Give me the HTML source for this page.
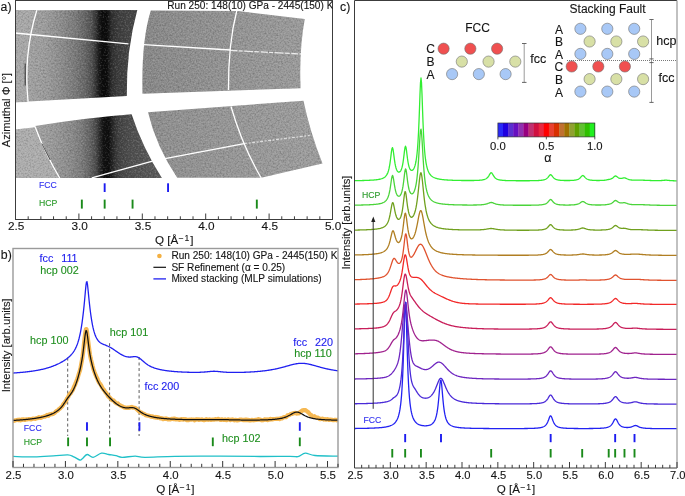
<!DOCTYPE html>
<html><head><meta charset="utf-8"><style>
html,body{margin:0;padding:0;background:#fff;width:685px;height:496px;overflow:hidden;}
svg{display:block;font-family:"Liberation Sans",sans-serif;will-change:transform;}
</style></head><body>
<svg width="685" height="496" viewBox="0 0 685 496">
<rect width="685" height="496" fill="#fff"/>
<defs>
<linearGradient id="gUL" gradientUnits="userSpaceOnUse" x1="15" y1="0" x2="140" y2="0"><stop offset="0.0000" stop-color="#a4a4a4"/><stop offset="0.1040" stop-color="#a2a2a2"/><stop offset="0.2400" stop-color="#9c9c9c"/><stop offset="0.3600" stop-color="#8e8e8e"/><stop offset="0.4800" stop-color="#7a7a7a"/><stop offset="0.5600" stop-color="#666666"/><stop offset="0.6160" stop-color="#505050"/><stop offset="0.6480" stop-color="#343434"/><stop offset="0.6720" stop-color="#1a1a1a"/><stop offset="0.6960" stop-color="#0c0c0c"/><stop offset="0.7360" stop-color="#0c0c0c"/><stop offset="0.7520" stop-color="#1c1c1c"/><stop offset="0.7760" stop-color="#303030"/><stop offset="0.8240" stop-color="#3c3c3c"/><stop offset="0.8960" stop-color="#444444"/><stop offset="1.0000" stop-color="#484848"/></linearGradient>
<linearGradient id="gLL" gradientUnits="userSpaceOnUse" x1="15" y1="0" x2="165" y2="0"><stop offset="0.0000" stop-color="#a4a4a4"/><stop offset="0.1400" stop-color="#a2a2a2"/><stop offset="0.2667" stop-color="#989898"/><stop offset="0.3800" stop-color="#8a8a8a"/><stop offset="0.4467" stop-color="#7a7a7a"/><stop offset="0.5000" stop-color="#646464"/><stop offset="0.5400" stop-color="#4a4a4a"/><stop offset="0.5667" stop-color="#2a2a2a"/><stop offset="0.5900" stop-color="#121212"/><stop offset="0.6233" stop-color="#0e0e0e"/><stop offset="0.6433" stop-color="#202020"/><stop offset="0.6700" stop-color="#363636"/><stop offset="0.7000" stop-color="#444444"/><stop offset="0.7667" stop-color="#4e4e4e"/><stop offset="0.9000" stop-color="#585858"/><stop offset="1.0000" stop-color="#5e5e5e"/></linearGradient>
<linearGradient id="gUR" gradientUnits="userSpaceOnUse" x1="140" y1="0" x2="310" y2="0"><stop offset="0" stop-color="#888888"/><stop offset="0.5" stop-color="#939393"/><stop offset="1" stop-color="#9b9b9b"/></linearGradient>
<linearGradient id="gLR" gradientUnits="userSpaceOnUse" x1="145" y1="0" x2="325" y2="0"><stop offset="0" stop-color="#8e8e8e"/><stop offset="0.5" stop-color="#979797"/><stop offset="1" stop-color="#9d9d9d"/></linearGradient>
<clipPath id="clipA"><rect x="15.5" y="0.5" width="317.0" height="219.0"/></clipPath>
<clipPath id="clipB"><rect x="13" y="248.5" width="325" height="219"/></clipPath>
<clipPath id="clipC"><rect x="354.5" y="0.5" width="322.5" height="467.5"/></clipPath>
<filter id="noise" x="0" y="0" width="100%" height="100%" color-interpolation-filters="sRGB"><feTurbulence type="fractalNoise" baseFrequency="0.6" numOctaves="2" seed="7" result="t"/><feColorMatrix in="t" type="matrix" values="0 0 0 0 0  0 0 0 0 0  0 0 0 0 0  1.2 0 0 0 -0.6" result="dk"/><feColorMatrix in="t" type="matrix" values="0 0 0 0 1  0 0 0 0 1  0 0 0 0 1  -1.2 0 0 0 0.6" result="lt"/><feMerge result="m"><feMergeNode in="dk"/><feMergeNode in="lt"/></feMerge><feComposite in="m" in2="SourceGraphic" operator="in"/></filter>
</defs>
<g clip-path="url(#clipA)">
<path d="M15,10.3 L137.3,10.1 Q126.2,50.4 126.8,96 L15,102.2 Z" fill="url(#gUL)"/>
<path d="M150.8,10.5 L238.2,11.1 L304.8,18.9 Q299,50 300.6,88.2 L142.5,93.8 Q141.2,41 150.8,10.5 Z" fill="url(#gUR)"/>
<path d="M35,126 Q84,117.9 131.6,114.2 Q142.5,147.5 161.9,178 L59.7,178 Q44.3,152 35,126 Z" fill="url(#gLL)"/>
<path d="M15,129.6 L35,127.2 Q44.3,152 59.7,178 L15,178 Z" fill="#adadad"/>
<path d="M15,10.3 L37.2,10.3 Q23.6,54.8 28.5,102 L15,102.2 Z" fill="#a8a8a8"/>
<path d="M148,112.2 L303.5,100.7 Q310,132 322.5,163.6 L261.2,177.8 L177.2,177.8 Q156,146 148,112.2 Z" fill="url(#gLR)"/>
<path d="M15,10.3 L137.3,10.1 Q126.2,50.4 126.8,96 L15,102.2 Z M150.8,10.5 L238.2,11.1 L304.8,18.9 Q299,50 300.6,88.2 L142.5,93.8 Q141.2,41 150.8,10.5 Z M35,126 Q84,117.9 131.6,114.2 Q142.5,147.5 161.9,178 L59.7,178 Q44.3,152 35,126 Z M148,112.2 L303.5,100.7 Q310,132 322.5,163.6 L261.2,177.8 L177.2,177.8 Q156,146 148,112.2 Z M15,129.6 L35,127.2 Q44.3,152 59.7,178 L15,178 Z" fill="#000" filter="url(#noise)" opacity="0.42"/>
<path d="M15,33 L128.5,43.8" stroke="#fff" fill="none" stroke-width="1.3"/>
<path d="M143.5,44.6 L230.5,50" stroke="#fff" fill="none" stroke-width="1.3"/>
<path d="M230.5,50.4 L301.5,54" stroke="#fff" fill="none" stroke-width="1.3" stroke-width="0.8" stroke-opacity="0.8" stroke-dasharray="7 1.2 4 1.5 9 1.2 5 1.5"/>
<path d="M36.8,10.3 Q23.2,54.8 28.1,102" stroke="#fff" fill="none" stroke-width="1.3" stroke-width="1.5"/>
<path d="M236.8,10.5 Q228,45 228.5,90" stroke="#fff" fill="none" stroke-width="1.3" stroke-width="1.5"/>
<path d="M35,126.4 Q44.3,152 59.7,178" stroke="#fff" fill="none" stroke-width="1.3" stroke-width="1.4"/>
<path d="M41.8,143.5 L50.2,160" stroke="#3a3a3a" stroke-width="0.9"/>
<path d="M91.8,177.8 L152.5,161.2" stroke="#fff" fill="none" stroke-width="1.3"/>
<path d="M165,158.6 L244.2,143.6" stroke="#fff" fill="none" stroke-width="1.3"/>
<path d="M244.2,143.6 L309.8,135.4" stroke="#fff" fill="none" stroke-width="1.3" stroke-dasharray="3 1.5 2 1.5" stroke-width="0.7" stroke-opacity="0.65"/>
<path d="M231,106.5 Q242,145 261.2,178" stroke="#fff" fill="none" stroke-width="1.3" stroke-width="1.5"/>
<path d="M25.2,63.5 L25.2,85.6" stroke="#333" stroke-width="1"/>
</g>
<line x1="104.66" y1="183.3" x2="104.66" y2="192" stroke="#1c1cf0" stroke-width="1.9"/>
<line x1="168.06" y1="183.3" x2="168.06" y2="192" stroke="#1c1cf0" stroke-width="1.9"/>
<line x1="81.84" y1="199.6" x2="81.84" y2="208.6" stroke="#1a8a1a" stroke-width="1.9"/>
<line x1="104.66" y1="199.6" x2="104.66" y2="208.6" stroke="#1a8a1a" stroke-width="1.9"/>
<line x1="132.56" y1="199.6" x2="132.56" y2="208.6" stroke="#1a8a1a" stroke-width="1.9"/>
<line x1="256.82" y1="199.6" x2="256.82" y2="208.6" stroke="#1a8a1a" stroke-width="1.9"/>
<text x="39" y="187.8" font-size="8.7" fill="#3030f0" stroke="#3030f0" stroke-width="0.12" text-anchor="start" >FCC</text>
<text x="39" y="206.2" font-size="8.7" fill="#2a9a2a" stroke="#2a9a2a" stroke-width="0.12" text-anchor="start" >HCP</text>
<rect x="15.5" y="0.5" width="317.0" height="219.0" fill="none" stroke="#3c3c3c" stroke-width="1"/>
<line x1="15.5" y1="219.5" x2="15.5" y2="213.5" stroke="#3c3c3c" stroke-width="1"/>
<line x1="28.18" y1="219.5" x2="28.18" y2="216.3" stroke="#3c3c3c" stroke-width="1"/>
<line x1="40.86" y1="219.5" x2="40.86" y2="216.3" stroke="#3c3c3c" stroke-width="1"/>
<line x1="53.54" y1="219.5" x2="53.54" y2="216.3" stroke="#3c3c3c" stroke-width="1"/>
<line x1="66.22" y1="219.5" x2="66.22" y2="216.3" stroke="#3c3c3c" stroke-width="1"/>
<line x1="78.9" y1="219.5" x2="78.9" y2="213.5" stroke="#3c3c3c" stroke-width="1"/>
<line x1="91.58" y1="219.5" x2="91.58" y2="216.3" stroke="#3c3c3c" stroke-width="1"/>
<line x1="104.26" y1="219.5" x2="104.26" y2="216.3" stroke="#3c3c3c" stroke-width="1"/>
<line x1="116.94" y1="219.5" x2="116.94" y2="216.3" stroke="#3c3c3c" stroke-width="1"/>
<line x1="129.62" y1="219.5" x2="129.62" y2="216.3" stroke="#3c3c3c" stroke-width="1"/>
<line x1="142.3" y1="219.5" x2="142.3" y2="213.5" stroke="#3c3c3c" stroke-width="1"/>
<line x1="154.98" y1="219.5" x2="154.98" y2="216.3" stroke="#3c3c3c" stroke-width="1"/>
<line x1="167.66" y1="219.5" x2="167.66" y2="216.3" stroke="#3c3c3c" stroke-width="1"/>
<line x1="180.34" y1="219.5" x2="180.34" y2="216.3" stroke="#3c3c3c" stroke-width="1"/>
<line x1="193.02" y1="219.5" x2="193.02" y2="216.3" stroke="#3c3c3c" stroke-width="1"/>
<line x1="205.7" y1="219.5" x2="205.7" y2="213.5" stroke="#3c3c3c" stroke-width="1"/>
<line x1="218.38" y1="219.5" x2="218.38" y2="216.3" stroke="#3c3c3c" stroke-width="1"/>
<line x1="231.06" y1="219.5" x2="231.06" y2="216.3" stroke="#3c3c3c" stroke-width="1"/>
<line x1="243.74" y1="219.5" x2="243.74" y2="216.3" stroke="#3c3c3c" stroke-width="1"/>
<line x1="256.42" y1="219.5" x2="256.42" y2="216.3" stroke="#3c3c3c" stroke-width="1"/>
<line x1="269.1" y1="219.5" x2="269.1" y2="213.5" stroke="#3c3c3c" stroke-width="1"/>
<line x1="281.78" y1="219.5" x2="281.78" y2="216.3" stroke="#3c3c3c" stroke-width="1"/>
<line x1="294.46" y1="219.5" x2="294.46" y2="216.3" stroke="#3c3c3c" stroke-width="1"/>
<line x1="307.14" y1="219.5" x2="307.14" y2="216.3" stroke="#3c3c3c" stroke-width="1"/>
<line x1="319.82" y1="219.5" x2="319.82" y2="216.3" stroke="#3c3c3c" stroke-width="1"/>
<line x1="332.5" y1="219.5" x2="332.5" y2="213.5" stroke="#3c3c3c" stroke-width="1"/>
<text x="16.2" y="230.2" font-size="11.8" fill="#151515" stroke="#151515" stroke-width="0.12" text-anchor="middle" >2.5</text>
<text x="79.6" y="230.2" font-size="11.8" fill="#151515" stroke="#151515" stroke-width="0.12" text-anchor="middle" >3.0</text>
<text x="143" y="230.2" font-size="11.8" fill="#151515" stroke="#151515" stroke-width="0.12" text-anchor="middle" >3.5</text>
<text x="206.4" y="230.2" font-size="11.8" fill="#151515" stroke="#151515" stroke-width="0.12" text-anchor="middle" >4.0</text>
<text x="269.8" y="230.2" font-size="11.8" fill="#151515" stroke="#151515" stroke-width="0.12" text-anchor="middle" >4.5</text>
<text x="333.2" y="230.2" font-size="11.8" fill="#151515" stroke="#151515" stroke-width="0.12" text-anchor="middle" >5.0</text>
<text x="174.2" y="244.3" font-size="11.6" fill="#151515" stroke="#151515" stroke-width="0.12" text-anchor="middle" >Q [Å<tspan dy="-3.3" font-size="8.6">−<tspan dx="1.3">1</tspan></tspan><tspan dy="3.3" dx="0.8">]</tspan></text>
<text x="0.6" y="10.6" font-size="12.3" fill="#151515" stroke="#151515" stroke-width="0.12" text-anchor="start" >a)</text>
<text x="167.3" y="9.4" font-size="10.1" fill="#151515" stroke="#151515" stroke-width="0.12" text-anchor="start" clip-path="url(#clipA)">Run 250: 148(10) GPa - 2445(150) K</text>
<text transform="translate(9.7,110) rotate(-90)" font-size="11.1" fill="#151515" stroke="#151515" stroke-width="0.12" text-anchor="middle">Azimuthal Φ [°]</text>
<g clip-path="url(#clipB)">
<line x1="67.7" y1="357.6" x2="67.7" y2="436" stroke="#333" stroke-width="0.8" stroke-dasharray="3 2.5"/>
<line x1="109.6" y1="343.2" x2="109.6" y2="436" stroke="#333" stroke-width="0.8" stroke-dasharray="3 2.5"/>
<line x1="139.1" y1="357" x2="139.1" y2="436" stroke="#333" stroke-width="0.8" stroke-dasharray="3 2.5"/>
<path d="M12.5,420.5 L13,420.92 L13.5,420.76 L14,420.81 L14.5,420.62 L15,420.47 L15.5,420.31 L16,420.02 L16.5,420.09 L17,419.95 L17.5,419.84 L18,419.8 L18.5,420.1 L19,419.79 L19.5,419.69 L20,419.76 L20.5,420.36 L21,420.17 L21.5,420.04 L22,419.48 L22.5,419.56 L23,419.24 L23.5,419.3 L24,419.59 L24.5,419.84 L25,419.88 L25.5,419.58 L26,419.4 L26.5,419.32 L27,419.48 L27.5,419.32 L28,419.28 L28.5,419.06 L29,419.11 L29.5,419.1 L30,419.1 L30.5,419.3 L31,419.17 L31.5,419.36 L32,419 L32.5,418.86 L33,418.52 L33.5,418.58 L34,418.64 L34.5,418.79 L35,418.86 L35.5,418.82 L36,418.45 L36.5,418.14 L37,418.22 L37.5,418.24 L38,417.93 L38.5,417.46 L39,417.22 L39.5,417.57 L40,417.58 L40.5,418 L41,417.81 L41.5,417.74 L42,417.14 L42.5,417.08 L43,416.9 L43.5,416.71 L44,416.51 L44.5,416.42 L45,416.66 L45.5,416.41 L46,415.74 L46.5,415.52 L47,415.03 L47.5,415.68 L48,415.71 L48.5,415.8 L49,415.13 L49.5,414.36 L50,414.41 L50.5,414.38 L51,414.32 L51.5,413.91 L52,414.1 L52.5,414.04 L53,413.98 L53.5,413.49 L54,413.35 L54.5,413.13 L55,412.57 L55.5,412.04 L56,411.38 L56.5,411.05 L57,410.95 L57.5,410.62 L58,410.35 L58.5,409.6 L59,409.15 L59.5,408.85 L60,408.41 L60.5,407.92 L61,407.32 L61.5,406.92 L62,406.55 L62.5,405.85 L63,404.76 L63.5,404.03 L64,403.35 L64.5,403.1 L65,402.04 L65.5,401.61 L66,400.39 L66.5,399.86 L67,398.6 L67.5,397.94 L68,397.17 L68.5,396.34 L69,395.24 L69.5,394.12 L70,393.5 L70.5,393.57 L71,392.74 L71.5,391.86 L72,390.92 L72.5,390.49 L73,389.59 L73.5,388.18 L74,386.81 L74.5,385.74 L75,384.86 L75.5,383.61 L76,382.19 L76.5,380.97 L77,379.87 L77.5,378.51 L78,376.76 L78.5,374.95 L79,373.42 L79.5,371.83 L80,370.26 L80.5,367.97 L81,365.38 L81.5,362.62 L82,359.9 L82.5,356.8 L83,353.16 L83.5,348.73 L84,343.79 L84.5,339.11 L85,334.73 L85.5,331.34 L86,329.01 L86.5,329.03 L87,331.59 L87.5,335.43 L88,339.63 L88.5,343.62 L89,347.49 L89.5,351.31 L90,354.79 L90.5,357.52 L91,359.7 L91.5,361.56 L92,363.52 L92.5,365.76 L93,367.55 L93.5,369.38 L94,370.71 L94.5,372.19 L95,373.39 L95.5,374.86 L96,375.94 L96.5,376.97 L97,378.06 L97.5,379.02 L98,380.48 L98.5,381.43 L99,382.56 L99.5,383.21 L100,383.99 L100.5,384.32 L101,385.36 L101.5,386.04 L102,387.46 L102.5,387.92 L103,388.82 L103.5,389.37 L104,390.04 L104.5,390.77 L105,391.61 L105.5,392.43 L106,392.9 L106.5,393.37 L107,394.13 L107.5,395.2 L108,396.06 L108.5,396.65 L109,396.82 L109.5,397.38 L110,397.85 L110.5,398.5 L111,398.99 L111.5,399.56 L112,400.15 L112.5,400.2 L113,400.38 L113.5,400.37 L114,400.99 L114.5,401.47 L115,402.3 L115.5,402.64 L116,402.9 L116.5,403.44 L117,403.53 L117.5,403.68 L118,403.5 L118.5,404.11 L119,404.61 L119.5,404.96 L120,404.98 L120.5,405.62 L121,405.88 L121.5,406.17 L122,406.15 L122.5,406.36 L123,406.73 L123.5,407.2 L124,407.44 L124.5,407.61 L125,407.42 L125.5,407.56 L126,407.79 L126.5,408 L127,407.99 L127.5,407.68 L128,407.54 L128.5,407.73 L129,407.86 L129.5,407.82 L130,407.29 L130.5,407.44 L131,407.15 L131.5,407.23 L132,406.98 L132.5,407.29 L133,407.6 L133.5,407.62 L134,407.69 L134.5,407.74 L135,407.75 L135.5,408.01 L136,408.26 L136.5,408.97 L137,409.32 L137.5,409.96 L138,410.37 L138.5,410.92 L139,411.32 L139.5,411.68 L140,411.84 L140.5,412.21 L141,412.25 L141.5,412.6 L142,412.82 L142.5,413.24 L143,413.67 L143.5,413.63 L144,413.85 L144.5,414.07 L145,414.58 L145.5,415.12 L146,415.22 L146.5,415.35 L147,415.43 L147.5,415.71 L148,415.59 L148.5,415.54 L149,415.87 L149.5,416.03 L150,416.4 L150.5,416.19 L151,416.73 L151.5,416.59 L152,416.8 L152.5,416.36 L153,416.6 L153.5,416.89 L154,417.08 L154.5,417.4 L155,417.17 L155.5,417.52 L156,416.88 L156.5,417.29 L157,417.21 L157.5,417.7 L158,417.33 L158.5,417.38 L159,417.76 L159.5,417.96 L160,418.37 L160.5,418.19 L161,418.4 L161.5,418.2 L162,418.36 L162.5,418.83 L163,419.09 L163.5,419.15 L164,418.64 L164.5,418.75 L165,418.95 L165.5,418.76 L166,418.37 L166.5,418.54 L167,418.97 L167.5,419.28 L168,419.04 L168.5,419.19 L169,419.35 L169.5,419.24 L170,419.45 L170.5,419.33 L171,419.24 L171.5,418.79 L172,418.79 L172.5,418.91 L173,419 L173.5,419.11 L174,418.6 L174.5,418.52 L175,418.66 L175.5,419.38 L176,419.42 L176.5,419.16 L177,419.28 L177.5,419.38 L178,419.41 L178.5,419.56 L179,419.56 L179.5,419.8 L180,419.46 L180.5,419.56 L181,419.27 L181.5,419.14 L182,419.38 L182.5,419.35 L183,419.57 L183.5,419.13 L184,419.31 L184.5,419.26 L185,419.19 L185.5,419.45 L186,419.43 L186.5,419.96 L187,419.59 L187.5,419.8 L188,420.01 L188.5,420.23 L189,419.95 L189.5,419.61 L190,419.6 L190.5,419.69 L191,419.58 L191.5,419.45 L192,419.57 L192.5,419.53 L193,419.48 L193.5,419.55 L194,419.59 L194.5,420.24 L195,420.04 L195.5,419.94 L196,419.35 L196.5,419.47 L197,419.47 L197.5,419.34 L198,419.57 L198.5,419.46 L199,419.97 L199.5,419.69 L200,419.72 L200.5,419.75 L201,419.68 L201.5,419.68 L202,419.39 L202.5,419.65 L203,419.96 L203.5,420.09 L204,420.18 L204.5,420.08 L205,420 L205.5,419.63 L206,419.32 L206.5,419.22 L207,419.55 L207.5,419.49 L208,419.76 L208.5,419.51 L209,419.65 L209.5,419.41 L210,419.69 L210.5,419.75 L211,419.88 L211.5,419.75 L212,419.69 L212.5,419.66 L213,419.55 L213.5,419.63 L214,419.63 L214.5,419.47 L215,419.45 L215.5,419.1 L216,419.24 L216.5,419.27 L217,419.4 L217.5,419.12 L218,418.95 L218.5,418.91 L219,419.26 L219.5,419.37 L220,419.78 L220.5,419.73 L221,419.92 L221.5,419.44 L222,419.73 L222.5,419.45 L223,419.78 L223.5,419.74 L224,419.98 L224.5,419.76 L225,419.46 L225.5,419.68 L226,420.06 L226.5,420.19 L227,419.84 L227.5,419.47 L228,419.41 L228.5,419.39 L229,419.48 L229.5,419.86 L230,419.92 L230.5,420.18 L231,419.61 L231.5,419.76 L232,419.54 L232.5,419.45 L233,419.5 L233.5,419.77 L234,420.18 L234.5,420.34 L235,419.97 L235.5,419.82 L236,419.74 L236.5,420.02 L237,420.3 L237.5,420.09 L238,420.29 L238.5,420 L239,420.14 L239.5,419.62 L240,419.66 L240.5,419.68 L241,419.68 L241.5,419.64 L242,419.71 L242.5,419.87 L243,420.07 L243.5,419.87 L244,420.11 L244.5,419.94 L245,420.2 L245.5,419.7 L246,419.76 L246.5,419.68 L247,420.19 L247.5,419.96 L248,420.22 L248.5,419.85 L249,420.31 L249.5,420.16 L250,420.22 L250.5,420.38 L251,420.05 L251.5,420.16 L252,419.8 L252.5,420.11 L253,420.18 L253.5,420.28 L254,420.27 L254.5,420.23 L255,419.91 L255.5,419.75 L256,419.91 L256.5,419.86 L257,419.93 L257.5,419.39 L258,419.46 L258.5,419.14 L259,419.73 L259.5,419.52 L260,419.76 L260.5,419.65 L261,420.09 L261.5,420.26 L262,420.31 L262.5,420.27 L263,420.26 L263.5,420.04 L264,419.93 L264.5,419.44 L265,419.46 L265.5,419.68 L266,419.84 L266.5,419.58 L267,419.34 L267.5,419.66 L268,420.07 L268.5,419.75 L269,419.59 L269.5,419.22 L270,419.52 L270.5,418.99 L271,419.24 L271.5,419.08 L272,419.49 L272.5,419.25 L273,419.09 L273.5,419.1 L274,419 L274.5,419.01 L275,418.98 L275.5,419 L276,418.93 L276.5,418.92 L277,418.76 L277.5,418.81 L278,418.7 L278.5,418.9 L279,419.04 L279.5,419.12 L280,418.86 L280.5,418.39 L281,418.28 L281.5,418.42 L282,418.39 L282.5,418.08 L283,417.62 L283.5,417.25 L284,417.16 L284.5,417.13 L285,417.27 L285.5,417.2 L286,417.21 L286.5,416.87 L287,416.14 L287.5,415.31 L288,415.2 L288.5,415.09 L289,415.26 L289.5,415 L290,414.69 L290.5,414.29 L291,413.75 L291.5,413.84 L292,413.58 L292.5,413.76 L293,413.22 L293.5,413.16 L294,413.05 L294.5,413.04 L295,412.86 L295.5,413.19 L296,413.28 L296.5,413.64 L297,413.31 L297.5,413.29 L298,413.44 L298.5,413.45 L299,413.45 L299.5,412.47 L300,412.03 L300.5,411.63 L301,411.59 L301.5,411.02 L302,410.66 L302.5,410.32 L303,410.24 L303.5,410.11 L304,410.28 L304.5,410.07 L305,410.19 L305.5,410.2 L306,410.48 L306.5,410.91 L307,411.2 L307.5,411.96 L308,411.93 L308.5,412.53 L309,412.98 L309.5,413.86 L310,414.36 L310.5,414.65 L311,414.84 L311.5,415.54 L312,415.93 L312.5,416.36 L313,416.68 L313.5,416.68 L314,416.54 L314.5,416.22 L315,416.65 L315.5,417 L316,417.34 L316.5,417.54 L317,417.61 L317.5,417.78 L318,417.65 L318.5,418.18 L319,418.29 L319.5,419.06 L320,419.17 L320.5,419.18 L321,418.92 L321.5,418.87 L322,418.85 L322.5,418.58 L323,418.82 L323.5,419.3 L324,419.53 L324.5,419.34 L325,419.02 L325.5,419.34 L326,419.65 L326.5,419.63 L327,419.42 L327.5,419.14 L328,419.37 L328.5,419.61 L329,419.94 L329.5,419.88 L330,419.59 L330.5,419.52 L331,419.71 L331.5,419.85 L332,419.81 L332.5,419.79 L333,420.04 L333.5,420.04 L334,420.08 L334.5,419.98 L335,419.8 L335.5,419.86 L336,419.87 L336.5,420.25 L337,419.92 L337.5,419.79 L338,419.67 L338.5,419.9" fill="none" stroke="#f4b040" stroke-opacity="0.9" stroke-width="4.2" stroke-linejoin="round"/>
<path d="M12.5,420.49 L13,420.46 L13.5,420.43 L14,420.4 L14.5,420.37 L15,420.34 L15.5,420.3 L16,420.27 L16.5,420.24 L17,420.2 L17.5,420.17 L18,420.14 L18.5,420.1 L19,420.06 L19.5,420.03 L20,419.99 L20.5,419.95 L21,419.91 L21.5,419.87 L22,419.83 L22.5,419.79 L23,419.75 L23.5,419.7 L24,419.66 L24.5,419.61 L25,419.57 L25.5,419.52 L26,419.47 L26.5,419.42 L27,419.37 L27.5,419.32 L28,419.27 L28.5,419.21 L29,419.16 L29.5,419.1 L30,419.04 L30.5,418.98 L31,418.92 L31.5,418.86 L32,418.8 L32.5,418.73 L33,418.67 L33.5,418.6 L34,418.53 L34.5,418.45 L35,418.38 L35.5,418.3 L36,418.23 L36.5,418.15 L37,418.06 L37.5,417.98 L38,417.89 L38.5,417.8 L39,417.71 L39.5,417.62 L40,417.52 L40.5,417.42 L41,417.32 L41.5,417.21 L42,417.1 L42.5,416.99 L43,416.87 L43.5,416.75 L44,416.63 L44.5,416.5 L45,416.37 L45.5,416.23 L46,416.09 L46.5,415.94 L47,415.79 L47.5,415.63 L48,415.47 L48.5,415.3 L49,415.13 L49.5,414.95 L50,414.76 L50.5,414.56 L51,414.36 L51.5,414.15 L52,413.93 L52.5,413.7 L53,413.46 L53.5,413.21 L54,412.95 L54.5,412.67 L55,412.39 L55.5,412.08 L56,411.77 L56.5,411.44 L57,411.09 L57.5,410.73 L58,410.34 L58.5,409.94 L59,409.51 L59.5,409.06 L60,408.58 L60.5,408.08 L61,407.55 L61.5,406.99 L62,406.4 L62.5,405.77 L63,405.12 L63.5,404.43 L64,403.72 L64.5,402.98 L65,402.23 L65.5,401.46 L66,400.69 L66.5,399.92 L67,399.17 L67.5,398.43 L68,397.72 L68.5,397.03 L69,396.36 L69.5,395.7 L70,395.03 L70.5,394.36 L71,393.66 L71.5,392.93 L72,392.15 L72.5,391.32 L73,390.43 L73.5,389.48 L74,388.45 L74.5,387.36 L75,386.19 L75.5,384.94 L76,383.61 L76.5,382.21 L77,380.72 L77.5,379.14 L78,377.47 L78.5,375.7 L79,373.84 L79.5,371.85 L80,369.75 L80.5,367.49 L81,365.06 L81.5,362.42 L82,359.53 L82.5,356.34 L83,352.8 L83.5,348.89 L84,344.64 L84.5,340.23 L85,336.03 L85.5,332.66 L86,330.8 L86.5,330.89 L87,332.87 L87.5,336.17 L88,340.12 L88.5,344.16 L89,347.98 L89.5,351.45 L90,354.56 L90.5,357.35 L91,359.86 L91.5,362.14 L92,364.24 L92.5,366.19 L93,368 L93.5,369.71 L94,371.32 L94.5,372.84 L95,374.29 L95.5,375.66 L96,376.96 L96.5,378.2 L97,379.38 L97.5,380.5 L98,381.56 L98.5,382.58 L99,383.54 L99.5,384.47 L100,385.34 L100.5,386.19 L101,386.99 L101.5,387.76 L102,388.51 L102.5,389.22 L103,389.91 L103.5,390.58 L104,391.23 L104.5,391.86 L105,392.48 L105.5,393.08 L106,393.67 L106.5,394.25 L107,394.82 L107.5,395.38 L108,395.93 L108.5,396.47 L109,397 L109.5,397.52 L110,398.04 L110.5,398.55 L111,399.05 L111.5,399.53 L112,400.01 L112.5,400.48 L113,400.94 L113.5,401.39 L114,401.83 L114.5,402.26 L115,402.67 L115.5,403.07 L116,403.46 L116.5,403.83 L117,404.19 L117.5,404.53 L118,404.86 L118.5,405.18 L119,405.48 L119.5,405.76 L120,406.03 L120.5,406.28 L121,406.51 L121.5,406.72 L122,406.92 L122.5,407.1 L123,407.26 L123.5,407.4 L124,407.52 L124.5,407.62 L125,407.71 L125.5,407.77 L126,407.82 L126.5,407.84 L127,407.85 L127.5,407.85 L128,407.83 L128.5,407.8 L129,407.76 L129.5,407.71 L130,407.67 L130.5,407.62 L131,407.59 L131.5,407.57 L132,407.58 L132.5,407.6 L133,407.66 L133.5,407.76 L134,407.89 L134.5,408.06 L135,408.27 L135.5,408.51 L136,408.78 L136.5,409.08 L137,409.41 L137.5,409.75 L138,410.1 L138.5,410.46 L139,410.82 L139.5,411.18 L140,411.53 L140.5,411.88 L141,412.22 L141.5,412.54 L142,412.86 L142.5,413.16 L143,413.44 L143.5,413.72 L144,413.98 L144.5,414.22 L145,414.46 L145.5,414.68 L146,414.9 L146.5,415.1 L147,415.29 L147.5,415.47 L148,415.64 L148.5,415.81 L149,415.97 L149.5,416.11 L150,416.26 L150.5,416.39 L151,416.52 L151.5,416.64 L152,416.76 L152.5,416.87 L153,416.98 L153.5,417.08 L154,417.18 L154.5,417.28 L155,417.37 L155.5,417.45 L156,417.54 L156.5,417.62 L157,417.7 L157.5,417.77 L158,417.84 L158.5,417.91 L159,417.98 L159.5,418.04 L160,418.1 L160.5,418.16 L161,418.22 L161.5,418.27 L162,418.33 L162.5,418.38 L163,418.43 L163.5,418.48 L164,418.52 L164.5,418.57 L165,418.61 L165.5,418.65 L166,418.7 L166.5,418.73 L167,418.77 L167.5,418.81 L168,418.85 L168.5,418.88 L169,418.91 L169.5,418.95 L170,418.98 L170.5,419.01 L171,419.04 L171.5,419.07 L172,419.09 L172.5,419.12 L173,419.15 L173.5,419.17 L174,419.2 L174.5,419.22 L175,419.24 L175.5,419.26 L176,419.29 L176.5,419.31 L177,419.33 L177.5,419.34 L178,419.36 L178.5,419.38 L179,419.4 L179.5,419.41 L180,419.43 L180.5,419.45 L181,419.46 L181.5,419.47 L182,419.49 L182.5,419.5 L183,419.51 L183.5,419.52 L184,419.53 L184.5,419.55 L185,419.56 L185.5,419.56 L186,419.57 L186.5,419.58 L187,419.59 L187.5,419.6 L188,419.6 L188.5,419.61 L189,419.62 L189.5,419.62 L190,419.63 L190.5,419.63 L191,419.63 L191.5,419.64 L192,419.64 L192.5,419.64 L193,419.65 L193.5,419.65 L194,419.65 L194.5,419.65 L195,419.65 L195.5,419.65 L196,419.65 L196.5,419.65 L197,419.65 L197.5,419.65 L198,419.64 L198.5,419.64 L199,419.64 L199.5,419.64 L200,419.63 L200.5,419.63 L201,419.63 L201.5,419.62 L202,419.62 L202.5,419.61 L203,419.61 L203.5,419.6 L204,419.6 L204.5,419.59 L205,419.59 L205.5,419.58 L206,419.58 L206.5,419.57 L207,419.57 L207.5,419.56 L208,419.56 L208.5,419.55 L209,419.55 L209.5,419.55 L210,419.54 L210.5,419.54 L211,419.53 L211.5,419.53 L212,419.53 L212.5,419.53 L213,419.53 L213.5,419.52 L214,419.52 L214.5,419.52 L215,419.53 L215.5,419.53 L216,419.53 L216.5,419.53 L217,419.53 L217.5,419.54 L218,419.54 L218.5,419.55 L219,419.55 L219.5,419.56 L220,419.56 L220.5,419.57 L221,419.58 L221.5,419.59 L222,419.6 L222.5,419.61 L223,419.62 L223.5,419.63 L224,419.64 L224.5,419.65 L225,419.66 L225.5,419.67 L226,419.68 L226.5,419.69 L227,419.71 L227.5,419.72 L228,419.73 L228.5,419.74 L229,419.76 L229.5,419.77 L230,419.78 L230.5,419.79 L231,419.81 L231.5,419.82 L232,419.83 L232.5,419.84 L233,419.85 L233.5,419.86 L234,419.88 L234.5,419.89 L235,419.9 L235.5,419.91 L236,419.92 L236.5,419.93 L237,419.94 L237.5,419.95 L238,419.96 L238.5,419.97 L239,419.98 L239.5,419.99 L240,419.99 L240.5,420 L241,420.01 L241.5,420.02 L242,420.02 L242.5,420.03 L243,420.03 L243.5,420.04 L244,420.05 L244.5,420.05 L245,420.06 L245.5,420.06 L246,420.06 L246.5,420.07 L247,420.07 L247.5,420.07 L248,420.08 L248.5,420.08 L249,420.08 L249.5,420.08 L250,420.08 L250.5,420.08 L251,420.08 L251.5,420.08 L252,420.08 L252.5,420.08 L253,420.08 L253.5,420.08 L254,420.07 L254.5,420.07 L255,420.07 L255.5,420.06 L256,420.06 L256.5,420.05 L257,420.05 L257.5,420.04 L258,420.04 L258.5,420.03 L259,420.02 L259.5,420.01 L260,420 L260.5,419.99 L261,419.98 L261.5,419.97 L262,419.96 L262.5,419.95 L263,419.94 L263.5,419.92 L264,419.91 L264.5,419.89 L265,419.88 L265.5,419.86 L266,419.84 L266.5,419.82 L267,419.8 L267.5,419.78 L268,419.76 L268.5,419.73 L269,419.71 L269.5,419.68 L270,419.65 L270.5,419.62 L271,419.59 L271.5,419.56 L272,419.52 L272.5,419.48 L273,419.44 L273.5,419.4 L274,419.36 L274.5,419.31 L275,419.26 L275.5,419.21 L276,419.16 L276.5,419.1 L277,419.03 L277.5,418.97 L278,418.9 L278.5,418.82 L279,418.74 L279.5,418.66 L280,418.57 L280.5,418.48 L281,418.38 L281.5,418.27 L282,418.15 L282.5,418.03 L283,417.9 L283.5,417.76 L284,417.62 L284.5,417.46 L285,417.29 L285.5,417.11 L286,416.93 L286.5,416.73 L287,416.52 L287.5,416.29 L288,416.06 L288.5,415.81 L289,415.55 L289.5,415.28 L290,415.01 L290.5,414.72 L291,414.43 L291.5,414.14 L292,413.85 L292.5,413.56 L293,413.28 L293.5,413.02 L294,412.78 L294.5,412.57 L295,412.39 L295.5,412.25 L296,412.15 L296.5,412.09 L297,412.08 L297.5,412.12 L298,412.2 L298.5,412.33 L299,412.5 L299.5,412.7 L300,412.93 L300.5,413.19 L301,413.46 L301.5,413.74 L302,414.03 L302.5,414.32 L303,414.61 L303.5,414.9 L304,415.18 L304.5,415.45 L305,415.72 L305.5,415.97 L306,416.21 L306.5,416.43 L307,416.65 L307.5,416.85 L308,417.05 L308.5,417.23 L309,417.4 L309.5,417.56 L310,417.71 L310.5,417.85 L311,417.98 L311.5,418.11 L312,418.23 L312.5,418.34 L313,418.44 L313.5,418.54 L314,418.63 L314.5,418.72 L315,418.8 L315.5,418.87 L316,418.95 L316.5,419.01 L317,419.08 L317.5,419.14 L318,419.2 L318.5,419.25 L319,419.3 L319.5,419.35 L320,419.4 L320.5,419.44 L321,419.48 L321.5,419.52 L322,419.56 L322.5,419.59 L323,419.63 L323.5,419.66 L324,419.69 L324.5,419.72 L325,419.75 L325.5,419.77 L326,419.8 L326.5,419.82 L327,419.84 L327.5,419.87 L328,419.89 L328.5,419.91 L329,419.92 L329.5,419.94 L330,419.96 L330.5,419.98 L331,419.99 L331.5,420.01 L332,420.02 L332.5,420.04 L333,420.05 L333.5,420.06 L334,420.07 L334.5,420.09 L335,420.1 L335.5,420.11 L336,420.12 L336.5,420.13 L337,420.14 L337.5,420.15 L338,420.16 L338.5,420.16" fill="none" stroke="#111" stroke-width="1.25"/>
<path d="M12.5,373.09 L13,373.05 L13.5,373.02 L14,372.98 L14.5,372.95 L15,372.91 L15.5,372.88 L16,372.84 L16.5,372.8 L17,372.76 L17.5,372.72 L18,372.68 L18.5,372.64 L19,372.6 L19.5,372.56 L20,372.52 L20.5,372.47 L21,372.43 L21.5,372.38 L22,372.33 L22.5,372.29 L23,372.24 L23.5,372.19 L24,372.14 L24.5,372.09 L25,372.03 L25.5,371.98 L26,371.93 L26.5,371.87 L27,371.81 L27.5,371.75 L28,371.69 L28.5,371.63 L29,371.57 L29.5,371.51 L30,371.44 L30.5,371.38 L31,371.31 L31.5,371.24 L32,371.17 L32.5,371.1 L33,371.03 L33.5,370.95 L34,370.87 L34.5,370.79 L35,370.71 L35.5,370.63 L36,370.55 L36.5,370.46 L37,370.37 L37.5,370.28 L38,370.19 L38.5,370.1 L39,370 L39.5,369.9 L40,369.8 L40.5,369.7 L41,369.59 L41.5,369.48 L42,369.37 L42.5,369.26 L43,369.14 L43.5,369.02 L44,368.9 L44.5,368.77 L45,368.64 L45.5,368.51 L46,368.38 L46.5,368.24 L47,368.1 L47.5,367.95 L48,367.81 L48.5,367.65 L49,367.5 L49.5,367.34 L50,367.18 L50.5,367.01 L51,366.84 L51.5,366.66 L52,366.48 L52.5,366.3 L53,366.11 L53.5,365.92 L54,365.72 L54.5,365.52 L55,365.32 L55.5,365.11 L56,364.89 L56.5,364.67 L57,364.44 L57.5,364.21 L58,363.98 L58.5,363.73 L59,363.49 L59.5,363.23 L60,362.97 L60.5,362.71 L61,362.44 L61.5,362.16 L62,361.87 L62.5,361.58 L63,361.28 L63.5,360.98 L64,360.66 L64.5,360.34 L65,360.01 L65.5,359.67 L66,359.32 L66.5,358.95 L67,358.58 L67.5,358.19 L68,357.79 L68.5,357.37 L69,356.93 L69.5,356.48 L70,356.01 L70.5,355.51 L71,354.98 L71.5,354.43 L72,353.84 L72.5,353.22 L73,352.56 L73.5,351.85 L74,351.09 L74.5,350.27 L75,349.39 L75.5,348.43 L76,347.39 L76.5,346.26 L77,345.02 L77.5,343.66 L78,342.17 L78.5,340.52 L79,338.71 L79.5,336.7 L80,334.49 L80.5,332.04 L81,329.33 L81.5,326.34 L82,323.05 L82.5,319.42 L83,315.45 L83.5,311.1 L84,306.35 L84.5,301.2 L85,295.69 L85.5,290.09 L86,285.11 L86.5,281.98 L87,281.83 L87.5,284.63 L88,289.21 L88.5,294.37 L89,299.44 L89.5,304.18 L90,308.55 L90.5,312.53 L91,316.16 L91.5,319.44 L92,322.4 L92.5,325.06 L93,327.44 L93.5,329.56 L94,331.44 L94.5,333.11 L95,334.58 L95.5,335.88 L96,337.02 L96.5,338.03 L97,338.92 L97.5,339.7 L98,340.38 L98.5,340.98 L99,341.51 L99.5,341.98 L100,342.4 L100.5,342.77 L101,343.09 L101.5,343.39 L102,343.66 L102.5,343.91 L103,344.14 L103.5,344.35 L104,344.56 L104.5,344.76 L105,344.96 L105.5,345.16 L106,345.36 L106.5,345.57 L107,345.78 L107.5,346 L108,346.23 L108.5,346.47 L109,346.72 L109.5,346.97 L110,347.24 L110.5,347.52 L111,347.81 L111.5,348.11 L112,348.42 L112.5,348.74 L113,349.07 L113.5,349.4 L114,349.73 L114.5,350.08 L115,350.42 L115.5,350.77 L116,351.11 L116.5,351.46 L117,351.81 L117.5,352.15 L118,352.49 L118.5,352.82 L119,353.15 L119.5,353.47 L120,353.78 L120.5,354.09 L121,354.38 L121.5,354.66 L122,354.93 L122.5,355.19 L123,355.43 L123.5,355.66 L124,355.87 L124.5,356.07 L125,356.25 L125.5,356.41 L126,356.55 L126.5,356.68 L127,356.79 L127.5,356.87 L128,356.94 L128.5,356.99 L129,357.02 L129.5,357.04 L130,357.03 L130.5,357.01 L131,356.98 L131.5,356.94 L132,356.88 L132.5,356.83 L133,356.77 L133.5,356.72 L134,356.68 L134.5,356.65 L135,356.65 L135.5,356.67 L136,356.72 L136.5,356.81 L137,356.94 L137.5,357.12 L138,357.33 L138.5,357.58 L139,357.88 L139.5,358.2 L140,358.56 L140.5,358.95 L141,359.35 L141.5,359.78 L142,360.21 L142.5,360.64 L143,361.08 L143.5,361.51 L144,361.94 L144.5,362.36 L145,362.77 L145.5,363.16 L146,363.54 L146.5,363.91 L147,364.26 L147.5,364.6 L148,364.93 L148.5,365.24 L149,365.53 L149.5,365.82 L150,366.08 L150.5,366.34 L151,366.59 L151.5,366.82 L152,367.04 L152.5,367.26 L153,367.46 L153.5,367.65 L154,367.84 L154.5,368.01 L155,368.18 L155.5,368.35 L156,368.5 L156.5,368.65 L157,368.79 L157.5,368.93 L158,369.06 L158.5,369.18 L159,369.31 L159.5,369.42 L160,369.53 L160.5,369.64 L161,369.74 L161.5,369.84 L162,369.94 L162.5,370.03 L163,370.12 L163.5,370.21 L164,370.29 L164.5,370.37 L165,370.45 L165.5,370.52 L166,370.6 L166.5,370.67 L167,370.73 L167.5,370.8 L168,370.86 L168.5,370.92 L169,370.98 L169.5,371.04 L170,371.1 L170.5,371.15 L171,371.2 L171.5,371.25 L172,371.3 L172.5,371.35 L173,371.4 L173.5,371.44 L174,371.48 L174.5,371.53 L175,371.57 L175.5,371.61 L176,371.64 L176.5,371.68 L177,371.72 L177.5,371.75 L178,371.78 L178.5,371.82 L179,371.85 L179.5,371.88 L180,371.91 L180.5,371.94 L181,371.96 L181.5,371.99 L182,372.01 L182.5,372.04 L183,372.06 L183.5,372.09 L184,372.11 L184.5,372.13 L185,372.15 L185.5,372.17 L186,372.18 L186.5,372.2 L187,372.22 L187.5,372.23 L188,372.25 L188.5,372.26 L189,372.27 L189.5,372.28 L190,372.3 L190.5,372.3 L191,372.31 L191.5,372.32 L192,372.33 L192.5,372.33 L193,372.34 L193.5,372.34 L194,372.34 L194.5,372.34 L195,372.34 L195.5,372.34 L196,372.34 L196.5,372.33 L197,372.33 L197.5,372.32 L198,372.31 L198.5,372.3 L199,372.29 L199.5,372.28 L200,372.26 L200.5,372.24 L201,372.22 L201.5,372.2 L202,372.18 L202.5,372.15 L203,372.12 L203.5,372.09 L204,372.05 L204.5,372.02 L205,371.98 L205.5,371.94 L206,371.89 L206.5,371.85 L207,371.8 L207.5,371.75 L208,371.7 L208.5,371.65 L209,371.6 L209.5,371.55 L210,371.5 L210.5,371.45 L211,371.41 L211.5,371.37 L212,371.33 L212.5,371.31 L213,371.29 L213.5,371.27 L214,371.27 L214.5,371.27 L215,371.28 L215.5,371.3 L216,371.33 L216.5,371.36 L217,371.4 L217.5,371.45 L218,371.5 L218.5,371.55 L219,371.6 L219.5,371.65 L220,371.71 L220.5,371.76 L221,371.81 L221.5,371.86 L222,371.91 L222.5,371.96 L223,372.01 L223.5,372.05 L224,372.09 L224.5,372.13 L225,372.16 L225.5,372.19 L226,372.22 L226.5,372.25 L227,372.28 L227.5,372.3 L228,372.32 L228.5,372.34 L229,372.36 L229.5,372.37 L230,372.39 L230.5,372.4 L231,372.41 L231.5,372.42 L232,372.43 L232.5,372.43 L233,372.44 L233.5,372.44 L234,372.45 L234.5,372.45 L235,372.45 L235.5,372.45 L236,372.44 L236.5,372.44 L237,372.44 L237.5,372.43 L238,372.43 L238.5,372.42 L239,372.41 L239.5,372.4 L240,372.39 L240.5,372.38 L241,372.37 L241.5,372.36 L242,372.35 L242.5,372.33 L243,372.32 L243.5,372.3 L244,372.29 L244.5,372.27 L245,372.25 L245.5,372.23 L246,372.21 L246.5,372.19 L247,372.17 L247.5,372.15 L248,372.12 L248.5,372.1 L249,372.08 L249.5,372.05 L250,372.02 L250.5,372 L251,371.97 L251.5,371.94 L252,371.91 L252.5,371.88 L253,371.84 L253.5,371.81 L254,371.78 L254.5,371.74 L255,371.71 L255.5,371.67 L256,371.63 L256.5,371.59 L257,371.55 L257.5,371.51 L258,371.47 L258.5,371.42 L259,371.38 L259.5,371.33 L260,371.28 L260.5,371.23 L261,371.18 L261.5,371.13 L262,371.08 L262.5,371.02 L263,370.97 L263.5,370.91 L264,370.85 L264.5,370.79 L265,370.73 L265.5,370.66 L266,370.6 L266.5,370.53 L267,370.46 L267.5,370.39 L268,370.32 L268.5,370.24 L269,370.17 L269.5,370.09 L270,370.01 L270.5,369.93 L271,369.84 L271.5,369.76 L272,369.67 L272.5,369.58 L273,369.48 L273.5,369.39 L274,369.29 L274.5,369.2 L275,369.09 L275.5,368.99 L276,368.89 L276.5,368.78 L277,368.67 L277.5,368.56 L278,368.44 L278.5,368.33 L279,368.21 L279.5,368.09 L280,367.97 L280.5,367.84 L281,367.71 L281.5,367.59 L282,367.46 L282.5,367.32 L283,367.19 L283.5,367.05 L284,366.92 L284.5,366.78 L285,366.64 L285.5,366.5 L286,366.36 L286.5,366.22 L287,366.08 L287.5,365.94 L288,365.8 L288.5,365.66 L289,365.52 L289.5,365.38 L290,365.24 L290.5,365.1 L291,364.97 L291.5,364.84 L292,364.71 L292.5,364.58 L293,364.46 L293.5,364.35 L294,364.23 L294.5,364.12 L295,364.02 L295.5,363.92 L296,363.83 L296.5,363.74 L297,363.67 L297.5,363.59 L298,363.53 L298.5,363.47 L299,363.42 L299.5,363.38 L300,363.35 L300.5,363.32 L301,363.31 L301.5,363.3 L302,363.3 L302.5,363.31 L303,363.33 L303.5,363.36 L304,363.39 L304.5,363.43 L305,363.49 L305.5,363.54 L306,363.61 L306.5,363.69 L307,363.77 L307.5,363.85 L308,363.95 L308.5,364.05 L309,364.15 L309.5,364.26 L310,364.38 L310.5,364.5 L311,364.62 L311.5,364.75 L312,364.88 L312.5,365.02 L313,365.15 L313.5,365.29 L314,365.43 L314.5,365.57 L315,365.71 L315.5,365.85 L316,366 L316.5,366.14 L317,366.28 L317.5,366.43 L318,366.57 L318.5,366.71 L319,366.85 L319.5,366.99 L320,367.13 L320.5,367.27 L321,367.4 L321.5,367.54 L322,367.67 L322.5,367.8 L323,367.93 L323.5,368.06 L324,368.18 L324.5,368.31 L325,368.43 L325.5,368.54 L326,368.66 L326.5,368.78 L327,368.89 L327.5,369 L328,369.11 L328.5,369.21 L329,369.31 L329.5,369.42 L330,369.51 L330.5,369.61 L331,369.71 L331.5,369.8 L332,369.89 L332.5,369.98 L333,370.07 L333.5,370.15 L334,370.23 L334.5,370.32 L335,370.39 L335.5,370.47 L336,370.55 L336.5,370.62 L337,370.69 L337.5,370.76 L338,370.83 L338.5,370.9" fill="none" stroke="#2020f0" stroke-width="1.3"/>
<path d="M12.9,456.4 C16.43,456.48 27.35,456.98 34.1,456.9 C40.85,456.82 47.78,456.23 53.4,455.9 C59.02,455.57 64.4,454.73 67.8,454.9 C71.2,455.07 71.8,456.05 73.8,456.9 C75.8,457.75 78.38,459.68 79.8,460 C81.22,460.32 81.08,459.72 82.3,458.8 C83.52,457.88 85.3,454.75 87.1,454.5 C88.9,454.25 90.7,457.52 93.1,457.3 C95.5,457.08 98.9,453.67 101.5,453.2 C104.1,452.73 106.28,454.08 108.7,454.5 C111.12,454.92 113.78,455.23 116,455.7 C118.22,456.17 118.8,457.23 122,457.3 C125.2,457.37 131.38,456.1 135.2,456.1 C139.02,456.1 138.27,457.25 144.9,457.3 C151.53,457.35 162.48,456.58 175,456.4 C187.52,456.22 205.83,456.18 220,456.2 C234.17,456.22 248.33,456.48 260,456.5 C271.67,456.52 283.67,456.28 290,456.3 C296.33,456.32 295.45,457.12 298,456.6 C300.55,456.08 302.47,453.38 305.3,453.2 C308.13,453.02 309.55,455 315,455.5 C320.45,456 334.17,456.08 338,456.2" fill="none" stroke="#20c0c8" stroke-width="1.3"/>
</g>
<line x1="86.99" y1="422.2" x2="86.99" y2="430.8" stroke="#1c1cf0" stroke-width="1.9"/>
<line x1="139.41" y1="422.2" x2="139.41" y2="430.8" stroke="#1c1cf0" stroke-width="1.9"/>
<line x1="299.81" y1="422.2" x2="299.81" y2="430.8" stroke="#1c1cf0" stroke-width="1.9"/>
<line x1="68.12" y1="437.5" x2="68.12" y2="446.2" stroke="#1a8a1a" stroke-width="1.9"/>
<line x1="86.99" y1="437.5" x2="86.99" y2="446.2" stroke="#1a8a1a" stroke-width="1.9"/>
<line x1="110.05" y1="437.5" x2="110.05" y2="446.2" stroke="#1a8a1a" stroke-width="1.9"/>
<line x1="212.8" y1="437.5" x2="212.8" y2="446.2" stroke="#1a8a1a" stroke-width="1.9"/>
<line x1="299.81" y1="437.5" x2="299.81" y2="446.2" stroke="#1a8a1a" stroke-width="1.9"/>
<text x="23.8" y="431" font-size="8.7" fill="#3030f0" stroke="#3030f0" stroke-width="0.12" text-anchor="start" >FCC</text>
<text x="23.8" y="445.3" font-size="8.7" fill="#2a9a2a" stroke="#2a9a2a" stroke-width="0.12" text-anchor="start" >HCP</text>
<text x="39.6" y="261.8" font-size="10.8" fill="#2222ee" stroke="#2222ee" stroke-width="0.12" text-anchor="start" >fcc</text>
<text x="77.6" y="261.8" font-size="10.8" fill="#2222ee" stroke="#2222ee" stroke-width="0.12" text-anchor="end" >111</text>
<text x="40.3" y="273.5" font-size="10.8" fill="#1f8f1f" stroke="#1f8f1f" stroke-width="0.12" text-anchor="start" >hcp 002</text>
<text x="30" y="343.6" font-size="10.8" fill="#1f8f1f" stroke="#1f8f1f" stroke-width="0.12" text-anchor="start" >hcp 100</text>
<text x="109.8" y="335.9" font-size="10.8" fill="#1f8f1f" stroke="#1f8f1f" stroke-width="0.12" text-anchor="start" >hcp 101</text>
<text x="144.5" y="390.4" font-size="10.8" fill="#2222ee" stroke="#2222ee" stroke-width="0.12" text-anchor="start" >fcc 200</text>
<text x="293.3" y="345.5" font-size="10.8" fill="#2222ee" stroke="#2222ee" stroke-width="0.12" text-anchor="start" >fcc</text>
<text x="333" y="345.5" font-size="10.8" fill="#2222ee" stroke="#2222ee" stroke-width="0.12" text-anchor="end" >220</text>
<text x="294.2" y="356.7" font-size="10.8" fill="#1f8f1f" stroke="#1f8f1f" stroke-width="0.12" text-anchor="start" >hcp 110</text>
<text x="222" y="442" font-size="10.8" fill="#1f8f1f" stroke="#1f8f1f" stroke-width="0.12" text-anchor="start" >hcp 102</text>
<circle cx="159.4" cy="256" r="2.3" fill="#f4b042"/>
<line x1="153.4" y1="267.3" x2="166" y2="267.3" stroke="#111" stroke-width="1.2"/>
<line x1="153.4" y1="278.9" x2="166" y2="278.9" stroke="#2020f0" stroke-width="1.3"/>
<text x="171.4" y="259" font-size="10.1" fill="#151515" stroke="#151515" stroke-width="0.12" text-anchor="start" >Run 250: 148(10) GPa - 2445(150) K</text>
<text x="171.4" y="270.7" font-size="10.1" fill="#151515" stroke="#151515" stroke-width="0.12" text-anchor="start" >SF Refinement (α = 0.25)</text>
<text x="171.4" y="282.2" font-size="10.1" fill="#151515" stroke="#151515" stroke-width="0.12" text-anchor="start" >Mixed stacking (MLP simulations)</text>
<rect x="13" y="248.5" width="325" height="219.0" fill="none" stroke="#9a9a9a" stroke-width="1.4"/>
<line x1="13" y1="467" x2="13" y2="461" stroke="#333" stroke-width="1"/>
<line x1="23.48" y1="467" x2="23.48" y2="463.8" stroke="#333" stroke-width="1"/>
<line x1="33.97" y1="467" x2="33.97" y2="463.8" stroke="#333" stroke-width="1"/>
<line x1="44.45" y1="467" x2="44.45" y2="463.8" stroke="#333" stroke-width="1"/>
<line x1="54.94" y1="467" x2="54.94" y2="463.8" stroke="#333" stroke-width="1"/>
<line x1="65.42" y1="467" x2="65.42" y2="461" stroke="#333" stroke-width="1"/>
<line x1="75.9" y1="467" x2="75.9" y2="463.8" stroke="#333" stroke-width="1"/>
<line x1="86.39" y1="467" x2="86.39" y2="463.8" stroke="#333" stroke-width="1"/>
<line x1="96.87" y1="467" x2="96.87" y2="463.8" stroke="#333" stroke-width="1"/>
<line x1="107.36" y1="467" x2="107.36" y2="463.8" stroke="#333" stroke-width="1"/>
<line x1="117.84" y1="467" x2="117.84" y2="461" stroke="#333" stroke-width="1"/>
<line x1="128.32" y1="467" x2="128.32" y2="463.8" stroke="#333" stroke-width="1"/>
<line x1="138.81" y1="467" x2="138.81" y2="463.8" stroke="#333" stroke-width="1"/>
<line x1="149.29" y1="467" x2="149.29" y2="463.8" stroke="#333" stroke-width="1"/>
<line x1="159.78" y1="467" x2="159.78" y2="463.8" stroke="#333" stroke-width="1"/>
<line x1="170.26" y1="467" x2="170.26" y2="461" stroke="#333" stroke-width="1"/>
<line x1="180.74" y1="467" x2="180.74" y2="463.8" stroke="#333" stroke-width="1"/>
<line x1="191.23" y1="467" x2="191.23" y2="463.8" stroke="#333" stroke-width="1"/>
<line x1="201.71" y1="467" x2="201.71" y2="463.8" stroke="#333" stroke-width="1"/>
<line x1="212.2" y1="467" x2="212.2" y2="463.8" stroke="#333" stroke-width="1"/>
<line x1="222.68" y1="467" x2="222.68" y2="461" stroke="#333" stroke-width="1"/>
<line x1="233.16" y1="467" x2="233.16" y2="463.8" stroke="#333" stroke-width="1"/>
<line x1="243.65" y1="467" x2="243.65" y2="463.8" stroke="#333" stroke-width="1"/>
<line x1="254.13" y1="467" x2="254.13" y2="463.8" stroke="#333" stroke-width="1"/>
<line x1="264.62" y1="467" x2="264.62" y2="463.8" stroke="#333" stroke-width="1"/>
<line x1="275.1" y1="467" x2="275.1" y2="461" stroke="#333" stroke-width="1"/>
<line x1="285.58" y1="467" x2="285.58" y2="463.8" stroke="#333" stroke-width="1"/>
<line x1="296.07" y1="467" x2="296.07" y2="463.8" stroke="#333" stroke-width="1"/>
<line x1="306.55" y1="467" x2="306.55" y2="463.8" stroke="#333" stroke-width="1"/>
<line x1="317.04" y1="467" x2="317.04" y2="463.8" stroke="#333" stroke-width="1"/>
<line x1="327.52" y1="467" x2="327.52" y2="461" stroke="#333" stroke-width="1"/>
<line x1="338" y1="467" x2="338" y2="463.8" stroke="#333" stroke-width="1"/>
<text x="13.5" y="478.8" font-size="11.4" fill="#151515" stroke="#151515" stroke-width="0.12" text-anchor="middle" >2.5</text>
<text x="65.92" y="478.8" font-size="11.4" fill="#151515" stroke="#151515" stroke-width="0.12" text-anchor="middle" >3.0</text>
<text x="118.34" y="478.8" font-size="11.4" fill="#151515" stroke="#151515" stroke-width="0.12" text-anchor="middle" >3.5</text>
<text x="170.76" y="478.8" font-size="11.4" fill="#151515" stroke="#151515" stroke-width="0.12" text-anchor="middle" >4.0</text>
<text x="223.18" y="478.8" font-size="11.4" fill="#151515" stroke="#151515" stroke-width="0.12" text-anchor="middle" >4.5</text>
<text x="275.6" y="478.8" font-size="11.4" fill="#151515" stroke="#151515" stroke-width="0.12" text-anchor="middle" >5.0</text>
<text x="328.02" y="478.8" font-size="11.4" fill="#151515" stroke="#151515" stroke-width="0.12" text-anchor="middle" >5.5</text>
<text x="175.3" y="493.4" font-size="11.6" fill="#151515" stroke="#151515" stroke-width="0.12" text-anchor="middle" >Q [Å<tspan dy="-3.3" font-size="8.6">−<tspan dx="1.3">1</tspan></tspan><tspan dy="3.3" dx="0.8">]</tspan></text>
<text x="0.8" y="258.8" font-size="12.3" fill="#151515" stroke="#151515" stroke-width="0.12" text-anchor="start" >b)</text>
<text transform="translate(9.7,345.3) rotate(-90)" font-size="11.2" fill="#151515" stroke="#151515" stroke-width="0.12" text-anchor="middle">Intensity [arb.units]</text>
<g clip-path="url(#clipC)" fill="none" stroke-width="1.3" stroke-linejoin="round">
<path d="M354.5,428.49 L355,428.49 L355.5,428.48 L356,428.48 L356.5,428.47 L357,428.46 L357.5,428.46 L358,428.45 L358.5,428.44 L359,428.44 L359.5,428.43 L360,428.42 L360.5,428.41 L361,428.4 L361.5,428.4 L362,428.39 L362.5,428.38 L363,428.37 L363.5,428.36 L364,428.35 L364.5,428.34 L365,428.33 L365.5,428.32 L366,428.31 L366.5,428.29 L367,428.28 L367.5,428.27 L368,428.25 L368.5,428.24 L369,428.23 L369.5,428.21 L370,428.2 L370.5,428.18 L371,428.16 L371.5,428.15 L372,428.13 L372.5,428.11 L373,428.09 L373.5,428.07 L374,428.04 L374.5,428.02 L375,428 L375.5,427.97 L376,427.94 L376.5,427.92 L377,427.89 L377.5,427.86 L378,427.82 L378.5,427.79 L379,427.75 L379.5,427.71 L380,427.67 L380.5,427.63 L381,427.59 L381.5,427.54 L382,427.49 L382.5,427.43 L383,427.37 L383.5,427.31 L384,427.24 L384.5,427.17 L385,427.1 L385.5,427.02 L386,426.93 L386.5,426.83 L387,426.73 L387.5,426.62 L388,426.5 L388.5,426.37 L389,426.23 L389.5,426.07 L390,425.9 L390.5,425.71 L391,425.51 L391.5,425.28 L392,425.03 L392.5,424.75 L393,424.43 L393.5,424.08 L394,423.69 L394.5,423.24 L395,422.73 L395.5,422.14 L396,421.47 L396.5,420.69 L397,419.78 L397.5,418.72 L398,417.45 L398.5,415.94 L399,414.11 L399.5,411.88 L400,409.14 L400.5,405.71 L401,401.39 L401.5,395.88 L402,388.79 L402.5,379.63 L403,367.89 L403.5,353.23 L404,336.08 L404.5,318.64 L405,305.53 L405.5,302.04 L406,309.87 L406.5,325.37 L407,343.1 L407.5,359.38 L408,372.85 L408.5,383.49 L409,391.73 L409.5,398.12 L410,403.1 L410.5,407.02 L411,410.13 L411.5,412.64 L412,414.68 L412.5,416.35 L413,417.74 L413.5,418.9 L414,419.88 L414.5,420.71 L415,421.42 L415.5,422.04 L416,422.56 L416.5,423.02 L417,423.42 L417.5,423.77 L418,424.08 L418.5,424.35 L419,424.59 L419.5,424.79 L420,424.98 L420.5,425.13 L421,425.27 L421.5,425.39 L422,425.49 L422.5,425.58 L423,425.65 L423.5,425.7 L424,425.75 L424.5,425.78 L425,425.79 L425.5,425.79 L426,425.78 L426.5,425.75 L427,425.71 L427.5,425.65 L428,425.57 L428.5,425.47 L429,425.35 L429.5,425.21 L430,425.04 L430.5,424.83 L431,424.59 L431.5,424.3 L432,423.96 L432.5,423.55 L433,423.07 L433.5,422.49 L434,421.79 L434.5,420.95 L435,419.92 L435.5,418.65 L436,417.08 L436.5,415.13 L437,412.67 L437.5,409.58 L438,405.72 L438.5,401 L439,395.44 L439.5,389.45 L440,383.97 L440.5,380.43 L441,380.09 L441.5,383.09 L442,388.34 L442.5,394.36 L443,400.08 L443.5,405.01 L444,409.07 L444.5,412.33 L445,414.93 L445.5,417.02 L446,418.69 L446.5,420.04 L447,421.15 L447.5,422.07 L448,422.83 L448.5,423.46 L449,424.01 L449.5,424.47 L450,424.86 L450.5,425.21 L451,425.51 L451.5,425.77 L452,426 L452.5,426.2 L453,426.38 L453.5,426.54 L454,426.69 L454.5,426.82 L455,426.94 L455.5,427.05 L456,427.14 L456.5,427.23 L457,427.31 L457.5,427.39 L458,427.46 L458.5,427.52 L459,427.58 L459.5,427.63 L460,427.68 L460.5,427.73 L461,427.77 L461.5,427.81 L462,427.85 L462.5,427.89 L463,427.92 L463.5,427.95 L464,427.98 L464.5,428.01 L465,428.04 L465.5,428.06 L466,428.08 L466.5,428.11 L467,428.13 L467.5,428.15 L468,428.17 L468.5,428.19 L469,428.2 L469.5,428.22 L470,428.23 L470.5,428.25 L471,428.26 L471.5,428.28 L472,428.29 L472.5,428.3 L473,428.31 L473.5,428.32 L474,428.34 L474.5,428.35 L475,428.36 L475.5,428.37 L476,428.37 L476.5,428.38 L477,428.39 L477.5,428.4 L478,428.41 L478.5,428.42 L479,428.42 L479.5,428.43 L480,428.44 L480.5,428.44 L481,428.45 L481.5,428.46 L482,428.46 L482.5,428.47 L483,428.47 L483.5,428.48 L484,428.48 L484.5,428.49 L485,428.49 L485.5,428.5 L486,428.5 L486.5,428.51 L487,428.51 L487.5,428.51 L488,428.52 L488.5,428.52 L489,428.52 L489.5,428.53 L490,428.53 L490.5,428.53 L491,428.54 L491.5,428.54 L492,428.54 L492.5,428.55 L493,428.55 L493.5,428.55 L494,428.55 L494.5,428.56 L495,428.56 L495.5,428.56 L496,428.56 L496.5,428.56 L497,428.57 L497.5,428.57 L498,428.57 L498.5,428.57 L499,428.57 L499.5,428.58 L500,428.58 L500.5,428.58 L501,428.58 L501.5,428.58 L502,428.58 L502.5,428.58 L503,428.58 L503.5,428.58 L504,428.59 L504.5,428.59 L505,428.59 L505.5,428.59 L506,428.59 L506.5,428.59 L507,428.59 L507.5,428.59 L508,428.59 L508.5,428.59 L509,428.59 L509.5,428.59 L510,428.59 L510.5,428.59 L511,428.59 L511.5,428.59 L512,428.59 L512.5,428.59 L513,428.58 L513.5,428.58 L514,428.58 L514.5,428.58 L515,428.58 L515.5,428.58 L516,428.58 L516.5,428.58 L517,428.57 L517.5,428.57 L518,428.57 L518.5,428.57 L519,428.56 L519.5,428.56 L520,428.56 L520.5,428.56 L521,428.55 L521.5,428.55 L522,428.55 L522.5,428.54 L523,428.54 L523.5,428.53 L524,428.53 L524.5,428.52 L525,428.52 L525.5,428.51 L526,428.5 L526.5,428.5 L527,428.49 L527.5,428.48 L528,428.47 L528.5,428.46 L529,428.45 L529.5,428.44 L530,428.43 L530.5,428.42 L531,428.4 L531.5,428.39 L532,428.37 L532.5,428.36 L533,428.34 L533.5,428.32 L534,428.29 L534.5,428.27 L535,428.24 L535.5,428.21 L536,428.18 L536.5,428.15 L537,428.11 L537.5,428.06 L538,428.01 L538.5,427.96 L539,427.9 L539.5,427.83 L540,427.75 L540.5,427.66 L541,427.56 L541.5,427.44 L542,427.31 L542.5,427.15 L543,426.97 L543.5,426.75 L544,426.5 L544.5,426.19 L545,425.83 L545.5,425.39 L546,424.86 L546.5,424.21 L547,423.42 L547.5,422.47 L548,421.34 L548.5,420.05 L549,418.66 L549.5,417.33 L550,416.3 L550.5,415.81 L551,416.03 L551.5,416.87 L552,418.11 L552.5,419.5 L553,420.84 L553.5,422.04 L554,423.06 L554.5,423.91 L555,424.61 L555.5,425.19 L556,425.66 L556.5,426.06 L557,426.38 L557.5,426.66 L558,426.89 L558.5,427.08 L559,427.25 L559.5,427.39 L560,427.51 L560.5,427.62 L561,427.72 L561.5,427.8 L562,427.87 L562.5,427.93 L563,427.99 L563.5,428.04 L564,428.09 L564.5,428.13 L565,428.17 L565.5,428.2 L566,428.23 L566.5,428.26 L567,428.28 L567.5,428.31 L568,428.33 L568.5,428.35 L569,428.36 L569.5,428.38 L570,428.39 L570.5,428.41 L571,428.42 L571.5,428.43 L572,428.44 L572.5,428.45 L573,428.46 L573.5,428.47 L574,428.48 L574.5,428.49 L575,428.49 L575.5,428.5 L576,428.5 L576.5,428.51 L577,428.51 L577.5,428.52 L578,428.52 L578.5,428.53 L579,428.53 L579.5,428.53 L580,428.53 L580.5,428.54 L581,428.54 L581.5,428.54 L582,428.54 L582.5,428.54 L583,428.54 L583.5,428.54 L584,428.54 L584.5,428.54 L585,428.54 L585.5,428.54 L586,428.54 L586.5,428.54 L587,428.53 L587.5,428.53 L588,428.53 L588.5,428.53 L589,428.52 L589.5,428.52 L590,428.52 L590.5,428.51 L591,428.51 L591.5,428.5 L592,428.49 L592.5,428.49 L593,428.48 L593.5,428.47 L594,428.46 L594.5,428.46 L595,428.45 L595.5,428.44 L596,428.42 L596.5,428.41 L597,428.4 L597.5,428.38 L598,428.37 L598.5,428.35 L599,428.33 L599.5,428.31 L600,428.28 L600.5,428.26 L601,428.23 L601.5,428.2 L602,428.16 L602.5,428.12 L603,428.08 L603.5,428.03 L604,427.98 L604.5,427.91 L605,427.85 L605.5,427.77 L606,427.68 L606.5,427.57 L607,427.46 L607.5,427.32 L608,427.16 L608.5,426.97 L609,426.75 L609.5,426.49 L610,426.18 L610.5,425.81 L611,425.36 L611.5,424.82 L612,424.18 L612.5,423.42 L613,422.55 L613.5,421.58 L614,420.58 L614.5,419.68 L615,419.04 L615.5,418.8 L616,419.03 L616.5,419.66 L617,420.55 L617.5,421.54 L618,422.49 L618.5,423.36 L619,424.11 L619.5,424.74 L620,425.26 L620.5,425.69 L621,426.05 L621.5,426.35 L622,426.59 L622.5,426.79 L623,426.96 L623.5,427.1 L624,427.21 L624.5,427.3 L625,427.37 L625.5,427.43 L626,427.47 L626.5,427.49 L627,427.5 L627.5,427.5 L628,427.48 L628.5,427.45 L629,427.41 L629.5,427.34 L630,427.26 L630.5,427.15 L631,427.03 L631.5,426.87 L632,426.7 L632.5,426.49 L633,426.27 L633.5,426.05 L634,425.83 L634.5,425.65 L635,425.53 L635.5,425.5 L636,425.56 L636.5,425.7 L637,425.91 L637.5,426.15 L638,426.4 L638.5,426.65 L639,426.88 L639.5,427.08 L640,427.27 L640.5,427.43 L641,427.57 L641.5,427.69 L642,427.8 L642.5,427.89 L643,427.97 L643.5,428.04 L644,428.1 L644.5,428.15 L645,428.2 L645.5,428.24 L646,428.28 L646.5,428.31 L647,428.34 L647.5,428.37 L648,428.39 L648.5,428.42 L649,428.44 L649.5,428.46 L650,428.47 L650.5,428.49 L651,428.5 L651.5,428.52 L652,428.53 L652.5,428.54 L653,428.55 L653.5,428.56 L654,428.57 L654.5,428.58 L655,428.59 L655.5,428.59 L656,428.6 L656.5,428.61 L657,428.61 L657.5,428.62 L658,428.62 L658.5,428.63 L659,428.63 L659.5,428.64 L660,428.64 L660.5,428.65 L661,428.65 L661.5,428.66 L662,428.66 L662.5,428.66 L663,428.67 L663.5,428.67 L664,428.67 L664.5,428.68 L665,428.68 L665.5,428.68 L666,428.68 L666.5,428.69 L667,428.69 L667.5,428.69 L668,428.69 L668.5,428.7 L669,428.7 L669.5,428.7 L670,428.7 L670.5,428.7 L671,428.71 L671.5,428.71 L672,428.71 L672.5,428.71 L673,428.71 L673.5,428.71 L674,428.72 L674.5,428.72 L675,428.72 L675.5,428.72 L676,428.72 L676.5,428.72 L677,428.72" stroke="#2222f2"/>
<path d="M354.5,403.77 L355,403.76 L355.5,403.76 L356,403.75 L356.5,403.74 L357,403.73 L357.5,403.72 L358,403.72 L358.5,403.71 L359,403.7 L359.5,403.69 L360,403.68 L360.5,403.67 L361,403.66 L361.5,403.65 L362,403.64 L362.5,403.63 L363,403.61 L363.5,403.6 L364,403.59 L364.5,403.58 L365,403.56 L365.5,403.55 L366,403.54 L366.5,403.52 L367,403.51 L367.5,403.49 L368,403.47 L368.5,403.46 L369,403.44 L369.5,403.42 L370,403.4 L370.5,403.38 L371,403.36 L371.5,403.34 L372,403.32 L372.5,403.3 L373,403.27 L373.5,403.25 L374,403.22 L374.5,403.19 L375,403.16 L375.5,403.13 L376,403.1 L376.5,403.07 L377,403.03 L377.5,403 L378,402.96 L378.5,402.92 L379,402.88 L379.5,402.83 L380,402.78 L380.5,402.73 L381,402.68 L381.5,402.62 L382,402.56 L382.5,402.5 L383,402.43 L383.5,402.36 L384,402.28 L384.5,402.2 L385,402.11 L385.5,402.01 L386,401.91 L386.5,401.79 L387,401.67 L387.5,401.53 L388,401.38 L388.5,401.21 L389,401.01 L389.5,400.8 L390,400.55 L390.5,400.26 L391,399.94 L391.5,399.56 L392,399.15 L392.5,398.71 L393,398.27 L393.5,397.87 L394,397.52 L394.5,397.22 L395,396.91 L395.5,396.55 L396,396.09 L396.5,395.53 L397,394.83 L397.5,393.97 L398,392.93 L398.5,391.66 L399,390.1 L399.5,388.19 L400,385.82 L400.5,382.85 L401,379.13 L401.5,374.47 L402,368.67 L402.5,361.53 L403,352.89 L403.5,342.75 L404,331.42 L404.5,319.83 L405,309.7 L405.5,303.32 L406,302.56 L406.5,307.62 L407,316.87 L407.5,328 L408,339.13 L408.5,349.19 L409,357.76 L409.5,364.79 L410,370.41 L410.5,374.83 L411,378.25 L411.5,380.87 L412,382.86 L412.5,384.39 L413,385.59 L413.5,386.56 L414,387.4 L414.5,388.17 L415,388.93 L415.5,389.7 L416,390.49 L416.5,391.29 L417,392.08 L417.5,392.85 L418,393.58 L418.5,394.26 L419,394.88 L419.5,395.45 L420,395.95 L420.5,396.39 L421,396.78 L421.5,397.11 L422,397.4 L422.5,397.64 L423,397.83 L423.5,397.98 L424,398.1 L424.5,398.18 L425,398.22 L425.5,398.23 L426,398.21 L426.5,398.15 L427,398.06 L427.5,397.93 L428,397.77 L428.5,397.56 L429,397.32 L429.5,397.03 L430,396.7 L430.5,396.31 L431,395.87 L431.5,395.37 L432,394.8 L432.5,394.17 L433,393.46 L433.5,392.67 L434,391.81 L434.5,390.85 L435,389.82 L435.5,388.71 L436,387.52 L436.5,386.28 L437,384.99 L437.5,383.7 L438,382.43 L438.5,381.24 L439,380.18 L439.5,379.3 L440,378.67 L440.5,378.32 L441,378.28 L441.5,378.54 L442,379.09 L442.5,379.87 L443,380.84 L443.5,381.95 L444,383.14 L444.5,384.36 L445,385.58 L445.5,386.78 L446,387.94 L446.5,389.04 L447,390.09 L447.5,391.07 L448,391.98 L448.5,392.84 L449,393.63 L449.5,394.36 L450,395.04 L450.5,395.66 L451,396.23 L451.5,396.76 L452,397.24 L452.5,397.69 L453,398.1 L453.5,398.47 L454,398.81 L454.5,399.13 L455,399.42 L455.5,399.69 L456,399.94 L456.5,400.16 L457,400.38 L457.5,400.57 L458,400.75 L458.5,400.92 L459,401.08 L459.5,401.22 L460,401.36 L460.5,401.49 L461,401.61 L461.5,401.72 L462,401.82 L462.5,401.92 L463,402.01 L463.5,402.1 L464,402.18 L464.5,402.26 L465,402.33 L465.5,402.39 L466,402.46 L466.5,402.52 L467,402.58 L467.5,402.63 L468,402.68 L468.5,402.73 L469,402.78 L469.5,402.82 L470,402.86 L470.5,402.9 L471,402.94 L471.5,402.98 L472,403.01 L472.5,403.04 L473,403.07 L473.5,403.1 L474,403.13 L474.5,403.16 L475,403.19 L475.5,403.21 L476,403.24 L476.5,403.26 L477,403.28 L477.5,403.3 L478,403.33 L478.5,403.35 L479,403.36 L479.5,403.38 L480,403.4 L480.5,403.42 L481,403.43 L481.5,403.45 L482,403.47 L482.5,403.48 L483,403.5 L483.5,403.51 L484,403.52 L484.5,403.54 L485,403.55 L485.5,403.56 L486,403.57 L486.5,403.58 L487,403.59 L487.5,403.6 L488,403.61 L488.5,403.62 L489,403.63 L489.5,403.64 L490,403.65 L490.5,403.66 L491,403.67 L491.5,403.68 L492,403.69 L492.5,403.69 L493,403.7 L493.5,403.71 L494,403.72 L494.5,403.72 L495,403.73 L495.5,403.74 L496,403.74 L496.5,403.75 L497,403.75 L497.5,403.76 L498,403.76 L498.5,403.77 L499,403.77 L499.5,403.78 L500,403.78 L500.5,403.79 L501,403.79 L501.5,403.8 L502,403.8 L502.5,403.81 L503,403.81 L503.5,403.81 L504,403.82 L504.5,403.82 L505,403.82 L505.5,403.83 L506,403.83 L506.5,403.83 L507,403.84 L507.5,403.84 L508,403.84 L508.5,403.84 L509,403.85 L509.5,403.85 L510,403.85 L510.5,403.85 L511,403.85 L511.5,403.86 L512,403.86 L512.5,403.86 L513,403.86 L513.5,403.86 L514,403.86 L514.5,403.86 L515,403.86 L515.5,403.86 L516,403.86 L516.5,403.87 L517,403.87 L517.5,403.86 L518,403.86 L518.5,403.86 L519,403.86 L519.5,403.86 L520,403.86 L520.5,403.86 L521,403.86 L521.5,403.86 L522,403.85 L522.5,403.85 L523,403.85 L523.5,403.85 L524,403.84 L524.5,403.84 L525,403.84 L525.5,403.83 L526,403.83 L526.5,403.82 L527,403.82 L527.5,403.81 L528,403.8 L528.5,403.8 L529,403.79 L529.5,403.78 L530,403.77 L530.5,403.76 L531,403.75 L531.5,403.74 L532,403.72 L532.5,403.71 L533,403.69 L533.5,403.68 L534,403.66 L534.5,403.64 L535,403.61 L535.5,403.59 L536,403.56 L536.5,403.53 L537,403.5 L537.5,403.46 L538,403.42 L538.5,403.37 L539,403.32 L539.5,403.26 L540,403.19 L540.5,403.12 L541,403.03 L541.5,402.93 L542,402.82 L542.5,402.69 L543,402.53 L543.5,402.35 L544,402.15 L544.5,401.9 L545,401.61 L545.5,401.26 L546,400.85 L546.5,400.36 L547,399.78 L547.5,399.11 L548,398.34 L548.5,397.5 L549,396.64 L549.5,395.86 L550,395.27 L550.5,395.01 L551,395.12 L551.5,395.59 L552,396.31 L552.5,397.16 L553,398.01 L553.5,398.82 L554,399.53 L554.5,400.15 L555,400.67 L555.5,401.12 L556,401.49 L556.5,401.8 L557,402.07 L557.5,402.29 L558,402.48 L558.5,402.65 L559,402.79 L559.5,402.91 L560,403.01 L560.5,403.11 L561,403.19 L561.5,403.26 L562,403.32 L562.5,403.38 L563,403.43 L563.5,403.47 L564,403.51 L564.5,403.55 L565,403.58 L565.5,403.61 L566,403.64 L566.5,403.67 L567,403.69 L567.5,403.71 L568,403.73 L568.5,403.75 L569,403.76 L569.5,403.78 L570,403.79 L570.5,403.8 L571,403.81 L571.5,403.82 L572,403.83 L572.5,403.84 L573,403.85 L573.5,403.86 L574,403.87 L574.5,403.87 L575,403.88 L575.5,403.89 L576,403.89 L576.5,403.9 L577,403.9 L577.5,403.9 L578,403.91 L578.5,403.91 L579,403.91 L579.5,403.92 L580,403.92 L580.5,403.92 L581,403.92 L581.5,403.92 L582,403.93 L582.5,403.93 L583,403.93 L583.5,403.93 L584,403.93 L584.5,403.93 L585,403.93 L585.5,403.93 L586,403.93 L586.5,403.93 L587,403.92 L587.5,403.92 L588,403.92 L588.5,403.92 L589,403.91 L589.5,403.91 L590,403.91 L590.5,403.9 L591,403.9 L591.5,403.9 L592,403.89 L592.5,403.89 L593,403.88 L593.5,403.87 L594,403.86 L594.5,403.86 L595,403.85 L595.5,403.84 L596,403.83 L596.5,403.82 L597,403.81 L597.5,403.79 L598,403.78 L598.5,403.76 L599,403.74 L599.5,403.73 L600,403.7 L600.5,403.68 L601,403.66 L601.5,403.63 L602,403.6 L602.5,403.56 L603,403.53 L603.5,403.48 L604,403.44 L604.5,403.38 L605,403.32 L605.5,403.25 L606,403.18 L606.5,403.09 L607,402.98 L607.5,402.87 L608,402.73 L608.5,402.57 L609,402.39 L609.5,402.17 L610,401.91 L610.5,401.61 L611,401.25 L611.5,400.83 L612,400.33 L612.5,399.76 L613,399.13 L613.5,398.44 L614,397.76 L614.5,397.17 L615,396.75 L615.5,396.6 L616,396.74 L616.5,397.15 L617,397.74 L617.5,398.41 L618,399.08 L618.5,399.71 L619,400.27 L619.5,400.76 L620,401.17 L620.5,401.51 L621,401.81 L621.5,402.05 L622,402.25 L622.5,402.42 L623,402.56 L623.5,402.68 L624,402.78 L624.5,402.86 L625,402.92 L625.5,402.97 L626,403.01 L626.5,403.03 L627,403.04 L627.5,403.05 L628,403.04 L628.5,403.02 L629,402.98 L629.5,402.94 L630,402.88 L630.5,402.81 L631,402.72 L631.5,402.62 L632,402.5 L632.5,402.37 L633,402.23 L633.5,402.1 L634,401.98 L634.5,401.88 L635,401.81 L635.5,401.8 L636,401.84 L636.5,401.92 L637,402.04 L637.5,402.19 L638,402.35 L638.5,402.51 L639,402.66 L639.5,402.81 L640,402.94 L640.5,403.06 L641,403.16 L641.5,403.25 L642,403.33 L642.5,403.41 L643,403.47 L643.5,403.53 L644,403.58 L644.5,403.62 L645,403.66 L645.5,403.69 L646,403.73 L646.5,403.75 L647,403.78 L647.5,403.8 L648,403.82 L648.5,403.84 L649,403.86 L649.5,403.88 L650,403.89 L650.5,403.91 L651,403.92 L651.5,403.93 L652,403.94 L652.5,403.95 L653,403.96 L653.5,403.97 L654,403.98 L654.5,403.98 L655,403.99 L655.5,404 L656,404 L656.5,404.01 L657,404.02 L657.5,404.02 L658,404.03 L658.5,404.03 L659,404.04 L659.5,404.04 L660,404.04 L660.5,404.05 L661,404.05 L661.5,404.06 L662,404.06 L662.5,404.06 L663,404.06 L663.5,404.07 L664,404.07 L664.5,404.07 L665,404.08 L665.5,404.08 L666,404.08 L666.5,404.08 L667,404.09 L667.5,404.09 L668,404.09 L668.5,404.09 L669,404.09 L669.5,404.1 L670,404.1 L670.5,404.1 L671,404.1 L671.5,404.1 L672,404.1 L672.5,404.1 L673,404.11 L673.5,404.11 L674,404.11 L674.5,404.11 L675,404.11 L675.5,404.11 L676,404.11 L676.5,404.12 L677,404.12" stroke="#4a2ad8"/>
<path d="M354.5,378.99 L355,378.99 L355.5,378.98 L356,378.97 L356.5,378.96 L357,378.96 L357.5,378.95 L358,378.94 L358.5,378.93 L359,378.92 L359.5,378.91 L360,378.9 L360.5,378.89 L361,378.88 L361.5,378.87 L362,378.86 L362.5,378.85 L363,378.84 L363.5,378.83 L364,378.82 L364.5,378.81 L365,378.79 L365.5,378.78 L366,378.77 L366.5,378.75 L367,378.74 L367.5,378.72 L368,378.71 L368.5,378.69 L369,378.67 L369.5,378.66 L370,378.64 L370.5,378.62 L371,378.6 L371.5,378.58 L372,378.56 L372.5,378.53 L373,378.51 L373.5,378.49 L374,378.46 L374.5,378.43 L375,378.41 L375.5,378.38 L376,378.35 L376.5,378.31 L377,378.28 L377.5,378.24 L378,378.21 L378.5,378.17 L379,378.12 L379.5,378.08 L380,378.03 L380.5,377.98 L381,377.93 L381.5,377.87 L382,377.81 L382.5,377.74 L383,377.66 L383.5,377.58 L384,377.5 L384.5,377.4 L385,377.29 L385.5,377.17 L386,377.03 L386.5,376.87 L387,376.7 L387.5,376.5 L388,376.27 L388.5,376.01 L389,375.72 L389.5,375.4 L390,375.03 L390.5,374.62 L391,374.17 L391.5,373.68 L392,373.14 L392.5,372.56 L393,371.93 L393.5,371.26 L394,370.55 L394.5,369.79 L395,368.99 L395.5,368.14 L396,367.21 L396.5,366.2 L397,365.06 L397.5,363.75 L398,362.19 L398.5,360.32 L399,358.03 L399.5,355.25 L400,351.91 L400.5,347.97 L401,343.41 L401.5,338.28 L402,332.66 L402.5,326.75 L403,320.78 L403.5,315.13 L404,310.21 L404.5,306.55 L405,304.57 L405.5,304.55 L406,306.49 L406.5,310.11 L407,314.96 L407.5,320.56 L408,326.47 L408.5,332.32 L409,337.88 L409.5,342.96 L410,347.47 L410.5,351.36 L411,354.62 L411.5,357.29 L412,359.44 L412.5,361.12 L413,362.42 L413.5,363.42 L414,364.18 L414.5,364.76 L415,365.22 L415.5,365.59 L416,365.9 L416.5,366.18 L417,366.44 L417.5,366.69 L418,366.94 L418.5,367.19 L419,367.43 L419.5,367.68 L420,367.92 L420.5,368.16 L421,368.39 L421.5,368.61 L422,368.81 L422.5,369 L423,369.16 L423.5,369.3 L424,369.41 L424.5,369.49 L425,369.54 L425.5,369.56 L426,369.54 L426.5,369.49 L427,369.4 L427.5,369.27 L428,369.11 L428.5,368.91 L429,368.67 L429.5,368.4 L430,368.1 L430.5,367.76 L431,367.39 L431.5,367 L432,366.59 L432.5,366.16 L433,365.72 L433.5,365.28 L434,364.83 L434.5,364.39 L435,363.97 L435.5,363.57 L436,363.2 L436.5,362.88 L437,362.6 L437.5,362.37 L438,362.21 L438.5,362.12 L439,362.1 L439.5,362.15 L440,362.28 L440.5,362.48 L441,362.74 L441.5,363.06 L442,363.44 L442.5,363.86 L443,364.33 L443.5,364.82 L444,365.34 L444.5,365.88 L445,366.43 L445.5,366.99 L446,367.55 L446.5,368.1 L447,368.65 L447.5,369.18 L448,369.71 L448.5,370.22 L449,370.71 L449.5,371.18 L450,371.63 L450.5,372.07 L451,372.48 L451.5,372.86 L452,373.23 L452.5,373.58 L453,373.9 L453.5,374.2 L454,374.49 L454.5,374.75 L455,375 L455.5,375.23 L456,375.44 L456.5,375.64 L457,375.83 L457.5,376 L458,376.16 L458.5,376.3 L459,376.44 L459.5,376.57 L460,376.69 L460.5,376.8 L461,376.91 L461.5,377.01 L462,377.1 L462.5,377.19 L463,377.27 L463.5,377.35 L464,377.43 L464.5,377.5 L465,377.56 L465.5,377.63 L466,377.69 L466.5,377.75 L467,377.8 L467.5,377.86 L468,377.91 L468.5,377.96 L469,378.01 L469.5,378.05 L470,378.1 L470.5,378.14 L471,378.18 L471.5,378.22 L472,378.25 L472.5,378.29 L473,378.32 L473.5,378.35 L474,378.39 L474.5,378.42 L475,378.44 L475.5,378.47 L476,378.5 L476.5,378.52 L477,378.55 L477.5,378.57 L478,378.59 L478.5,378.61 L479,378.63 L479.5,378.65 L480,378.67 L480.5,378.69 L481,378.71 L481.5,378.72 L482,378.74 L482.5,378.75 L483,378.77 L483.5,378.78 L484,378.79 L484.5,378.81 L485,378.82 L485.5,378.83 L486,378.84 L486.5,378.85 L487,378.86 L487.5,378.87 L488,378.88 L488.5,378.89 L489,378.9 L489.5,378.91 L490,378.92 L490.5,378.92 L491,378.93 L491.5,378.94 L492,378.95 L492.5,378.95 L493,378.96 L493.5,378.97 L494,378.97 L494.5,378.98 L495,378.98 L495.5,378.99 L496,378.99 L496.5,379 L497,379 L497.5,379.01 L498,379.01 L498.5,379.02 L499,379.02 L499.5,379.03 L500,379.03 L500.5,379.03 L501,379.04 L501.5,379.04 L502,379.04 L502.5,379.05 L503,379.05 L503.5,379.05 L504,379.06 L504.5,379.06 L505,379.06 L505.5,379.06 L506,379.07 L506.5,379.07 L507,379.07 L507.5,379.07 L508,379.08 L508.5,379.08 L509,379.08 L509.5,379.08 L510,379.08 L510.5,379.08 L511,379.09 L511.5,379.09 L512,379.09 L512.5,379.09 L513,379.09 L513.5,379.09 L514,379.09 L514.5,379.09 L515,379.09 L515.5,379.09 L516,379.09 L516.5,379.09 L517,379.09 L517.5,379.09 L518,379.09 L518.5,379.09 L519,379.09 L519.5,379.09 L520,379.08 L520.5,379.08 L521,379.08 L521.5,379.08 L522,379.08 L522.5,379.07 L523,379.07 L523.5,379.07 L524,379.06 L524.5,379.06 L525,379.06 L525.5,379.05 L526,379.05 L526.5,379.04 L527,379.04 L527.5,379.03 L528,379.02 L528.5,379.02 L529,379.01 L529.5,379 L530,378.99 L530.5,378.98 L531,378.97 L531.5,378.96 L532,378.94 L532.5,378.93 L533,378.91 L533.5,378.9 L534,378.88 L534.5,378.86 L535,378.83 L535.5,378.81 L536,378.78 L536.5,378.75 L537,378.72 L537.5,378.68 L538,378.64 L538.5,378.59 L539,378.54 L539.5,378.48 L540,378.42 L540.5,378.34 L541,378.26 L541.5,378.16 L542,378.05 L542.5,377.92 L543,377.77 L543.5,377.6 L544,377.4 L544.5,377.16 L545,376.88 L545.5,376.55 L546,376.16 L546.5,375.69 L547,375.15 L547.5,374.52 L548,373.81 L548.5,373.04 L549,372.26 L549.5,371.56 L550,371.04 L550.5,370.81 L551,370.91 L551.5,371.33 L552,371.97 L552.5,372.73 L553,373.51 L553.5,374.25 L554,374.91 L554.5,375.49 L555,375.99 L555.5,376.41 L556,376.76 L556.5,377.06 L557,377.32 L557.5,377.54 L558,377.72 L558.5,377.88 L559,378.02 L559.5,378.14 L560,378.24 L560.5,378.33 L561,378.41 L561.5,378.48 L562,378.54 L562.5,378.59 L563,378.64 L563.5,378.69 L564,378.73 L564.5,378.76 L565,378.8 L565.5,378.82 L566,378.85 L566.5,378.88 L567,378.9 L567.5,378.92 L568,378.94 L568.5,378.95 L569,378.97 L569.5,378.98 L570,379 L570.5,379.01 L571,379.02 L571.5,379.03 L572,379.04 L572.5,379.05 L573,379.06 L573.5,379.07 L574,379.07 L574.5,379.08 L575,379.08 L575.5,379.09 L576,379.1 L576.5,379.1 L577,379.1 L577.5,379.11 L578,379.11 L578.5,379.11 L579,379.12 L579.5,379.12 L580,379.12 L580.5,379.12 L581,379.13 L581.5,379.13 L582,379.13 L582.5,379.13 L583,379.13 L583.5,379.13 L584,379.13 L584.5,379.13 L585,379.13 L585.5,379.13 L586,379.13 L586.5,379.12 L587,379.12 L587.5,379.12 L588,379.12 L588.5,379.12 L589,379.11 L589.5,379.11 L590,379.11 L590.5,379.1 L591,379.1 L591.5,379.09 L592,379.09 L592.5,379.08 L593,379.07 L593.5,379.07 L594,379.06 L594.5,379.05 L595,379.04 L595.5,379.03 L596,379.02 L596.5,379.01 L597,378.99 L597.5,378.98 L598,378.96 L598.5,378.95 L599,378.93 L599.5,378.91 L600,378.88 L600.5,378.86 L601,378.83 L601.5,378.8 L602,378.77 L602.5,378.73 L603,378.69 L603.5,378.65 L604,378.6 L604.5,378.54 L605,378.48 L605.5,378.4 L606,378.32 L606.5,378.23 L607,378.12 L607.5,378 L608,377.85 L608.5,377.69 L609,377.49 L609.5,377.27 L610,377 L610.5,376.69 L611,376.32 L611.5,375.88 L612,375.38 L612.5,374.81 L613,374.17 L613.5,373.49 L614,372.82 L614.5,372.25 L615,371.85 L615.5,371.7 L616,371.84 L616.5,372.23 L617,372.8 L617.5,373.46 L618,374.12 L618.5,374.75 L619,375.32 L619.5,375.81 L620,376.24 L620.5,376.59 L621,376.9 L621.5,377.15 L622,377.36 L622.5,377.54 L623,377.69 L623.5,377.82 L624,377.92 L624.5,378.01 L625,378.08 L625.5,378.13 L626,378.18 L626.5,378.21 L627,378.23 L627.5,378.24 L628,378.24 L628.5,378.23 L629,378.21 L629.5,378.18 L630,378.13 L630.5,378.08 L631,378.01 L631.5,377.94 L632,377.85 L632.5,377.76 L633,377.67 L633.5,377.58 L634,377.5 L634.5,377.44 L635,377.4 L635.5,377.4 L636,377.43 L636.5,377.49 L637,377.57 L637.5,377.68 L638,377.79 L638.5,377.91 L639,378.03 L639.5,378.14 L640,378.25 L640.5,378.34 L641,378.43 L641.5,378.51 L642,378.58 L642.5,378.64 L643,378.7 L643.5,378.75 L644,378.8 L644.5,378.84 L645,378.87 L645.5,378.91 L646,378.93 L646.5,378.96 L647,378.99 L647.5,379.01 L648,379.03 L648.5,379.05 L649,379.06 L649.5,379.08 L650,379.09 L650.5,379.11 L651,379.12 L651.5,379.13 L652,379.14 L652.5,379.15 L653,379.16 L653.5,379.17 L654,379.18 L654.5,379.18 L655,379.19 L655.5,379.2 L656,379.2 L656.5,379.21 L657,379.22 L657.5,379.22 L658,379.23 L658.5,379.23 L659,379.24 L659.5,379.24 L660,379.24 L660.5,379.25 L661,379.25 L661.5,379.26 L662,379.26 L662.5,379.26 L663,379.26 L663.5,379.27 L664,379.27 L664.5,379.27 L665,379.28 L665.5,379.28 L666,379.28 L666.5,379.28 L667,379.29 L667.5,379.29 L668,379.29 L668.5,379.29 L669,379.29 L669.5,379.3 L670,379.3 L670.5,379.3 L671,379.3 L671.5,379.3 L672,379.3 L672.5,379.31 L673,379.31 L673.5,379.31 L674,379.31 L674.5,379.31 L675,379.31 L675.5,379.31 L676,379.32 L676.5,379.32 L677,379.32" stroke="#6e26c0"/>
<path d="M354.5,353.81 L355,353.8 L355.5,353.79 L356,353.78 L356.5,353.76 L357,353.75 L357.5,353.74 L358,353.72 L358.5,353.71 L359,353.69 L359.5,353.68 L360,353.66 L360.5,353.65 L361,353.63 L361.5,353.61 L362,353.6 L362.5,353.58 L363,353.56 L363.5,353.54 L364,353.52 L364.5,353.5 L365,353.48 L365.5,353.46 L366,353.44 L366.5,353.41 L367,353.39 L367.5,353.36 L368,353.34 L368.5,353.31 L369,353.28 L369.5,353.25 L370,353.22 L370.5,353.19 L371,353.16 L371.5,353.13 L372,353.09 L372.5,353.05 L373,353.01 L373.5,352.97 L374,352.93 L374.5,352.89 L375,352.84 L375.5,352.79 L376,352.74 L376.5,352.69 L377,352.63 L377.5,352.57 L378,352.51 L378.5,352.44 L379,352.37 L379.5,352.3 L380,352.21 L380.5,352.13 L381,352.04 L381.5,351.94 L382,351.83 L382.5,351.71 L383,351.57 L383.5,351.42 L384,351.25 L384.5,351.06 L385,350.84 L385.5,350.58 L386,350.28 L386.5,349.92 L387,349.52 L387.5,349.04 L388,348.5 L388.5,347.89 L389,347.2 L389.5,346.44 L390,345.62 L390.5,344.74 L391,343.84 L391.5,342.93 L392,342.06 L392.5,341.26 L393,340.57 L393.5,340 L394,339.53 L394.5,339.14 L395,338.78 L395.5,338.4 L396,337.95 L396.5,337.41 L397,336.75 L397.5,335.95 L398,335 L398.5,333.89 L399,332.61 L399.5,331.14 L400,329.47 L400.5,327.54 L401,325.3 L401.5,322.68 L402,319.6 L402.5,315.98 L403,311.82 L403.5,307.16 L404,302.2 L404.5,297.31 L405,293.12 L405.5,290.44 L406,289.99 L406.5,291.85 L407,295.4 L407.5,299.83 L408,304.45 L408.5,308.87 L409,312.85 L409.5,316.32 L410,319.29 L410.5,321.83 L411,324.01 L411.5,325.91 L412,327.6 L412.5,329.13 L413,330.52 L413.5,331.8 L414,332.97 L414.5,334.05 L415,335.02 L415.5,335.91 L416,336.7 L416.5,337.4 L417,338.03 L417.5,338.57 L418,339.04 L418.5,339.43 L419,339.77 L419.5,340.05 L420,340.27 L420.5,340.44 L421,340.58 L421.5,340.67 L422,340.74 L422.5,340.77 L423,340.78 L423.5,340.77 L424,340.75 L424.5,340.71 L425,340.67 L425.5,340.61 L426,340.55 L426.5,340.49 L427,340.43 L427.5,340.37 L428,340.31 L428.5,340.26 L429,340.21 L429.5,340.16 L430,340.12 L430.5,340.09 L431,340.07 L431.5,340.05 L432,340.04 L432.5,340.05 L433,340.06 L433.5,340.09 L434,340.13 L434.5,340.19 L435,340.27 L435.5,340.37 L436,340.48 L436.5,340.62 L437,340.79 L437.5,340.98 L438,341.2 L438.5,341.44 L439,341.7 L439.5,341.99 L440,342.3 L440.5,342.63 L441,342.97 L441.5,343.33 L442,343.69 L442.5,344.06 L443,344.44 L443.5,344.82 L444,345.19 L444.5,345.57 L445,345.94 L445.5,346.3 L446,346.65 L446.5,347 L447,347.33 L447.5,347.66 L448,347.97 L448.5,348.27 L449,348.56 L449.5,348.84 L450,349.11 L450.5,349.36 L451,349.6 L451.5,349.83 L452,350.05 L452.5,350.26 L453,350.45 L453.5,350.64 L454,350.81 L454.5,350.98 L455,351.13 L455.5,351.28 L456,351.42 L456.5,351.55 L457,351.67 L457.5,351.78 L458,351.89 L458.5,352 L459,352.09 L459.5,352.18 L460,352.27 L460.5,352.35 L461,352.42 L461.5,352.5 L462,352.56 L462.5,352.63 L463,352.69 L463.5,352.75 L464,352.8 L464.5,352.85 L465,352.9 L465.5,352.95 L466,352.99 L466.5,353.03 L467,353.07 L467.5,353.11 L468,353.15 L468.5,353.18 L469,353.21 L469.5,353.25 L470,353.28 L470.5,353.3 L471,353.33 L471.5,353.36 L472,353.38 L472.5,353.41 L473,353.43 L473.5,353.45 L474,353.48 L474.5,353.5 L475,353.52 L475.5,353.54 L476,353.55 L476.5,353.57 L477,353.59 L477.5,353.61 L478,353.62 L478.5,353.64 L479,353.65 L479.5,353.67 L480,353.68 L480.5,353.69 L481,353.71 L481.5,353.72 L482,353.73 L482.5,353.75 L483,353.76 L483.5,353.77 L484,353.78 L484.5,353.79 L485,353.8 L485.5,353.81 L486,353.82 L486.5,353.83 L487,353.84 L487.5,353.85 L488,353.86 L488.5,353.87 L489,353.88 L489.5,353.89 L490,353.89 L490.5,353.9 L491,353.91 L491.5,353.92 L492,353.92 L492.5,353.93 L493,353.94 L493.5,353.94 L494,353.95 L494.5,353.96 L495,353.96 L495.5,353.97 L496,353.98 L496.5,353.98 L497,353.99 L497.5,353.99 L498,354 L498.5,354 L499,354.01 L499.5,354.01 L500,354.02 L500.5,354.02 L501,354.03 L501.5,354.03 L502,354.04 L502.5,354.04 L503,354.05 L503.5,354.05 L504,354.05 L504.5,354.06 L505,354.06 L505.5,354.06 L506,354.07 L506.5,354.07 L507,354.07 L507.5,354.08 L508,354.08 L508.5,354.08 L509,354.09 L509.5,354.09 L510,354.09 L510.5,354.09 L511,354.1 L511.5,354.1 L512,354.1 L512.5,354.1 L513,354.1 L513.5,354.11 L514,354.11 L514.5,354.11 L515,354.11 L515.5,354.11 L516,354.11 L516.5,354.11 L517,354.11 L517.5,354.11 L518,354.11 L518.5,354.11 L519,354.11 L519.5,354.11 L520,354.11 L520.5,354.11 L521,354.11 L521.5,354.11 L522,354.11 L522.5,354.11 L523,354.11 L523.5,354.11 L524,354.1 L524.5,354.1 L525,354.1 L525.5,354.09 L526,354.09 L526.5,354.09 L527,354.08 L527.5,354.08 L528,354.07 L528.5,354.07 L529,354.06 L529.5,354.05 L530,354.05 L530.5,354.04 L531,354.03 L531.5,354.02 L532,354.01 L532.5,354 L533,353.98 L533.5,353.97 L534,353.95 L534.5,353.93 L535,353.91 L535.5,353.89 L536,353.87 L536.5,353.84 L537,353.81 L537.5,353.78 L538,353.75 L538.5,353.71 L539,353.66 L539.5,353.61 L540,353.55 L540.5,353.49 L541,353.41 L541.5,353.33 L542,353.23 L542.5,353.11 L543,352.98 L543.5,352.83 L544,352.65 L544.5,352.44 L545,352.19 L545.5,351.9 L546,351.55 L546.5,351.14 L547,350.66 L547.5,350.1 L548,349.47 L548.5,348.79 L549,348.1 L549.5,347.47 L550,347.01 L550.5,346.81 L551,346.9 L551.5,347.27 L552,347.84 L552.5,348.51 L553,349.21 L553.5,349.86 L554,350.45 L554.5,350.97 L555,351.41 L555.5,351.78 L556,352.1 L556.5,352.37 L557,352.59 L557.5,352.79 L558,352.95 L558.5,353.09 L559,353.21 L559.5,353.32 L560,353.41 L560.5,353.49 L561,353.56 L561.5,353.62 L562,353.68 L562.5,353.73 L563,353.77 L563.5,353.81 L564,353.85 L564.5,353.88 L565,353.91 L565.5,353.94 L566,353.96 L566.5,353.98 L567,354 L567.5,354.02 L568,354.04 L568.5,354.05 L569,354.07 L569.5,354.08 L570,354.09 L570.5,354.1 L571,354.11 L571.5,354.12 L572,354.13 L572.5,354.14 L573,354.15 L573.5,354.15 L574,354.16 L574.5,354.17 L575,354.17 L575.5,354.18 L576,354.18 L576.5,354.19 L577,354.19 L577.5,354.19 L578,354.2 L578.5,354.2 L579,354.2 L579.5,354.21 L580,354.21 L580.5,354.21 L581,354.21 L581.5,354.21 L582,354.21 L582.5,354.22 L583,354.22 L583.5,354.22 L584,354.22 L584.5,354.22 L585,354.22 L585.5,354.22 L586,354.21 L586.5,354.21 L587,354.21 L587.5,354.21 L588,354.21 L588.5,354.21 L589,354.2 L589.5,354.2 L590,354.2 L590.5,354.19 L591,354.19 L591.5,354.19 L592,354.18 L592.5,354.18 L593,354.17 L593.5,354.16 L594,354.16 L594.5,354.15 L595,354.14 L595.5,354.13 L596,354.12 L596.5,354.11 L597,354.1 L597.5,354.09 L598,354.07 L598.5,354.06 L599,354.04 L599.5,354.02 L600,354 L600.5,353.98 L601,353.96 L601.5,353.93 L602,353.9 L602.5,353.87 L603,353.83 L603.5,353.79 L604,353.75 L604.5,353.69 L605,353.64 L605.5,353.57 L606,353.5 L606.5,353.41 L607,353.32 L607.5,353.2 L608,353.07 L608.5,352.92 L609,352.75 L609.5,352.54 L610,352.3 L610.5,352.02 L611,351.68 L611.5,351.29 L612,350.83 L612.5,350.31 L613,349.73 L613.5,349.12 L614,348.52 L614.5,347.99 L615,347.63 L615.5,347.5 L616,347.63 L616.5,347.98 L617,348.5 L617.5,349.1 L618,349.7 L618.5,350.28 L619,350.79 L619.5,351.24 L620,351.62 L620.5,351.95 L621,352.23 L621.5,352.46 L622,352.65 L622.5,352.82 L623,352.96 L623.5,353.07 L624,353.17 L624.5,353.25 L625,353.32 L625.5,353.37 L626,353.42 L626.5,353.45 L627,353.47 L627.5,353.49 L628,353.49 L628.5,353.49 L629,353.48 L629.5,353.46 L630,353.43 L630.5,353.4 L631,353.35 L631.5,353.29 L632,353.23 L632.5,353.17 L633,353.1 L633.5,353.03 L634,352.97 L634.5,352.93 L635,352.9 L635.5,352.9 L636,352.92 L636.5,352.97 L637,353.04 L637.5,353.12 L638,353.21 L638.5,353.3 L639,353.39 L639.5,353.48 L640,353.56 L640.5,353.64 L641,353.7 L641.5,353.77 L642,353.82 L642.5,353.87 L643,353.92 L643.5,353.95 L644,353.99 L644.5,354.02 L645,354.05 L645.5,354.08 L646,354.1 L646.5,354.12 L647,354.14 L647.5,354.16 L648,354.17 L648.5,354.19 L649,354.2 L649.5,354.21 L650,354.23 L650.5,354.24 L651,354.25 L651.5,354.26 L652,354.26 L652.5,354.27 L653,354.28 L653.5,354.29 L654,354.29 L654.5,354.3 L655,354.3 L655.5,354.31 L656,354.32 L656.5,354.32 L657,354.33 L657.5,354.33 L658,354.33 L658.5,354.34 L659,354.34 L659.5,354.34 L660,354.35 L660.5,354.35 L661,354.35 L661.5,354.36 L662,354.36 L662.5,354.36 L663,354.37 L663.5,354.37 L664,354.37 L664.5,354.37 L665,354.38 L665.5,354.38 L666,354.38 L666.5,354.38 L667,354.38 L667.5,354.39 L668,354.39 L668.5,354.39 L669,354.39 L669.5,354.39 L670,354.39 L670.5,354.39 L671,354.4 L671.5,354.4 L672,354.4 L672.5,354.4 L673,354.4 L673.5,354.4 L674,354.4 L674.5,354.41 L675,354.41 L675.5,354.41 L676,354.41 L676.5,354.41 L677,354.41" stroke="#a0228e"/>
<path d="M354.5,328.87 L355,328.86 L355.5,328.85 L356,328.84 L356.5,328.83 L357,328.82 L357.5,328.81 L358,328.8 L358.5,328.79 L359,328.78 L359.5,328.77 L360,328.76 L360.5,328.74 L361,328.73 L361.5,328.72 L362,328.71 L362.5,328.69 L363,328.68 L363.5,328.66 L364,328.65 L364.5,328.63 L365,328.62 L365.5,328.6 L366,328.58 L366.5,328.56 L367,328.55 L367.5,328.53 L368,328.51 L368.5,328.49 L369,328.47 L369.5,328.44 L370,328.42 L370.5,328.4 L371,328.37 L371.5,328.34 L372,328.32 L372.5,328.29 L373,328.26 L373.5,328.22 L374,328.19 L374.5,328.15 L375,328.11 L375.5,328.07 L376,328.02 L376.5,327.98 L377,327.92 L377.5,327.87 L378,327.81 L378.5,327.74 L379,327.67 L379.5,327.59 L380,327.5 L380.5,327.41 L381,327.3 L381.5,327.19 L382,327.06 L382.5,326.92 L383,326.77 L383.5,326.59 L384,326.39 L384.5,326.17 L385,325.92 L385.5,325.62 L386,325.28 L386.5,324.88 L387,324.41 L387.5,323.86 L388,323.22 L388.5,322.48 L389,321.64 L389.5,320.7 L390,319.67 L390.5,318.57 L391,317.43 L391.5,316.29 L392,315.2 L392.5,314.2 L393,313.34 L393.5,312.65 L394,312.11 L394.5,311.69 L395,311.35 L395.5,311.02 L396,310.67 L396.5,310.26 L397,309.76 L397.5,309.16 L398,308.43 L398.5,307.56 L399,306.52 L399.5,305.27 L400,303.75 L400.5,301.9 L401,299.64 L401.5,296.91 L402,293.7 L402.5,290.05 L403,286.11 L403.5,282.15 L404,278.52 L404.5,275.71 L405,274.16 L405.5,274.12 L406,275.46 L406.5,277.8 L407,280.67 L407.5,283.67 L408,286.51 L408.5,289.01 L409,291.11 L409.5,292.81 L410,294.16 L410.5,295.26 L411,296.17 L411.5,296.97 L412,297.71 L412.5,298.42 L413,299.13 L413.5,299.83 L414,300.53 L414.5,301.24 L415,301.95 L415.5,302.66 L416,303.35 L416.5,304.04 L417,304.71 L417.5,305.37 L418,306.01 L418.5,306.63 L419,307.23 L419.5,307.81 L420,308.36 L420.5,308.89 L421,309.4 L421.5,309.89 L422,310.35 L422.5,310.8 L423,311.23 L423.5,311.64 L424,312.03 L424.5,312.4 L425,312.77 L425.5,313.12 L426,313.46 L426.5,313.79 L427,314.11 L427.5,314.43 L428,314.74 L428.5,315.05 L429,315.35 L429.5,315.65 L430,315.94 L430.5,316.23 L431,316.52 L431.5,316.81 L432,317.1 L432.5,317.39 L433,317.67 L433.5,317.95 L434,318.23 L434.5,318.51 L435,318.79 L435.5,319.07 L436,319.34 L436.5,319.61 L437,319.88 L437.5,320.14 L438,320.41 L438.5,320.66 L439,320.92 L439.5,321.17 L440,321.42 L440.5,321.66 L441,321.9 L441.5,322.13 L442,322.36 L442.5,322.58 L443,322.79 L443.5,323.01 L444,323.21 L444.5,323.41 L445,323.61 L445.5,323.8 L446,323.98 L446.5,324.16 L447,324.33 L447.5,324.5 L448,324.66 L448.5,324.81 L449,324.96 L449.5,325.11 L450,325.25 L450.5,325.38 L451,325.51 L451.5,325.64 L452,325.76 L452.5,325.88 L453,325.99 L453.5,326.1 L454,326.2 L454.5,326.3 L455,326.39 L455.5,326.49 L456,326.57 L456.5,326.66 L457,326.74 L457.5,326.82 L458,326.9 L458.5,326.97 L459,327.04 L459.5,327.11 L460,327.18 L460.5,327.24 L461,327.3 L461.5,327.36 L462,327.42 L462.5,327.47 L463,327.53 L463.5,327.58 L464,327.63 L464.5,327.68 L465,327.72 L465.5,327.77 L466,327.81 L466.5,327.86 L467,327.9 L467.5,327.94 L468,327.98 L468.5,328.02 L469,328.05 L469.5,328.09 L470,328.13 L470.5,328.16 L471,328.19 L471.5,328.23 L472,328.26 L472.5,328.29 L473,328.32 L473.5,328.35 L474,328.37 L474.5,328.4 L475,328.43 L475.5,328.45 L476,328.48 L476.5,328.5 L477,328.52 L477.5,328.55 L478,328.57 L478.5,328.59 L479,328.61 L479.5,328.63 L480,328.65 L480.5,328.67 L481,328.68 L481.5,328.7 L482,328.72 L482.5,328.73 L483,328.75 L483.5,328.76 L484,328.78 L484.5,328.79 L485,328.81 L485.5,328.82 L486,328.83 L486.5,328.84 L487,328.86 L487.5,328.87 L488,328.88 L488.5,328.89 L489,328.9 L489.5,328.91 L490,328.92 L490.5,328.92 L491,328.93 L491.5,328.94 L492,328.95 L492.5,328.96 L493,328.96 L493.5,328.97 L494,328.98 L494.5,328.98 L495,328.99 L495.5,329 L496,329 L496.5,329.01 L497,329.01 L497.5,329.02 L498,329.02 L498.5,329.03 L499,329.03 L499.5,329.04 L500,329.04 L500.5,329.04 L501,329.05 L501.5,329.05 L502,329.05 L502.5,329.06 L503,329.06 L503.5,329.06 L504,329.07 L504.5,329.07 L505,329.07 L505.5,329.08 L506,329.08 L506.5,329.08 L507,329.08 L507.5,329.08 L508,329.09 L508.5,329.09 L509,329.09 L509.5,329.09 L510,329.09 L510.5,329.09 L511,329.1 L511.5,329.1 L512,329.1 L512.5,329.1 L513,329.1 L513.5,329.1 L514,329.1 L514.5,329.1 L515,329.1 L515.5,329.1 L516,329.1 L516.5,329.1 L517,329.1 L517.5,329.1 L518,329.1 L518.5,329.1 L519,329.1 L519.5,329.1 L520,329.1 L520.5,329.1 L521,329.09 L521.5,329.09 L522,329.09 L522.5,329.09 L523,329.09 L523.5,329.08 L524,329.08 L524.5,329.08 L525,329.07 L525.5,329.07 L526,329.07 L526.5,329.06 L527,329.06 L527.5,329.05 L528,329.04 L528.5,329.04 L529,329.03 L529.5,329.02 L530,329.01 L530.5,329.01 L531,329 L531.5,328.99 L532,328.97 L532.5,328.96 L533,328.95 L533.5,328.93 L534,328.92 L534.5,328.9 L535,328.88 L535.5,328.86 L536,328.83 L536.5,328.81 L537,328.78 L537.5,328.74 L538,328.71 L538.5,328.67 L539,328.62 L539.5,328.57 L540,328.51 L540.5,328.45 L541,328.37 L541.5,328.29 L542,328.19 L542.5,328.08 L543,327.95 L543.5,327.79 L544,327.61 L544.5,327.41 L545,327.16 L545.5,326.87 L546,326.52 L546.5,326.11 L547,325.63 L547.5,325.08 L548,324.45 L548.5,323.77 L549,323.09 L549.5,322.47 L550,322.01 L550.5,321.81 L551,321.9 L551.5,322.26 L552,322.83 L552.5,323.5 L553,324.19 L553.5,324.84 L554,325.42 L554.5,325.94 L555,326.37 L555.5,326.74 L556,327.06 L556.5,327.32 L557,327.55 L557.5,327.74 L558,327.9 L558.5,328.04 L559,328.16 L559.5,328.27 L560,328.36 L560.5,328.44 L561,328.51 L561.5,328.57 L562,328.62 L562.5,328.67 L563,328.72 L563.5,328.75 L564,328.79 L564.5,328.82 L565,328.85 L565.5,328.88 L566,328.9 L566.5,328.92 L567,328.94 L567.5,328.96 L568,328.97 L568.5,328.99 L569,329 L569.5,329.02 L570,329.03 L570.5,329.04 L571,329.05 L571.5,329.06 L572,329.07 L572.5,329.07 L573,329.08 L573.5,329.09 L574,329.09 L574.5,329.1 L575,329.11 L575.5,329.11 L576,329.11 L576.5,329.12 L577,329.12 L577.5,329.13 L578,329.13 L578.5,329.13 L579,329.13 L579.5,329.14 L580,329.14 L580.5,329.14 L581,329.14 L581.5,329.14 L582,329.14 L582.5,329.14 L583,329.14 L583.5,329.15 L584,329.14 L584.5,329.14 L585,329.14 L585.5,329.14 L586,329.14 L586.5,329.14 L587,329.14 L587.5,329.14 L588,329.14 L588.5,329.13 L589,329.13 L589.5,329.13 L590,329.12 L590.5,329.12 L591,329.12 L591.5,329.11 L592,329.11 L592.5,329.1 L593,329.09 L593.5,329.09 L594,329.08 L594.5,329.07 L595,329.06 L595.5,329.05 L596,329.04 L596.5,329.03 L597,329.02 L597.5,329.01 L598,328.99 L598.5,328.98 L599,328.96 L599.5,328.94 L600,328.92 L600.5,328.9 L601,328.88 L601.5,328.85 L602,328.82 L602.5,328.79 L603,328.75 L603.5,328.71 L604,328.66 L604.5,328.61 L605,328.55 L605.5,328.49 L606,328.41 L606.5,328.33 L607,328.23 L607.5,328.12 L608,327.99 L608.5,327.84 L609,327.66 L609.5,327.46 L610,327.21 L610.5,326.93 L611,326.59 L611.5,326.2 L612,325.74 L612.5,325.22 L613,324.64 L613.5,324.03 L614,323.42 L614.5,322.9 L615,322.53 L615.5,322.4 L616,322.53 L616.5,322.88 L617,323.4 L617.5,324 L618,324.61 L618.5,325.18 L619,325.69 L619.5,326.14 L620,326.53 L620.5,326.85 L621,327.13 L621.5,327.36 L622,327.56 L622.5,327.72 L623,327.86 L623.5,327.98 L624,328.08 L624.5,328.16 L625,328.22 L625.5,328.28 L626,328.32 L626.5,328.36 L627,328.39 L627.5,328.4 L628,328.41 L628.5,328.42 L629,328.41 L629.5,328.4 L630,328.38 L630.5,328.36 L631,328.33 L631.5,328.3 L632,328.26 L632.5,328.23 L633,328.19 L633.5,328.15 L634,328.12 L634.5,328.1 L635,328.1 L635.5,328.1 L636,328.12 L636.5,328.15 L637,328.19 L637.5,328.24 L638,328.3 L638.5,328.36 L639,328.42 L639.5,328.48 L640,328.54 L640.5,328.6 L641,328.66 L641.5,328.71 L642,328.75 L642.5,328.79 L643,328.83 L643.5,328.87 L644,328.9 L644.5,328.93 L645,328.96 L645.5,328.98 L646,329 L646.5,329.02 L647,329.04 L647.5,329.06 L648,329.08 L648.5,329.09 L649,329.11 L649.5,329.12 L650,329.13 L650.5,329.14 L651,329.15 L651.5,329.16 L652,329.17 L652.5,329.18 L653,329.18 L653.5,329.19 L654,329.2 L654.5,329.2 L655,329.21 L655.5,329.22 L656,329.22 L656.5,329.23 L657,329.23 L657.5,329.24 L658,329.24 L658.5,329.24 L659,329.25 L659.5,329.25 L660,329.26 L660.5,329.26 L661,329.26 L661.5,329.27 L662,329.27 L662.5,329.27 L663,329.27 L663.5,329.28 L664,329.28 L664.5,329.28 L665,329.28 L665.5,329.29 L666,329.29 L666.5,329.29 L667,329.29 L667.5,329.29 L668,329.3 L668.5,329.3 L669,329.3 L669.5,329.3 L670,329.3 L670.5,329.3 L671,329.31 L671.5,329.31 L672,329.31 L672.5,329.31 L673,329.31 L673.5,329.31 L674,329.31 L674.5,329.31 L675,329.32 L675.5,329.32 L676,329.32 L676.5,329.32 L677,329.32" stroke="#c81e5a"/>
<path d="M354.5,304.07 L355,304.06 L355.5,304.05 L356,304.04 L356.5,304.03 L357,304.02 L357.5,304.02 L358,304.01 L358.5,304 L359,303.99 L359.5,303.98 L360,303.97 L360.5,303.96 L361,303.95 L361.5,303.93 L362,303.92 L362.5,303.91 L363,303.9 L363.5,303.89 L364,303.87 L364.5,303.86 L365,303.84 L365.5,303.83 L366,303.82 L366.5,303.8 L367,303.78 L367.5,303.77 L368,303.75 L368.5,303.73 L369,303.71 L369.5,303.69 L370,303.67 L370.5,303.65 L371,303.63 L371.5,303.6 L372,303.58 L372.5,303.55 L373,303.53 L373.5,303.5 L374,303.47 L374.5,303.43 L375,303.4 L375.5,303.36 L376,303.32 L376.5,303.28 L377,303.23 L377.5,303.18 L378,303.13 L378.5,303.07 L379,303 L379.5,302.93 L380,302.85 L380.5,302.77 L381,302.67 L381.5,302.56 L382,302.44 L382.5,302.31 L383,302.16 L383.5,301.99 L384,301.8 L384.5,301.57 L385,301.31 L385.5,301.01 L386,300.64 L386.5,300.2 L387,299.67 L387.5,299.02 L388,298.23 L388.5,297.3 L389,296.21 L389.5,294.98 L390,293.62 L390.5,292.19 L391,290.73 L391.5,289.35 L392,288.12 L392.5,287.14 L393,286.46 L393.5,286.08 L394,285.93 L394.5,285.92 L395,285.97 L395.5,285.99 L396,285.92 L396.5,285.74 L397,285.43 L397.5,284.97 L398,284.37 L398.5,283.64 L399,282.76 L399.5,281.74 L400,280.51 L400.5,279.04 L401,277.24 L401.5,275.04 L402,272.41 L402.5,269.34 L403,265.94 L403.5,262.43 L404,259.12 L404.5,256.46 L405,254.94 L405.5,254.86 L406,256.21 L406.5,258.63 L407,261.63 L407.5,264.77 L408,267.71 L408.5,270.27 L409,272.34 L409.5,273.93 L410,275.09 L410.5,275.9 L411,276.44 L411.5,276.81 L412,277.04 L412.5,277.2 L413,277.29 L413.5,277.35 L414,277.38 L414.5,277.39 L415,277.39 L415.5,277.39 L416,277.4 L416.5,277.43 L417,277.47 L417.5,277.55 L418,277.66 L418.5,277.82 L419,278.02 L419.5,278.27 L420,278.58 L420.5,278.93 L421,279.33 L421.5,279.78 L422,280.27 L422.5,280.79 L423,281.35 L423.5,281.93 L424,282.53 L424.5,283.14 L425,283.75 L425.5,284.38 L426,284.99 L426.5,285.61 L427,286.21 L427.5,286.8 L428,287.37 L428.5,287.92 L429,288.46 L429.5,288.97 L430,289.46 L430.5,289.92 L431,290.37 L431.5,290.79 L432,291.19 L432.5,291.57 L433,291.93 L433.5,292.27 L434,292.59 L434.5,292.9 L435,293.2 L435.5,293.48 L436,293.76 L436.5,294.02 L437,294.28 L437.5,294.54 L438,294.79 L438.5,295.03 L439,295.28 L439.5,295.52 L440,295.76 L440.5,296 L441,296.24 L441.5,296.48 L442,296.72 L442.5,296.96 L443,297.2 L443.5,297.43 L444,297.67 L444.5,297.91 L445,298.14 L445.5,298.37 L446,298.6 L446.5,298.82 L447,299.04 L447.5,299.26 L448,299.48 L448.5,299.69 L449,299.89 L449.5,300.09 L450,300.29 L450.5,300.48 L451,300.67 L451.5,300.84 L452,301.02 L452.5,301.18 L453,301.35 L453.5,301.5 L454,301.65 L454.5,301.79 L455,301.93 L455.5,302.06 L456,302.18 L456.5,302.3 L457,302.41 L457.5,302.51 L458,302.61 L458.5,302.71 L459,302.8 L459.5,302.88 L460,302.96 L460.5,303.03 L461,303.1 L461.5,303.17 L462,303.23 L462.5,303.29 L463,303.34 L463.5,303.39 L464,303.44 L464.5,303.48 L465,303.52 L465.5,303.56 L466,303.6 L466.5,303.63 L467,303.66 L467.5,303.69 L468,303.72 L468.5,303.74 L469,303.77 L469.5,303.79 L470,303.81 L470.5,303.83 L471,303.85 L471.5,303.86 L472,303.88 L472.5,303.89 L473,303.91 L473.5,303.92 L474,303.94 L474.5,303.95 L475,303.96 L475.5,303.97 L476,303.98 L476.5,303.99 L477,304 L477.5,304.01 L478,304.02 L478.5,304.03 L479,304.04 L479.5,304.04 L480,304.05 L480.5,304.06 L481,304.07 L481.5,304.07 L482,304.08 L482.5,304.09 L483,304.09 L483.5,304.1 L484,304.1 L484.5,304.11 L485,304.12 L485.5,304.12 L486,304.13 L486.5,304.13 L487,304.14 L487.5,304.14 L488,304.15 L488.5,304.15 L489,304.15 L489.5,304.16 L490,304.16 L490.5,304.17 L491,304.17 L491.5,304.17 L492,304.18 L492.5,304.18 L493,304.19 L493.5,304.19 L494,304.19 L494.5,304.2 L495,304.2 L495.5,304.2 L496,304.2 L496.5,304.21 L497,304.21 L497.5,304.21 L498,304.22 L498.5,304.22 L499,304.22 L499.5,304.22 L500,304.23 L500.5,304.23 L501,304.23 L501.5,304.23 L502,304.23 L502.5,304.24 L503,304.24 L503.5,304.24 L504,304.24 L504.5,304.24 L505,304.24 L505.5,304.25 L506,304.25 L506.5,304.25 L507,304.25 L507.5,304.25 L508,304.25 L508.5,304.25 L509,304.25 L509.5,304.26 L510,304.26 L510.5,304.26 L511,304.26 L511.5,304.26 L512,304.26 L512.5,304.26 L513,304.26 L513.5,304.26 L514,304.26 L514.5,304.26 L515,304.26 L515.5,304.26 L516,304.26 L516.5,304.26 L517,304.26 L517.5,304.26 L518,304.26 L518.5,304.26 L519,304.26 L519.5,304.25 L520,304.25 L520.5,304.25 L521,304.25 L521.5,304.25 L522,304.25 L522.5,304.24 L523,304.24 L523.5,304.24 L524,304.24 L524.5,304.23 L525,304.23 L525.5,304.23 L526,304.22 L526.5,304.22 L527,304.21 L527.5,304.21 L528,304.2 L528.5,304.2 L529,304.19 L529.5,304.18 L530,304.17 L530.5,304.17 L531,304.16 L531.5,304.15 L532,304.14 L532.5,304.13 L533,304.11 L533.5,304.1 L534,304.09 L534.5,304.07 L535,304.05 L535.5,304.03 L536,304.01 L536.5,303.99 L537,303.96 L537.5,303.93 L538,303.9 L538.5,303.86 L539,303.82 L539.5,303.77 L540,303.72 L540.5,303.66 L541,303.6 L541.5,303.52 L542,303.43 L542.5,303.33 L543,303.21 L543.5,303.08 L544,302.92 L544.5,302.73 L545,302.51 L545.5,302.24 L546,301.93 L546.5,301.57 L547,301.14 L547.5,300.64 L548,300.08 L548.5,299.47 L549,298.86 L549.5,298.3 L550,297.89 L550.5,297.71 L551,297.79 L551.5,298.12 L552,298.62 L552.5,299.22 L553,299.84 L553.5,300.42 L554,300.95 L554.5,301.41 L555,301.8 L555.5,302.13 L556,302.41 L556.5,302.65 L557,302.85 L557.5,303.02 L558,303.17 L558.5,303.29 L559,303.4 L559.5,303.5 L560,303.58 L560.5,303.65 L561,303.71 L561.5,303.77 L562,303.82 L562.5,303.86 L563,303.9 L563.5,303.93 L564,303.96 L564.5,303.99 L565,304.02 L565.5,304.04 L566,304.06 L566.5,304.08 L567,304.1 L567.5,304.11 L568,304.13 L568.5,304.14 L569,304.15 L569.5,304.17 L570,304.18 L570.5,304.19 L571,304.2 L571.5,304.2 L572,304.21 L572.5,304.22 L573,304.22 L573.5,304.23 L574,304.24 L574.5,304.24 L575,304.25 L575.5,304.25 L576,304.25 L576.5,304.26 L577,304.26 L577.5,304.26 L578,304.27 L578.5,304.27 L579,304.27 L579.5,304.27 L580,304.28 L580.5,304.28 L581,304.28 L581.5,304.28 L582,304.28 L582.5,304.28 L583,304.28 L583.5,304.28 L584,304.28 L584.5,304.28 L585,304.28 L585.5,304.28 L586,304.28 L586.5,304.28 L587,304.28 L587.5,304.27 L588,304.27 L588.5,304.27 L589,304.27 L589.5,304.26 L590,304.26 L590.5,304.26 L591,304.25 L591.5,304.25 L592,304.25 L592.5,304.24 L593,304.24 L593.5,304.23 L594,304.22 L594.5,304.22 L595,304.21 L595.5,304.2 L596,304.19 L596.5,304.18 L597,304.17 L597.5,304.16 L598,304.15 L598.5,304.14 L599,304.12 L599.5,304.11 L600,304.09 L600.5,304.07 L601,304.05 L601.5,304.03 L602,304 L602.5,303.97 L603,303.94 L603.5,303.9 L604,303.86 L604.5,303.82 L605,303.77 L605.5,303.71 L606,303.65 L606.5,303.58 L607,303.49 L607.5,303.4 L608,303.29 L608.5,303.16 L609,303 L609.5,302.83 L610,302.62 L610.5,302.38 L611,302.09 L611.5,301.75 L612,301.36 L612.5,300.91 L613,300.42 L613.5,299.89 L614,299.37 L614.5,298.93 L615,298.61 L615.5,298.5 L616,298.61 L616.5,298.91 L617,299.35 L617.5,299.86 L618,300.38 L618.5,300.87 L619,301.31 L619.5,301.69 L620,302.02 L620.5,302.29 L621,302.53 L621.5,302.72 L622,302.89 L622.5,303.03 L623,303.14 L623.5,303.24 L624,303.32 L624.5,303.39 L625,303.45 L625.5,303.49 L626,303.53 L626.5,303.56 L627,303.58 L627.5,303.59 L628,303.6 L628.5,303.6 L629,303.6 L629.5,303.59 L630,303.57 L630.5,303.56 L631,303.54 L631.5,303.51 L632,303.49 L632.5,303.47 L633,303.44 L633.5,303.42 L634,303.41 L634.5,303.4 L635,303.39 L635.5,303.4 L636,303.41 L636.5,303.43 L637,303.46 L637.5,303.5 L638,303.54 L638.5,303.58 L639,303.63 L639.5,303.67 L640,303.72 L640.5,303.76 L641,303.81 L641.5,303.85 L642,303.89 L642.5,303.92 L643,303.96 L643.5,303.99 L644,304.02 L644.5,304.04 L645,304.07 L645.5,304.09 L646,304.11 L646.5,304.13 L647,304.15 L647.5,304.17 L648,304.18 L648.5,304.2 L649,304.21 L649.5,304.22 L650,304.24 L650.5,304.25 L651,304.26 L651.5,304.27 L652,304.27 L652.5,304.28 L653,304.29 L653.5,304.3 L654,304.31 L654.5,304.31 L655,304.32 L655.5,304.32 L656,304.33 L656.5,304.33 L657,304.34 L657.5,304.34 L658,304.35 L658.5,304.35 L659,304.36 L659.5,304.36 L660,304.36 L660.5,304.37 L661,304.37 L661.5,304.37 L662,304.38 L662.5,304.38 L663,304.38 L663.5,304.38 L664,304.39 L664.5,304.39 L665,304.39 L665.5,304.39 L666,304.4 L666.5,304.4 L667,304.4 L667.5,304.4 L668,304.4 L668.5,304.41 L669,304.41 L669.5,304.41 L670,304.41 L670.5,304.41 L671,304.41 L671.5,304.41 L672,304.42 L672.5,304.42 L673,304.42 L673.5,304.42 L674,304.42 L674.5,304.42 L675,304.42 L675.5,304.42 L676,304.43 L676.5,304.43 L677,304.43" stroke="#f22828"/>
<path d="M354.5,279.71 L355,279.7 L355.5,279.68 L356,279.67 L356.5,279.65 L357,279.64 L357.5,279.62 L358,279.61 L358.5,279.59 L359,279.57 L359.5,279.56 L360,279.54 L360.5,279.52 L361,279.5 L361.5,279.48 L362,279.46 L362.5,279.44 L363,279.42 L363.5,279.39 L364,279.37 L364.5,279.35 L365,279.32 L365.5,279.29 L366,279.27 L366.5,279.24 L367,279.21 L367.5,279.18 L368,279.15 L368.5,279.12 L369,279.08 L369.5,279.05 L370,279.01 L370.5,278.97 L371,278.93 L371.5,278.89 L372,278.85 L372.5,278.8 L373,278.75 L373.5,278.7 L374,278.65 L374.5,278.59 L375,278.53 L375.5,278.47 L376,278.4 L376.5,278.33 L377,278.26 L377.5,278.18 L378,278.1 L378.5,278.01 L379,277.91 L379.5,277.81 L380,277.7 L380.5,277.58 L381,277.45 L381.5,277.31 L382,277.16 L382.5,276.99 L383,276.81 L383.5,276.6 L384,276.37 L384.5,276.1 L385,275.8 L385.5,275.45 L386,275.04 L386.5,274.56 L387,274.01 L387.5,273.36 L388,272.6 L388.5,271.72 L389,270.71 L389.5,269.56 L390,268.28 L390.5,266.86 L391,265.34 L391.5,263.75 L392,262.19 L392.5,260.75 L393,259.56 L393.5,258.75 L394,258.4 L394.5,258.49 L395,258.95 L395.5,259.66 L396,260.48 L396.5,261.3 L397,262.04 L397.5,262.64 L398,263.08 L398.5,263.34 L399,263.41 L399.5,263.28 L400,262.93 L400.5,262.32 L401,261.4 L401.5,260.11 L402,258.35 L402.5,256.03 L403,253.06 L403.5,249.43 L404,245.21 L404.5,240.73 L405,236.68 L405.5,234.11 L406,233.89 L406.5,236.05 L407,239.71 L407.5,243.83 L408,247.67 L408.5,250.88 L409,253.37 L409.5,255.16 L410,256.33 L410.5,256.99 L411,257.24 L411.5,257.17 L412,256.86 L412.5,256.37 L413,255.72 L413.5,254.95 L414,254.1 L414.5,253.17 L415,252.19 L415.5,251.17 L416,250.15 L416.5,249.13 L417,248.14 L417.5,247.21 L418,246.37 L418.5,245.63 L419,245.03 L419.5,244.58 L420,244.3 L420.5,244.21 L421,244.31 L421.5,244.6 L422,245.07 L422.5,245.72 L423,246.52 L423.5,247.45 L424,248.49 L424.5,249.62 L425,250.81 L425.5,252.04 L426,253.3 L426.5,254.56 L427,255.82 L427.5,257.06 L428,258.27 L428.5,259.45 L429,260.59 L429.5,261.68 L430,262.72 L430.5,263.71 L431,264.65 L431.5,265.54 L432,266.38 L432.5,267.17 L433,267.92 L433.5,268.61 L434,269.26 L434.5,269.87 L435,270.43 L435.5,270.96 L436,271.44 L436.5,271.9 L437,272.32 L437.5,272.71 L438,273.07 L438.5,273.41 L439,273.72 L439.5,274.01 L440,274.28 L440.5,274.53 L441,274.76 L441.5,274.98 L442,275.18 L442.5,275.37 L443,275.55 L443.5,275.72 L444,275.88 L444.5,276.03 L445,276.17 L445.5,276.3 L446,276.43 L446.5,276.55 L447,276.67 L447.5,276.78 L448,276.88 L448.5,276.98 L449,277.08 L449.5,277.17 L450,277.26 L450.5,277.34 L451,277.43 L451.5,277.5 L452,277.58 L452.5,277.65 L453,277.73 L453.5,277.79 L454,277.86 L454.5,277.93 L455,277.99 L455.5,278.05 L456,278.11 L456.5,278.16 L457,278.22 L457.5,278.27 L458,278.32 L458.5,278.37 L459,278.42 L459.5,278.47 L460,278.51 L460.5,278.56 L461,278.6 L461.5,278.64 L462,278.68 L462.5,278.72 L463,278.76 L463.5,278.8 L464,278.83 L464.5,278.87 L465,278.9 L465.5,278.94 L466,278.97 L466.5,279 L467,279.03 L467.5,279.06 L468,279.09 L468.5,279.12 L469,279.15 L469.5,279.17 L470,279.2 L470.5,279.22 L471,279.25 L471.5,279.27 L472,279.3 L472.5,279.32 L473,279.34 L473.5,279.36 L474,279.38 L474.5,279.4 L475,279.42 L475.5,279.44 L476,279.46 L476.5,279.48 L477,279.5 L477.5,279.52 L478,279.53 L478.5,279.55 L479,279.57 L479.5,279.58 L480,279.6 L480.5,279.61 L481,279.63 L481.5,279.64 L482,279.66 L482.5,279.67 L483,279.68 L483.5,279.69 L484,279.71 L484.5,279.72 L485,279.73 L485.5,279.74 L486,279.75 L486.5,279.76 L487,279.78 L487.5,279.79 L488,279.8 L488.5,279.81 L489,279.82 L489.5,279.83 L490,279.83 L490.5,279.84 L491,279.85 L491.5,279.86 L492,279.87 L492.5,279.88 L493,279.89 L493.5,279.89 L494,279.9 L494.5,279.91 L495,279.92 L495.5,279.92 L496,279.93 L496.5,279.94 L497,279.94 L497.5,279.95 L498,279.96 L498.5,279.96 L499,279.97 L499.5,279.97 L500,279.98 L500.5,279.99 L501,279.99 L501.5,280 L502,280 L502.5,280.01 L503,280.01 L503.5,280.02 L504,280.02 L504.5,280.02 L505,280.03 L505.5,280.03 L506,280.04 L506.5,280.04 L507,280.05 L507.5,280.05 L508,280.05 L508.5,280.06 L509,280.06 L509.5,280.06 L510,280.07 L510.5,280.07 L511,280.07 L511.5,280.08 L512,280.08 L512.5,280.08 L513,280.08 L513.5,280.09 L514,280.09 L514.5,280.09 L515,280.09 L515.5,280.1 L516,280.1 L516.5,280.1 L517,280.1 L517.5,280.1 L518,280.1 L518.5,280.11 L519,280.11 L519.5,280.11 L520,280.11 L520.5,280.11 L521,280.11 L521.5,280.11 L522,280.11 L522.5,280.11 L523,280.11 L523.5,280.11 L524,280.11 L524.5,280.11 L525,280.11 L525.5,280.11 L526,280.1 L526.5,280.1 L527,280.1 L527.5,280.1 L528,280.1 L528.5,280.09 L529,280.09 L529.5,280.08 L530,280.08 L530.5,280.07 L531,280.07 L531.5,280.06 L532,280.06 L532.5,280.05 L533,280.04 L533.5,280.03 L534,280.02 L534.5,280.01 L535,280 L535.5,279.98 L536,279.97 L536.5,279.95 L537,279.93 L537.5,279.91 L538,279.88 L538.5,279.85 L539,279.82 L539.5,279.79 L540,279.75 L540.5,279.7 L541,279.65 L541.5,279.59 L542,279.52 L542.5,279.44 L543,279.35 L543.5,279.24 L544,279.11 L544.5,278.96 L545,278.78 L545.5,278.57 L546,278.31 L546.5,278 L547,277.64 L547.5,277.21 L548,276.71 L548.5,276.16 L549,275.6 L549.5,275.08 L550,274.68 L550.5,274.51 L551,274.58 L551.5,274.9 L552,275.38 L552.5,275.94 L553,276.5 L553.5,277.02 L554,277.48 L554.5,277.87 L555,278.21 L555.5,278.48 L556,278.72 L556.5,278.91 L557,279.07 L557.5,279.21 L558,279.33 L558.5,279.43 L559,279.52 L559.5,279.59 L560,279.65 L560.5,279.71 L561,279.76 L561.5,279.8 L562,279.84 L562.5,279.88 L563,279.9 L563.5,279.93 L564,279.96 L564.5,279.98 L565,280 L565.5,280.01 L566,280.03 L566.5,280.04 L567,280.05 L567.5,280.06 L568,280.07 L568.5,280.08 L569,280.09 L569.5,280.1 L570,280.1 L570.5,280.11 L571,280.11 L571.5,280.11 L572,280.12 L572.5,280.12 L573,280.12 L573.5,280.12 L574,280.11 L574.5,280.11 L575,280.11 L575.5,280.1 L576,280.09 L576.5,280.08 L577,280.07 L577.5,280.06 L578,280.05 L578.5,280.03 L579,280.01 L579.5,279.99 L580,279.97 L580.5,279.95 L581,279.94 L581.5,279.92 L582,279.91 L582.5,279.9 L583,279.9 L583.5,279.91 L584,279.92 L584.5,279.93 L585,279.95 L585.5,279.97 L586,279.99 L586.5,280.01 L587,280.03 L587.5,280.05 L588,280.06 L588.5,280.07 L589,280.08 L589.5,280.09 L590,280.1 L590.5,280.11 L591,280.11 L591.5,280.12 L592,280.12 L592.5,280.12 L593,280.12 L593.5,280.12 L594,280.12 L594.5,280.11 L595,280.11 L595.5,280.11 L596,280.1 L596.5,280.09 L597,280.09 L597.5,280.08 L598,280.07 L598.5,280.06 L599,280.05 L599.5,280.03 L600,280.02 L600.5,280 L601,279.98 L601.5,279.96 L602,279.94 L602.5,279.91 L603,279.89 L603.5,279.85 L604,279.82 L604.5,279.78 L605,279.73 L605.5,279.68 L606,279.62 L606.5,279.56 L607,279.48 L607.5,279.4 L608,279.3 L608.5,279.18 L609,279.04 L609.5,278.89 L610,278.7 L610.5,278.48 L611,278.22 L611.5,277.92 L612,277.57 L612.5,277.17 L613,276.72 L613.5,276.25 L614,275.79 L614.5,275.39 L615,275.1 L615.5,275 L616,275.09 L616.5,275.36 L617,275.75 L617.5,276.2 L618,276.66 L618.5,277.09 L619,277.48 L619.5,277.81 L620,278.1 L620.5,278.34 L621,278.55 L621.5,278.72 L622,278.86 L622.5,278.98 L623,279.07 L623.5,279.15 L624,279.22 L624.5,279.28 L625,279.32 L625.5,279.35 L626,279.38 L626.5,279.4 L627,279.41 L627.5,279.42 L628,279.43 L628.5,279.43 L629,279.42 L629.5,279.41 L630,279.4 L630.5,279.39 L631,279.38 L631.5,279.36 L632,279.35 L632.5,279.33 L633,279.32 L633.5,279.31 L634,279.3 L634.5,279.3 L635,279.29 L635.5,279.29 L636,279.3 L636.5,279.31 L637,279.32 L637.5,279.34 L638,279.36 L638.5,279.39 L639,279.42 L639.5,279.45 L640,279.48 L640.5,279.52 L641,279.55 L641.5,279.59 L642,279.62 L642.5,279.66 L643,279.69 L643.5,279.73 L644,279.76 L644.5,279.79 L645,279.82 L645.5,279.85 L646,279.88 L646.5,279.9 L647,279.93 L647.5,279.95 L648,279.97 L648.5,279.99 L649,280.01 L649.5,280.03 L650,280.05 L650.5,280.07 L651,280.08 L651.5,280.1 L652,280.11 L652.5,280.13 L653,280.14 L653.5,280.15 L654,280.16 L654.5,280.17 L655,280.18 L655.5,280.19 L656,280.2 L656.5,280.21 L657,280.22 L657.5,280.23 L658,280.24 L658.5,280.24 L659,280.25 L659.5,280.26 L660,280.26 L660.5,280.27 L661,280.27 L661.5,280.28 L662,280.29 L662.5,280.29 L663,280.3 L663.5,280.3 L664,280.3 L664.5,280.31 L665,280.31 L665.5,280.32 L666,280.32 L666.5,280.32 L667,280.33 L667.5,280.33 L668,280.33 L668.5,280.34 L669,280.34 L669.5,280.34 L670,280.35 L670.5,280.35 L671,280.35 L671.5,280.35 L672,280.36 L672.5,280.36 L673,280.36 L673.5,280.36 L674,280.36 L674.5,280.37 L675,280.37 L675.5,280.37 L676,280.37 L676.5,280.37 L677,280.38" stroke="#e0522e"/>
<path d="M354.5,254.98 L355,254.97 L355.5,254.96 L356,254.95 L356.5,254.94 L357,254.93 L357.5,254.91 L358,254.9 L358.5,254.89 L359,254.88 L359.5,254.86 L360,254.85 L360.5,254.83 L361,254.82 L361.5,254.8 L362,254.79 L362.5,254.77 L363,254.75 L363.5,254.73 L364,254.72 L364.5,254.7 L365,254.67 L365.5,254.65 L366,254.63 L366.5,254.61 L367,254.58 L367.5,254.56 L368,254.53 L368.5,254.5 L369,254.47 L369.5,254.44 L370,254.41 L370.5,254.37 L371,254.34 L371.5,254.3 L372,254.26 L372.5,254.22 L373,254.17 L373.5,254.12 L374,254.07 L374.5,254.02 L375,253.96 L375.5,253.9 L376,253.83 L376.5,253.76 L377,253.69 L377.5,253.61 L378,253.52 L378.5,253.42 L379,253.32 L379.5,253.21 L380,253.08 L380.5,252.95 L381,252.8 L381.5,252.63 L382,252.45 L382.5,252.25 L383,252.02 L383.5,251.76 L384,251.48 L384.5,251.15 L385,250.77 L385.5,250.34 L386,249.84 L386.5,249.26 L387,248.58 L387.5,247.79 L388,246.84 L388.5,245.72 L389,244.4 L389.5,242.84 L390,241.02 L390.5,238.97 L391,236.76 L391.5,234.54 L392,232.6 L392.5,231.25 L393,230.78 L393.5,231.25 L394,232.5 L394.5,234.21 L395,236.04 L395.5,237.78 L396,239.28 L396.5,240.5 L397,241.42 L397.5,242.05 L398,242.41 L398.5,242.51 L399,242.36 L399.5,241.94 L400,241.25 L400.5,240.23 L401,238.84 L401.5,237.02 L402,234.68 L402.5,231.76 L403,228.22 L403.5,224.15 L404,219.87 L404.5,216.05 L405,213.59 L405.5,213.23 L406,215.05 L406.5,218.41 L407,222.39 L407.5,226.27 L408,229.65 L408.5,232.42 L409,234.59 L409.5,236.22 L410,237.39 L410.5,238.19 L411,238.66 L411.5,238.85 L412,238.79 L412.5,238.49 L413,237.97 L413.5,237.23 L414,236.28 L414.5,235.09 L415,233.67 L415.5,232.01 L416,230.1 L416.5,227.94 L417,225.57 L417.5,223.01 L418,220.36 L418.5,217.71 L419,215.23 L419.5,213.11 L420,211.54 L420.5,210.7 L421,210.7 L421.5,211.54 L422,213.15 L422.5,215.35 L423,217.95 L423.5,220.77 L424,223.63 L424.5,226.43 L425,229.07 L425.5,231.52 L426,233.75 L426.5,235.77 L427,237.57 L427.5,239.18 L428,240.62 L428.5,241.9 L429,243.03 L429.5,244.05 L430,244.95 L430.5,245.76 L431,246.48 L431.5,247.13 L432,247.72 L432.5,248.25 L433,248.73 L433.5,249.16 L434,249.55 L434.5,249.91 L435,250.24 L435.5,250.54 L436,250.82 L436.5,251.07 L437,251.31 L437.5,251.52 L438,251.72 L438.5,251.91 L439,252.08 L439.5,252.24 L440,252.39 L440.5,252.53 L441,252.65 L441.5,252.78 L442,252.89 L442.5,253 L443,253.1 L443.5,253.19 L444,253.28 L444.5,253.36 L445,253.44 L445.5,253.52 L446,253.59 L446.5,253.65 L447,253.72 L447.5,253.78 L448,253.83 L448.5,253.89 L449,253.94 L449.5,253.99 L450,254.03 L450.5,254.08 L451,254.12 L451.5,254.16 L452,254.2 L452.5,254.24 L453,254.27 L453.5,254.31 L454,254.34 L454.5,254.37 L455,254.4 L455.5,254.43 L456,254.46 L456.5,254.48 L457,254.51 L457.5,254.53 L458,254.56 L458.5,254.58 L459,254.6 L459.5,254.62 L460,254.64 L460.5,254.66 L461,254.68 L461.5,254.7 L462,254.71 L462.5,254.73 L463,254.75 L463.5,254.76 L464,254.78 L464.5,254.79 L465,254.81 L465.5,254.82 L466,254.84 L466.5,254.85 L467,254.86 L467.5,254.87 L468,254.89 L468.5,254.9 L469,254.91 L469.5,254.92 L470,254.93 L470.5,254.94 L471,254.95 L471.5,254.96 L472,254.97 L472.5,254.98 L473,254.99 L473.5,254.99 L474,255 L474.5,255.01 L475,255.02 L475.5,255.03 L476,255.03 L476.5,255.04 L477,255.05 L477.5,255.05 L478,255.06 L478.5,255.07 L479,255.07 L479.5,255.08 L480,255.09 L480.5,255.09 L481,255.1 L481.5,255.1 L482,255.11 L482.5,255.11 L483,255.12 L483.5,255.12 L484,255.13 L484.5,255.13 L485,255.14 L485.5,255.14 L486,255.15 L486.5,255.15 L487,255.16 L487.5,255.16 L488,255.16 L488.5,255.17 L489,255.17 L489.5,255.18 L490,255.18 L490.5,255.18 L491,255.19 L491.5,255.19 L492,255.19 L492.5,255.2 L493,255.2 L493.5,255.2 L494,255.21 L494.5,255.21 L495,255.21 L495.5,255.21 L496,255.22 L496.5,255.22 L497,255.22 L497.5,255.22 L498,255.23 L498.5,255.23 L499,255.23 L499.5,255.23 L500,255.24 L500.5,255.24 L501,255.24 L501.5,255.24 L502,255.24 L502.5,255.25 L503,255.25 L503.5,255.25 L504,255.25 L504.5,255.25 L505,255.25 L505.5,255.26 L506,255.26 L506.5,255.26 L507,255.26 L507.5,255.26 L508,255.26 L508.5,255.26 L509,255.26 L509.5,255.26 L510,255.27 L510.5,255.27 L511,255.27 L511.5,255.27 L512,255.27 L512.5,255.27 L513,255.27 L513.5,255.27 L514,255.27 L514.5,255.27 L515,255.27 L515.5,255.27 L516,255.27 L516.5,255.27 L517,255.27 L517.5,255.27 L518,255.27 L518.5,255.27 L519,255.27 L519.5,255.27 L520,255.27 L520.5,255.27 L521,255.26 L521.5,255.26 L522,255.26 L522.5,255.26 L523,255.26 L523.5,255.26 L524,255.25 L524.5,255.25 L525,255.25 L525.5,255.25 L526,255.24 L526.5,255.24 L527,255.24 L527.5,255.23 L528,255.23 L528.5,255.23 L529,255.22 L529.5,255.22 L530,255.21 L530.5,255.2 L531,255.2 L531.5,255.19 L532,255.18 L532.5,255.17 L533,255.16 L533.5,255.15 L534,255.14 L534.5,255.13 L535,255.12 L535.5,255.1 L536,255.09 L536.5,255.07 L537,255.05 L537.5,255.03 L538,255 L538.5,254.97 L539,254.94 L539.5,254.91 L540,254.87 L540.5,254.82 L541,254.77 L541.5,254.71 L542,254.65 L542.5,254.57 L543,254.48 L543.5,254.37 L544,254.24 L544.5,254.09 L545,253.92 L545.5,253.7 L546,253.45 L546.5,253.14 L547,252.77 L547.5,252.34 L548,251.83 L548.5,251.26 L549,250.67 L549.5,250.12 L550,249.7 L550.5,249.51 L551,249.59 L551.5,249.93 L552,250.44 L552.5,251.02 L553,251.6 L553.5,252.13 L554,252.6 L554.5,252.99 L555,253.32 L555.5,253.59 L556,253.82 L556.5,254.01 L557,254.17 L557.5,254.3 L558,254.41 L558.5,254.51 L559,254.59 L559.5,254.66 L560,254.72 L560.5,254.77 L561,254.81 L561.5,254.85 L562,254.89 L562.5,254.92 L563,254.94 L563.5,254.96 L564,254.98 L564.5,255 L565,255.01 L565.5,255.02 L566,255.03 L566.5,255.04 L567,255.05 L567.5,255.05 L568,255.06 L568.5,255.06 L569,255.06 L569.5,255.06 L570,255.05 L570.5,255.05 L571,255.04 L571.5,255.03 L572,255.02 L572.5,255.01 L573,254.99 L573.5,254.97 L574,254.95 L574.5,254.92 L575,254.9 L575.5,254.86 L576,254.82 L576.5,254.78 L577,254.73 L577.5,254.68 L578,254.61 L578.5,254.54 L579,254.47 L579.5,254.39 L580,254.31 L580.5,254.22 L581,254.15 L581.5,254.08 L582,254.03 L582.5,254 L583,254 L583.5,254.02 L584,254.07 L584.5,254.13 L585,254.21 L585.5,254.29 L586,254.37 L586.5,254.45 L587,254.53 L587.5,254.6 L588,254.66 L588.5,254.71 L589,254.76 L589.5,254.81 L590,254.85 L590.5,254.88 L591,254.91 L591.5,254.94 L592,254.96 L592.5,254.98 L593,254.99 L593.5,255.01 L594,255.02 L594.5,255.03 L595,255.03 L595.5,255.04 L596,255.04 L596.5,255.04 L597,255.04 L597.5,255.04 L598,255.04 L598.5,255.04 L599,255.03 L599.5,255.02 L600,255.01 L600.5,255 L601,254.99 L601.5,254.98 L602,254.96 L602.5,254.94 L603,254.92 L603.5,254.89 L604,254.86 L604.5,254.83 L605,254.79 L605.5,254.75 L606,254.7 L606.5,254.64 L607,254.58 L607.5,254.5 L608,254.42 L608.5,254.31 L609,254.2 L609.5,254.06 L610,253.89 L610.5,253.7 L611,253.47 L611.5,253.2 L612,252.88 L612.5,252.52 L613,252.12 L613.5,251.68 L614,251.25 L614.5,250.87 L615,250.6 L615.5,250.5 L616,250.59 L616.5,250.84 L617,251.2 L617.5,251.62 L618,252.04 L618.5,252.42 L619,252.77 L619.5,253.07 L620,253.32 L620.5,253.53 L621,253.7 L621.5,253.85 L622,253.97 L622.5,254.06 L623,254.14 L623.5,254.21 L624,254.26 L624.5,254.3 L625,254.33 L625.5,254.35 L626,254.36 L626.5,254.37 L627,254.37 L627.5,254.37 L628,254.36 L628.5,254.35 L629,254.33 L629.5,254.31 L630,254.29 L630.5,254.27 L631,254.24 L631.5,254.22 L632,254.19 L632.5,254.17 L633,254.15 L633.5,254.13 L634,254.12 L634.5,254.1 L635,254.1 L635.5,254.1 L636,254.1 L636.5,254.11 L637,254.12 L637.5,254.15 L638,254.17 L638.5,254.2 L639,254.23 L639.5,254.27 L640,254.31 L640.5,254.35 L641,254.39 L641.5,254.44 L642,254.48 L642.5,254.52 L643,254.56 L643.5,254.6 L644,254.64 L644.5,254.68 L645,254.72 L645.5,254.75 L646,254.79 L646.5,254.82 L647,254.85 L647.5,254.88 L648,254.9 L648.5,254.93 L649,254.95 L649.5,254.98 L650,255 L650.5,255.02 L651,255.04 L651.5,255.06 L652,255.07 L652.5,255.09 L653,255.11 L653.5,255.12 L654,255.14 L654.5,255.15 L655,255.16 L655.5,255.17 L656,255.18 L656.5,255.19 L657,255.2 L657.5,255.21 L658,255.22 L658.5,255.23 L659,255.24 L659.5,255.25 L660,255.25 L660.5,255.26 L661,255.27 L661.5,255.27 L662,255.28 L662.5,255.29 L663,255.29 L663.5,255.3 L664,255.3 L664.5,255.31 L665,255.31 L665.5,255.32 L666,255.32 L666.5,255.33 L667,255.33 L667.5,255.33 L668,255.34 L668.5,255.34 L669,255.34 L669.5,255.35 L670,255.35 L670.5,255.35 L671,255.36 L671.5,255.36 L672,255.36 L672.5,255.37 L673,255.37 L673.5,255.37 L674,255.37 L674.5,255.38 L675,255.38 L675.5,255.38 L676,255.38 L676.5,255.38 L677,255.39" stroke="#b07e22"/>
<path d="M354.5,230.08 L355,230.07 L355.5,230.06 L356,230.05 L356.5,230.04 L357,230.04 L357.5,230.03 L358,230.01 L358.5,230 L359,229.99 L359.5,229.98 L360,229.97 L360.5,229.96 L361,229.95 L361.5,229.93 L362,229.92 L362.5,229.9 L363,229.89 L363.5,229.87 L364,229.86 L364.5,229.84 L365,229.82 L365.5,229.8 L366,229.79 L366.5,229.77 L367,229.74 L367.5,229.72 L368,229.7 L368.5,229.68 L369,229.65 L369.5,229.62 L370,229.59 L370.5,229.56 L371,229.53 L371.5,229.5 L372,229.46 L372.5,229.43 L373,229.39 L373.5,229.35 L374,229.3 L374.5,229.25 L375,229.2 L375.5,229.15 L376,229.09 L376.5,229.02 L377,228.95 L377.5,228.88 L378,228.8 L378.5,228.71 L379,228.62 L379.5,228.51 L380,228.4 L380.5,228.27 L381,228.13 L381.5,227.97 L382,227.8 L382.5,227.61 L383,227.39 L383.5,227.14 L384,226.85 L384.5,226.53 L385,226.15 L385.5,225.71 L386,225.2 L386.5,224.59 L387,223.87 L387.5,223 L388,221.95 L388.5,220.68 L389,219.13 L389.5,217.25 L390,214.99 L390.5,212.37 L391,209.46 L391.5,206.55 L392,204.1 L392.5,202.68 L393,202.68 L393.5,204.06 L394,206.35 L394.5,208.99 L395,211.53 L395.5,213.74 L396,215.55 L396.5,216.95 L397,217.99 L397.5,218.71 L398,219.15 L398.5,219.32 L399,219.25 L399.5,218.93 L400,218.34 L400.5,217.45 L401,216.2 L401.5,214.52 L402,212.33 L402.5,209.53 L403,206.07 L403.5,202.01 L404,197.71 L404.5,193.93 L405,191.73 L405.5,191.9 L406,194.34 L406.5,198.14 L407,202.27 L407.5,206.06 L408,209.23 L408.5,211.73 L409,213.65 L409.5,215.06 L410,216.07 L410.5,216.73 L411,217.11 L411.5,217.25 L412,217.15 L412.5,216.84 L413,216.32 L413.5,215.58 L414,214.59 L414.5,213.35 L415,211.8 L415.5,209.92 L416,207.64 L416.5,204.92 L417,201.71 L417.5,197.97 L418,193.72 L418.5,189.06 L419,184.21 L419.5,179.57 L420,175.73 L420.5,173.3 L421,172.75 L421.5,174.23 L422,177.43 L422.5,181.8 L423,186.72 L423.5,191.69 L424,196.36 L424.5,200.58 L425,204.29 L425.5,207.49 L426,210.24 L426.5,212.58 L427,214.59 L427.5,216.3 L428,217.77 L428.5,219.04 L429,220.14 L429.5,221.09 L430,221.92 L430.5,222.64 L431,223.28 L431.5,223.85 L432,224.35 L432.5,224.8 L433,225.2 L433.5,225.56 L434,225.89 L434.5,226.18 L435,226.44 L435.5,226.69 L436,226.91 L436.5,227.11 L437,227.29 L437.5,227.46 L438,227.62 L438.5,227.76 L439,227.89 L439.5,228.02 L440,228.13 L440.5,228.24 L441,228.34 L441.5,228.43 L442,228.52 L442.5,228.6 L443,228.67 L443.5,228.74 L444,228.81 L444.5,228.87 L445,228.93 L445.5,228.99 L446,229.04 L446.5,229.09 L447,229.14 L447.5,229.18 L448,229.22 L448.5,229.26 L449,229.3 L449.5,229.34 L450,229.37 L450.5,229.4 L451,229.43 L451.5,229.46 L452,229.49 L452.5,229.52 L453,229.54 L453.5,229.57 L454,229.59 L454.5,229.61 L455,229.63 L455.5,229.65 L456,229.67 L456.5,229.69 L457,229.71 L457.5,229.72 L458,229.74 L458.5,229.75 L459,229.77 L459.5,229.78 L460,229.8 L460.5,229.81 L461,229.82 L461.5,229.83 L462,229.84 L462.5,229.85 L463,229.86 L463.5,229.87 L464,229.88 L464.5,229.89 L465,229.9 L465.5,229.9 L466,229.91 L466.5,229.91 L467,229.92 L467.5,229.92 L468,229.93 L468.5,229.93 L469,229.94 L469.5,229.94 L470,229.94 L470.5,229.94 L471,229.94 L471.5,229.94 L472,229.94 L472.5,229.94 L473,229.94 L473.5,229.94 L474,229.94 L474.5,229.93 L475,229.93 L475.5,229.92 L476,229.91 L476.5,229.9 L477,229.89 L477.5,229.88 L478,229.87 L478.5,229.85 L479,229.84 L479.5,229.82 L480,229.8 L480.5,229.77 L481,229.74 L481.5,229.71 L482,229.68 L482.5,229.64 L483,229.6 L483.5,229.55 L484,229.5 L484.5,229.44 L485,229.37 L485.5,229.3 L486,229.23 L486.5,229.14 L487,229.06 L487.5,228.97 L488,228.87 L488.5,228.78 L489,228.7 L489.5,228.62 L490,228.56 L490.5,228.52 L491,228.5 L491.5,228.51 L492,228.53 L492.5,228.59 L493,228.65 L493.5,228.74 L494,228.83 L494.5,228.92 L495,229.02 L495.5,229.12 L496,229.21 L496.5,229.3 L497,229.38 L497.5,229.45 L498,229.52 L498.5,229.58 L499,229.64 L499.5,229.69 L500,229.74 L500.5,229.78 L501,229.82 L501.5,229.86 L502,229.89 L502.5,229.92 L503,229.94 L503.5,229.97 L504,229.99 L504.5,230.01 L505,230.03 L505.5,230.05 L506,230.06 L506.5,230.08 L507,230.09 L507.5,230.1 L508,230.12 L508.5,230.13 L509,230.14 L509.5,230.15 L510,230.15 L510.5,230.16 L511,230.17 L511.5,230.18 L512,230.18 L512.5,230.19 L513,230.2 L513.5,230.2 L514,230.21 L514.5,230.21 L515,230.21 L515.5,230.22 L516,230.22 L516.5,230.22 L517,230.23 L517.5,230.23 L518,230.23 L518.5,230.24 L519,230.24 L519.5,230.24 L520,230.24 L520.5,230.24 L521,230.24 L521.5,230.24 L522,230.24 L522.5,230.25 L523,230.25 L523.5,230.25 L524,230.25 L524.5,230.24 L525,230.24 L525.5,230.24 L526,230.24 L526.5,230.24 L527,230.24 L527.5,230.24 L528,230.23 L528.5,230.23 L529,230.23 L529.5,230.22 L530,230.22 L530.5,230.22 L531,230.21 L531.5,230.2 L532,230.2 L532.5,230.19 L533,230.18 L533.5,230.18 L534,230.17 L534.5,230.16 L535,230.15 L535.5,230.13 L536,230.12 L536.5,230.1 L537,230.09 L537.5,230.07 L538,230.05 L538.5,230.02 L539,230 L539.5,229.97 L540,229.93 L540.5,229.89 L541,229.85 L541.5,229.79 L542,229.74 L542.5,229.67 L543,229.58 L543.5,229.49 L544,229.37 L544.5,229.24 L545,229.08 L545.5,228.88 L546,228.64 L546.5,228.35 L547,228 L547.5,227.58 L548,227.07 L548.5,226.5 L549,225.88 L549.5,225.28 L550,224.82 L550.5,224.61 L551,224.7 L551.5,225.07 L552,225.63 L552.5,226.25 L553,226.84 L553.5,227.38 L554,227.83 L554.5,228.21 L555,228.52 L555.5,228.78 L556,228.99 L556.5,229.16 L557,229.31 L557.5,229.43 L558,229.53 L558.5,229.61 L559,229.68 L559.5,229.74 L560,229.8 L560.5,229.84 L561,229.88 L561.5,229.91 L562,229.94 L562.5,229.97 L563,229.99 L563.5,230.01 L564,230.02 L564.5,230.04 L565,230.05 L565.5,230.06 L566,230.06 L566.5,230.07 L567,230.07 L567.5,230.07 L568,230.07 L568.5,230.07 L569,230.07 L569.5,230.06 L570,230.05 L570.5,230.04 L571,230.03 L571.5,230.02 L572,230 L572.5,229.98 L573,229.96 L573.5,229.93 L574,229.9 L574.5,229.86 L575,229.82 L575.5,229.77 L576,229.71 L576.5,229.64 L577,229.56 L577.5,229.47 L578,229.36 L578.5,229.24 L579,229.1 L579.5,228.94 L580,228.76 L580.5,228.58 L581,228.39 L581.5,228.22 L582,228.09 L582.5,228.01 L583,228.01 L583.5,228.07 L584,228.19 L584.5,228.35 L585,228.54 L585.5,228.72 L586,228.9 L586.5,229.06 L587,229.21 L587.5,229.34 L588,229.45 L588.5,229.54 L589,229.62 L589.5,229.69 L590,229.75 L590.5,229.8 L591,229.85 L591.5,229.88 L592,229.92 L592.5,229.94 L593,229.97 L593.5,229.99 L594,230 L594.5,230.02 L595,230.03 L595.5,230.04 L596,230.05 L596.5,230.05 L597,230.05 L597.5,230.06 L598,230.06 L598.5,230.05 L599,230.05 L599.5,230.04 L600,230.04 L600.5,230.03 L601,230.02 L601.5,230 L602,229.99 L602.5,229.97 L603,229.95 L603.5,229.93 L604,229.9 L604.5,229.87 L605,229.83 L605.5,229.79 L606,229.75 L606.5,229.69 L607,229.63 L607.5,229.56 L608,229.48 L608.5,229.38 L609,229.26 L609.5,229.13 L610,228.97 L610.5,228.78 L611,228.56 L611.5,228.29 L612,227.98 L612.5,227.61 L613,227.2 L613.5,226.76 L614,226.31 L614.5,225.91 L615,225.62 L615.5,225.5 L616,225.57 L616.5,225.81 L617,226.17 L617.5,226.56 L618,226.95 L618.5,227.31 L619,227.6 L619.5,227.84 L620,228.03 L620.5,228.16 L621,228.24 L621.5,228.29 L622,228.31 L622.5,228.3 L623,228.28 L623.5,228.27 L624,228.27 L624.5,228.3 L625,228.37 L625.5,228.46 L626,228.59 L626.5,228.72 L627,228.85 L627.5,228.98 L628,229.1 L628.5,229.2 L629,229.29 L629.5,229.37 L630,229.43 L630.5,229.49 L631,229.53 L631.5,229.57 L632,229.6 L632.5,229.62 L633,229.64 L633.5,229.65 L634,229.66 L634.5,229.67 L635,229.67 L635.5,229.68 L636,229.68 L636.5,229.68 L637,229.68 L637.5,229.68 L638,229.68 L638.5,229.68 L639,229.69 L639.5,229.69 L640,229.7 L640.5,229.71 L641,229.72 L641.5,229.74 L642,229.75 L642.5,229.77 L643,229.79 L643.5,229.81 L644,229.84 L644.5,229.86 L645,229.88 L645.5,229.91 L646,229.93 L646.5,229.95 L647,229.97 L647.5,230 L648,230.02 L648.5,230.04 L649,230.06 L649.5,230.08 L650,230.09 L650.5,230.11 L651,230.13 L651.5,230.14 L652,230.16 L652.5,230.17 L653,230.18 L653.5,230.2 L654,230.21 L654.5,230.22 L655,230.23 L655.5,230.24 L656,230.25 L656.5,230.26 L657,230.26 L657.5,230.27 L658,230.28 L658.5,230.29 L659,230.29 L659.5,230.3 L660,230.31 L660.5,230.31 L661,230.32 L661.5,230.32 L662,230.33 L662.5,230.33 L663,230.34 L663.5,230.34 L664,230.35 L664.5,230.35 L665,230.35 L665.5,230.36 L666,230.36 L666.5,230.36 L667,230.37 L667.5,230.37 L668,230.37 L668.5,230.38 L669,230.38 L669.5,230.38 L670,230.38 L670.5,230.39 L671,230.39 L671.5,230.39 L672,230.39 L672.5,230.4 L673,230.4 L673.5,230.4 L674,230.4 L674.5,230.4 L675,230.4 L675.5,230.41 L676,230.41 L676.5,230.41 L677,230.41" stroke="#70a01e"/>
<path d="M354.5,205.15 L355,205.14 L355.5,205.13 L356,205.13 L356.5,205.12 L357,205.11 L357.5,205.1 L358,205.09 L358.5,205.08 L359,205.07 L359.5,205.07 L360,205.06 L360.5,205.04 L361,205.03 L361.5,205.02 L362,205.01 L362.5,205 L363,204.99 L363.5,204.97 L364,204.96 L364.5,204.94 L365,204.93 L365.5,204.91 L366,204.9 L366.5,204.88 L367,204.86 L367.5,204.84 L368,204.82 L368.5,204.8 L369,204.78 L369.5,204.75 L370,204.73 L370.5,204.7 L371,204.68 L371.5,204.65 L372,204.62 L372.5,204.58 L373,204.55 L373.5,204.51 L374,204.47 L374.5,204.43 L375,204.38 L375.5,204.33 L376,204.28 L376.5,204.22 L377,204.16 L377.5,204.1 L378,204.02 L378.5,203.94 L379,203.86 L379.5,203.76 L380,203.66 L380.5,203.54 L381,203.41 L381.5,203.27 L382,203.11 L382.5,202.92 L383,202.72 L383.5,202.48 L384,202.21 L384.5,201.89 L385,201.53 L385.5,201.1 L386,200.59 L386.5,199.98 L387,199.24 L387.5,198.34 L388,197.24 L388.5,195.86 L389,194.15 L389.5,192.02 L390,189.39 L390.5,186.26 L391,182.73 L391.5,179.24 L392,176.51 L392.5,175.4 L393,176.29 L393.5,178.79 L394,182.05 L394.5,185.34 L395,188.22 L395.5,190.58 L396,192.42 L396.5,193.81 L397,194.83 L397.5,195.55 L398,196 L398.5,196.22 L399,196.24 L399.5,196.04 L400,195.64 L400.5,194.99 L401,194.07 L401.5,192.81 L402,191.14 L402.5,188.96 L403,186.17 L403.5,182.7 L404,178.64 L404.5,174.38 L405,170.78 L405.5,168.97 L406,169.66 L406.5,172.52 L407,176.49 L407.5,180.55 L408,184.11 L408.5,187 L409,189.24 L409.5,190.92 L410,192.14 L410.5,192.99 L411,193.52 L411.5,193.79 L412,193.83 L412.5,193.65 L413,193.25 L413.5,192.62 L414,191.74 L414.5,190.58 L415,189.09 L415.5,187.19 L416,184.8 L416.5,181.8 L417,178.04 L417.5,173.36 L418,167.58 L418.5,160.6 L419,152.55 L419.5,143.96 L420,136.03 L420.5,130.55 L421,129.21 L421.5,132.48 L422,139.29 L422.5,147.81 L423,156.42 L423.5,164.22 L424,170.86 L424.5,176.35 L425,180.81 L425.5,184.44 L426,187.38 L426.5,189.79 L427,191.77 L427.5,193.41 L428,194.79 L428.5,195.94 L429,196.92 L429.5,197.76 L430,198.49 L430.5,199.11 L431,199.66 L431.5,200.13 L432,200.55 L432.5,200.93 L433,201.26 L433.5,201.55 L434,201.82 L434.5,202.06 L435,202.27 L435.5,202.47 L436,202.65 L436.5,202.81 L437,202.96 L437.5,203.09 L438,203.22 L438.5,203.33 L439,203.44 L439.5,203.54 L440,203.63 L440.5,203.71 L441,203.79 L441.5,203.86 L442,203.93 L442.5,203.99 L443,204.05 L443.5,204.11 L444,204.16 L444.5,204.21 L445,204.26 L445.5,204.3 L446,204.34 L446.5,204.38 L447,204.42 L447.5,204.45 L448,204.49 L448.5,204.52 L449,204.55 L449.5,204.58 L450,204.6 L450.5,204.63 L451,204.65 L451.5,204.67 L452,204.7 L452.5,204.72 L453,204.74 L453.5,204.76 L454,204.77 L454.5,204.79 L455,204.81 L455.5,204.82 L456,204.84 L456.5,204.85 L457,204.86 L457.5,204.88 L458,204.89 L458.5,204.9 L459,204.91 L459.5,204.92 L460,204.93 L460.5,204.94 L461,204.95 L461.5,204.96 L462,204.97 L462.5,204.98 L463,204.98 L463.5,204.99 L464,205 L464.5,205 L465,205.01 L465.5,205.01 L466,205.02 L466.5,205.02 L467,205.02 L467.5,205.03 L468,205.03 L468.5,205.03 L469,205.03 L469.5,205.04 L470,205.04 L470.5,205.04 L471,205.04 L471.5,205.04 L472,205.03 L472.5,205.03 L473,205.03 L473.5,205.02 L474,205.02 L474.5,205.01 L475,205.01 L475.5,205 L476,204.99 L476.5,204.98 L477,204.97 L477.5,204.96 L478,204.94 L478.5,204.92 L479,204.9 L479.5,204.88 L480,204.86 L480.5,204.83 L481,204.8 L481.5,204.76 L482,204.72 L482.5,204.67 L483,204.62 L483.5,204.56 L484,204.48 L484.5,204.4 L485,204.31 L485.5,204.2 L486,204.08 L486.5,203.94 L487,203.79 L487.5,203.62 L488,203.43 L488.5,203.23 L489,203.03 L489.5,202.84 L490,202.68 L490.5,202.56 L491,202.5 L491.5,202.51 L492,202.59 L492.5,202.72 L493,202.89 L493.5,203.09 L494,203.29 L494.5,203.49 L495,203.68 L495.5,203.85 L496,204.01 L496.5,204.15 L497,204.27 L497.5,204.38 L498,204.47 L498.5,204.55 L499,204.63 L499.5,204.69 L500,204.75 L500.5,204.8 L501,204.84 L501.5,204.88 L502,204.92 L502.5,204.95 L503,204.98 L503.5,205.01 L504,205.03 L504.5,205.05 L505,205.07 L505.5,205.09 L506,205.1 L506.5,205.12 L507,205.13 L507.5,205.14 L508,205.15 L508.5,205.16 L509,205.17 L509.5,205.18 L510,205.19 L510.5,205.2 L511,205.2 L511.5,205.21 L512,205.22 L512.5,205.22 L513,205.23 L513.5,205.23 L514,205.24 L514.5,205.24 L515,205.24 L515.5,205.25 L516,205.25 L516.5,205.25 L517,205.26 L517.5,205.26 L518,205.26 L518.5,205.26 L519,205.26 L519.5,205.26 L520,205.27 L520.5,205.27 L521,205.27 L521.5,205.27 L522,205.27 L522.5,205.27 L523,205.27 L523.5,205.27 L524,205.27 L524.5,205.27 L525,205.26 L525.5,205.26 L526,205.26 L526.5,205.26 L527,205.26 L527.5,205.25 L528,205.25 L528.5,205.25 L529,205.24 L529.5,205.24 L530,205.24 L530.5,205.23 L531,205.23 L531.5,205.22 L532,205.21 L532.5,205.21 L533,205.2 L533.5,205.19 L534,205.18 L534.5,205.17 L535,205.16 L535.5,205.14 L536,205.13 L536.5,205.11 L537,205.1 L537.5,205.08 L538,205.05 L538.5,205.03 L539,205 L539.5,204.97 L540,204.94 L540.5,204.9 L541,204.85 L541.5,204.8 L542,204.73 L542.5,204.66 L543,204.58 L543.5,204.48 L544,204.37 L544.5,204.23 L545,204.06 L545.5,203.86 L546,203.62 L546.5,203.32 L547,202.97 L547.5,202.53 L548,202.02 L548.5,201.43 L549,200.8 L549.5,200.2 L550,199.73 L550.5,199.51 L551,199.6 L551.5,199.98 L552,200.55 L552.5,201.17 L553,201.78 L553.5,202.32 L554,202.79 L554.5,203.17 L555,203.49 L555.5,203.75 L556,203.96 L556.5,204.14 L557,204.28 L557.5,204.41 L558,204.51 L558.5,204.59 L559,204.67 L559.5,204.73 L560,204.78 L560.5,204.82 L561,204.86 L561.5,204.9 L562,204.92 L562.5,204.95 L563,204.97 L563.5,204.99 L564,205 L564.5,205.01 L565,205.02 L565.5,205.03 L566,205.03 L566.5,205.04 L567,205.04 L567.5,205.04 L568,205.03 L568.5,205.03 L569,205.02 L569.5,205.01 L570,205 L570.5,204.99 L571,204.97 L571.5,204.95 L572,204.93 L572.5,204.9 L573,204.86 L573.5,204.83 L574,204.78 L574.5,204.73 L575,204.67 L575.5,204.6 L576,204.51 L576.5,204.41 L577,204.3 L577.5,204.16 L578,203.99 L578.5,203.8 L579,203.57 L579.5,203.3 L580,202.99 L580.5,202.65 L581,202.3 L581.5,201.96 L582,201.69 L582.5,201.53 L583,201.51 L583.5,201.65 L584,201.9 L584.5,202.23 L585,202.58 L585.5,202.92 L586,203.24 L586.5,203.51 L587,203.75 L587.5,203.95 L588,204.12 L588.5,204.26 L589,204.38 L589.5,204.49 L590,204.57 L590.5,204.65 L591,204.71 L591.5,204.76 L592,204.81 L592.5,204.84 L593,204.88 L593.5,204.91 L594,204.93 L594.5,204.95 L595,204.97 L595.5,204.98 L596,204.99 L596.5,205 L597,205.01 L597.5,205.01 L598,205.01 L598.5,205.01 L599,205.01 L599.5,205.01 L600,205 L600.5,204.99 L601,204.98 L601.5,204.97 L602,204.96 L602.5,204.94 L603,204.92 L603.5,204.89 L604,204.86 L604.5,204.83 L605,204.79 L605.5,204.74 L606,204.69 L606.5,204.63 L607,204.56 L607.5,204.48 L608,204.4 L608.5,204.3 L609,204.19 L609.5,204.07 L610,203.93 L610.5,203.76 L611,203.55 L611.5,203.3 L612,203 L612.5,202.65 L613,202.24 L613.5,201.8 L614,201.34 L614.5,200.93 L615,200.63 L615.5,200.5 L616,200.57 L616.5,200.81 L617,201.15 L617.5,201.54 L618,201.91 L618.5,202.24 L619,202.5 L619.5,202.7 L620,202.84 L620.5,202.93 L621,202.96 L621.5,202.95 L622,202.91 L622.5,202.84 L623,202.77 L623.5,202.71 L624,202.68 L624.5,202.7 L625,202.77 L625.5,202.9 L626,203.06 L626.5,203.25 L627,203.44 L627.5,203.62 L628,203.78 L628.5,203.93 L629,204.06 L629.5,204.18 L630,204.27 L630.5,204.35 L631,204.42 L631.5,204.48 L632,204.53 L632.5,204.56 L633,204.6 L633.5,204.62 L634,204.64 L634.5,204.66 L635,204.67 L635.5,204.68 L636,204.69 L636.5,204.69 L637,204.69 L637.5,204.69 L638,204.69 L638.5,204.69 L639,204.68 L639.5,204.68 L640,204.68 L640.5,204.68 L641,204.69 L641.5,204.69 L642,204.7 L642.5,204.71 L643,204.72 L643.5,204.74 L644,204.75 L644.5,204.77 L645,204.79 L645.5,204.81 L646,204.83 L646.5,204.86 L647,204.88 L647.5,204.9 L648,204.93 L648.5,204.95 L649,204.97 L649.5,204.99 L650,205.02 L650.5,205.04 L651,205.06 L651.5,205.07 L652,205.09 L652.5,205.11 L653,205.13 L653.5,205.14 L654,205.16 L654.5,205.17 L655,205.18 L655.5,205.19 L656,205.21 L656.5,205.22 L657,205.23 L657.5,205.24 L658,205.25 L658.5,205.26 L659,205.26 L659.5,205.27 L660,205.28 L660.5,205.29 L661,205.29 L661.5,205.3 L662,205.31 L662.5,205.31 L663,205.32 L663.5,205.32 L664,205.33 L664.5,205.33 L665,205.34 L665.5,205.34 L666,205.35 L666.5,205.35 L667,205.35 L667.5,205.36 L668,205.36 L668.5,205.37 L669,205.37 L669.5,205.37 L670,205.37 L670.5,205.38 L671,205.38 L671.5,205.38 L672,205.39 L672.5,205.39 L673,205.39 L673.5,205.39 L674,205.39 L674.5,205.4 L675,205.4 L675.5,205.4 L676,205.4 L676.5,205.4 L677,205.41" stroke="#4ad43a"/>
<path d="M354.5,180.66 L355,180.66 L355.5,180.65 L356,180.64 L356.5,180.63 L357,180.63 L357.5,180.62 L358,180.61 L358.5,180.6 L359,180.59 L359.5,180.58 L360,180.57 L360.5,180.56 L361,180.55 L361.5,180.54 L362,180.53 L362.5,180.52 L363,180.5 L363.5,180.49 L364,180.48 L364.5,180.46 L365,180.45 L365.5,180.43 L366,180.41 L366.5,180.4 L367,180.38 L367.5,180.36 L368,180.34 L368.5,180.32 L369,180.3 L369.5,180.27 L370,180.25 L370.5,180.22 L371,180.2 L371.5,180.17 L372,180.14 L372.5,180.1 L373,180.07 L373.5,180.03 L374,179.99 L374.5,179.95 L375,179.9 L375.5,179.85 L376,179.8 L376.5,179.74 L377,179.68 L377.5,179.61 L378,179.53 L378.5,179.45 L379,179.36 L379.5,179.26 L380,179.15 L380.5,179.03 L381,178.9 L381.5,178.75 L382,178.58 L382.5,178.39 L383,178.17 L383.5,177.92 L384,177.63 L384.5,177.29 L385,176.9 L385.5,176.44 L386,175.88 L386.5,175.22 L387,174.41 L387.5,173.41 L388,172.17 L388.5,170.63 L389,168.68 L389.5,166.24 L390,163.19 L390.5,159.52 L391,155.41 L391.5,151.4 L392,148.47 L392.5,147.63 L393,149.2 L393.5,152.5 L394,156.44 L394.5,160.2 L395,163.4 L395.5,165.95 L396,167.92 L396.5,169.41 L397,170.5 L397.5,171.28 L398,171.78 L398.5,172.06 L399,172.13 L399.5,171.99 L400,171.65 L400.5,171.07 L401,170.21 L401.5,169.03 L402,167.43 L402.5,165.32 L403,162.58 L403.5,159.15 L404,155.11 L404.5,150.93 L405,147.55 L405.5,146.2 L406,147.44 L406.5,150.7 L407,154.77 L407.5,158.69 L408,162 L408.5,164.61 L409,166.6 L409.5,168.06 L410,169.11 L410.5,169.82 L411,170.26 L411.5,170.46 L412,170.44 L412.5,170.23 L413,169.81 L413.5,169.17 L414,168.3 L414.5,167.14 L415,165.64 L415.5,163.72 L416,161.25 L416.5,158.08 L417,154 L417.5,148.69 L418,141.8 L418.5,132.9 L419,121.65 L419.5,108.25 L420,94.1 L420.5,82.55 L421,78 L421.5,82.66 L422,94.32 L422.5,108.58 L423,122.1 L423.5,133.46 L424,142.5 L424.5,149.53 L425,154.98 L425.5,159.22 L426,162.56 L426.5,165.22 L427,167.35 L427.5,169.09 L428,170.52 L428.5,171.71 L429,172.71 L429.5,173.56 L430,174.28 L430.5,174.9 L431,175.44 L431.5,175.9 L432,176.31 L432.5,176.68 L433,177 L433.5,177.28 L434,177.54 L434.5,177.76 L435,177.97 L435.5,178.16 L436,178.33 L436.5,178.48 L437,178.62 L437.5,178.75 L438,178.86 L438.5,178.97 L439,179.07 L439.5,179.16 L440,179.25 L440.5,179.33 L441,179.4 L441.5,179.47 L442,179.53 L442.5,179.59 L443,179.65 L443.5,179.7 L444,179.75 L444.5,179.8 L445,179.84 L445.5,179.88 L446,179.92 L446.5,179.95 L447,179.99 L447.5,180.02 L448,180.05 L448.5,180.08 L449,180.11 L449.5,180.13 L450,180.16 L450.5,180.18 L451,180.2 L451.5,180.22 L452,180.24 L452.5,180.26 L453,180.28 L453.5,180.3 L454,180.31 L454.5,180.33 L455,180.34 L455.5,180.36 L456,180.37 L456.5,180.38 L457,180.39 L457.5,180.4 L458,180.42 L458.5,180.43 L459,180.44 L459.5,180.44 L460,180.45 L460.5,180.46 L461,180.47 L461.5,180.48 L462,180.48 L462.5,180.49 L463,180.49 L463.5,180.5 L464,180.5 L464.5,180.51 L465,180.51 L465.5,180.52 L466,180.52 L466.5,180.52 L467,180.52 L467.5,180.52 L468,180.52 L468.5,180.52 L469,180.52 L469.5,180.52 L470,180.52 L470.5,180.52 L471,180.52 L471.5,180.51 L472,180.51 L472.5,180.5 L473,180.5 L473.5,180.49 L474,180.48 L474.5,180.47 L475,180.46 L475.5,180.45 L476,180.43 L476.5,180.42 L477,180.4 L477.5,180.38 L478,180.35 L478.5,180.33 L479,180.3 L479.5,180.26 L480,180.22 L480.5,180.18 L481,180.12 L481.5,180.06 L482,180 L482.5,179.92 L483,179.82 L483.5,179.71 L484,179.59 L484.5,179.43 L485,179.25 L485.5,179.03 L486,178.77 L486.5,178.45 L487,178.06 L487.5,177.58 L488,177.01 L488.5,176.32 L489,175.53 L489.5,174.67 L490,173.82 L490.5,173.12 L491,172.74 L491.5,172.78 L492,173.24 L492.5,173.99 L493,174.85 L493.5,175.71 L494,176.49 L494.5,177.15 L495,177.71 L495.5,178.17 L496,178.55 L496.5,178.86 L497,179.12 L497.5,179.33 L498,179.51 L498.5,179.66 L499,179.79 L499.5,179.9 L500,179.99 L500.5,180.07 L501,180.14 L501.5,180.21 L502,180.26 L502.5,180.31 L503,180.35 L503.5,180.39 L504,180.42 L504.5,180.45 L505,180.48 L505.5,180.5 L506,180.53 L506.5,180.55 L507,180.56 L507.5,180.58 L508,180.6 L508.5,180.61 L509,180.62 L509.5,180.64 L510,180.65 L510.5,180.66 L511,180.67 L511.5,180.67 L512,180.68 L512.5,180.69 L513,180.7 L513.5,180.7 L514,180.71 L514.5,180.71 L515,180.72 L515.5,180.72 L516,180.73 L516.5,180.73 L517,180.73 L517.5,180.74 L518,180.74 L518.5,180.74 L519,180.74 L519.5,180.75 L520,180.75 L520.5,180.75 L521,180.75 L521.5,180.75 L522,180.75 L522.5,180.75 L523,180.75 L523.5,180.75 L524,180.75 L524.5,180.75 L525,180.75 L525.5,180.75 L526,180.75 L526.5,180.75 L527,180.74 L527.5,180.74 L528,180.74 L528.5,180.74 L529,180.73 L529.5,180.73 L530,180.72 L530.5,180.72 L531,180.71 L531.5,180.71 L532,180.7 L532.5,180.69 L533,180.68 L533.5,180.68 L534,180.67 L534.5,180.65 L535,180.64 L535.5,180.63 L536,180.61 L536.5,180.6 L537,180.58 L537.5,180.56 L538,180.54 L538.5,180.51 L539,180.48 L539.5,180.45 L540,180.41 L540.5,180.37 L541,180.32 L541.5,180.26 L542,180.2 L542.5,180.12 L543,180.04 L543.5,179.93 L544,179.81 L544.5,179.67 L545,179.49 L545.5,179.28 L546,179.03 L546.5,178.72 L547,178.34 L547.5,177.89 L548,177.35 L548.5,176.73 L549,176.07 L549.5,175.43 L550,174.94 L550.5,174.71 L551,174.81 L551.5,175.21 L552,175.8 L552.5,176.46 L553,177.1 L553.5,177.67 L554,178.15 L554.5,178.56 L555,178.89 L555.5,179.17 L556,179.39 L556.5,179.57 L557,179.73 L557.5,179.86 L558,179.96 L558.5,180.05 L559,180.13 L559.5,180.19 L560,180.25 L560.5,180.3 L561,180.34 L561.5,180.37 L562,180.4 L562.5,180.43 L563,180.45 L563.5,180.47 L564,180.48 L564.5,180.49 L565,180.5 L565.5,180.51 L566,180.52 L566.5,180.52 L567,180.52 L567.5,180.52 L568,180.52 L568.5,180.51 L569,180.51 L569.5,180.5 L570,180.48 L570.5,180.47 L571,180.45 L571.5,180.43 L572,180.4 L572.5,180.37 L573,180.34 L573.5,180.29 L574,180.25 L574.5,180.19 L575,180.12 L575.5,180.04 L576,179.94 L576.5,179.83 L577,179.69 L577.5,179.52 L578,179.32 L578.5,179.08 L579,178.78 L579.5,178.41 L580,177.98 L580.5,177.47 L581,176.91 L581.5,176.34 L582,175.85 L582.5,175.55 L583,175.52 L583.5,175.77 L584,176.23 L584.5,176.79 L585,177.36 L585.5,177.88 L586,178.33 L586.5,178.7 L587,179.02 L587.5,179.27 L588,179.48 L588.5,179.65 L589,179.8 L589.5,179.91 L590,180.01 L590.5,180.09 L591,180.16 L591.5,180.22 L592,180.27 L592.5,180.31 L593,180.35 L593.5,180.38 L594,180.41 L594.5,180.43 L595,180.45 L595.5,180.46 L596,180.47 L596.5,180.48 L597,180.49 L597.5,180.49 L598,180.49 L598.5,180.49 L599,180.49 L599.5,180.48 L600,180.47 L600.5,180.46 L601,180.45 L601.5,180.43 L602,180.41 L602.5,180.38 L603,180.35 L603.5,180.32 L604,180.28 L604.5,180.23 L605,180.17 L605.5,180.1 L606,180.02 L606.5,179.92 L607,179.82 L607.5,179.71 L608,179.6 L608.5,179.5 L609,179.41 L609.5,179.32 L610,179.22 L610.5,179.09 L611,178.92 L611.5,178.71 L612,178.45 L612.5,178.12 L613,177.73 L613.5,177.3 L614,176.85 L614.5,176.43 L615,176.13 L615.5,176 L616,176.08 L616.5,176.34 L617,176.7 L617.5,177.1 L618,177.48 L618.5,177.8 L619,178.06 L619.5,178.25 L620,178.37 L620.5,178.43 L621,178.43 L621.5,178.38 L622,178.28 L622.5,178.15 L623,178.01 L623.5,177.88 L624,177.8 L624.5,177.8 L625,177.89 L625.5,178.06 L626,178.29 L626.5,178.54 L627,178.79 L627.5,179.02 L628,179.22 L628.5,179.39 L629,179.54 L629.5,179.67 L630,179.77 L630.5,179.86 L631,179.93 L631.5,179.99 L632,180.04 L632.5,180.08 L633,180.11 L633.5,180.14 L634,180.16 L634.5,180.17 L635,180.18 L635.5,180.19 L636,180.2 L636.5,180.2 L637,180.2 L637.5,180.2 L638,180.19 L638.5,180.19 L639,180.19 L639.5,180.19 L640,180.19 L640.5,180.19 L641,180.19 L641.5,180.19 L642,180.2 L642.5,180.21 L643,180.22 L643.5,180.23 L644,180.25 L644.5,180.26 L645,180.28 L645.5,180.3 L646,180.32 L646.5,180.34 L647,180.37 L647.5,180.39 L648,180.41 L648.5,180.43 L649,180.45 L649.5,180.47 L650,180.49 L650.5,180.51 L651,180.52 L651.5,180.54 L652,180.55 L652.5,180.57 L653,180.58 L653.5,180.59 L654,180.6 L654.5,180.61 L655,180.61 L655.5,180.62 L656,180.62 L656.5,180.63 L657,180.63 L657.5,180.63 L658,180.62 L658.5,180.62 L659,180.61 L659.5,180.6 L660,180.59 L660.5,180.57 L661,180.55 L661.5,180.52 L662,180.49 L662.5,180.45 L663,180.41 L663.5,180.36 L664,180.31 L664.5,180.27 L665,180.23 L665.5,180.21 L666,180.2 L666.5,180.21 L667,180.25 L667.5,180.29 L668,180.34 L668.5,180.4 L669,180.46 L669.5,180.51 L670,180.55 L670.5,180.59 L671,180.63 L671.5,180.66 L672,180.69 L672.5,180.71 L673,180.73 L673.5,180.75 L674,180.77 L674.5,180.78 L675,180.79 L675.5,180.81 L676,180.82 L676.5,180.82 L677,180.83" stroke="#32ee32"/>
</g>
<line x1="373.2" y1="408.8" x2="373.2" y2="219" stroke="#333" stroke-width="1"/>
<path d="M373.3,216.6 L371.2,222 L375.4,222 Z" fill="#222"/>
<text x="362" y="198" font-size="8.7" fill="#2a9a2a" stroke="#2a9a2a" stroke-width="0.12" text-anchor="start" >HCP</text>
<text x="363.5" y="423.3" font-size="8.7" fill="#3030f0" stroke="#3030f0" stroke-width="0.12" text-anchor="start" >FCC</text>
<line x1="405.17" y1="434" x2="405.17" y2="442.2" stroke="#1c1cf0" stroke-width="1.9"/>
<line x1="441" y1="434" x2="441" y2="442.2" stroke="#1c1cf0" stroke-width="1.9"/>
<line x1="550.66" y1="434" x2="550.66" y2="442.2" stroke="#1c1cf0" stroke-width="1.9"/>
<line x1="615.16" y1="434" x2="615.16" y2="442.2" stroke="#1c1cf0" stroke-width="1.9"/>
<line x1="634.51" y1="434" x2="634.51" y2="442.2" stroke="#1c1cf0" stroke-width="1.9"/>
<line x1="392.27" y1="449" x2="392.27" y2="457.5" stroke="#1a8a1a" stroke-width="1.9"/>
<line x1="405.17" y1="449" x2="405.17" y2="457.5" stroke="#1a8a1a" stroke-width="1.9"/>
<line x1="420.94" y1="449" x2="420.94" y2="457.5" stroke="#1a8a1a" stroke-width="1.9"/>
<line x1="491.17" y1="449" x2="491.17" y2="457.5" stroke="#1a8a1a" stroke-width="1.9"/>
<line x1="550.66" y1="449" x2="550.66" y2="457.5" stroke="#1a8a1a" stroke-width="1.9"/>
<line x1="582.19" y1="449" x2="582.19" y2="457.5" stroke="#1a8a1a" stroke-width="1.9"/>
<line x1="608.71" y1="449" x2="608.71" y2="457.5" stroke="#1a8a1a" stroke-width="1.9"/>
<line x1="615.16" y1="449" x2="615.16" y2="457.5" stroke="#1a8a1a" stroke-width="1.9"/>
<line x1="624.48" y1="449" x2="624.48" y2="457.5" stroke="#1a8a1a" stroke-width="1.9"/>
<line x1="634.51" y1="449" x2="634.51" y2="457.5" stroke="#1a8a1a" stroke-width="1.9"/>
<path d="M677,0.5 L354.5,0.5 L354.5,468" fill="none" stroke="#3c3c3c" stroke-width="1"/>
<line x1="354.5" y1="468" x2="677" y2="468" stroke="#3c3c3c" stroke-width="1"/>
<line x1="677" y1="0.5" x2="677" y2="468" stroke="#a0a0a0" stroke-width="1.3"/>
<line x1="354.5" y1="468" x2="354.5" y2="462" stroke="#3c3c3c" stroke-width="1"/>
<line x1="361.67" y1="468" x2="361.67" y2="464.8" stroke="#3c3c3c" stroke-width="1"/>
<line x1="368.83" y1="468" x2="368.83" y2="464.8" stroke="#3c3c3c" stroke-width="1"/>
<line x1="376" y1="468" x2="376" y2="464.8" stroke="#3c3c3c" stroke-width="1"/>
<line x1="383.17" y1="468" x2="383.17" y2="464.8" stroke="#3c3c3c" stroke-width="1"/>
<line x1="390.33" y1="468" x2="390.33" y2="462" stroke="#3c3c3c" stroke-width="1"/>
<line x1="397.5" y1="468" x2="397.5" y2="464.8" stroke="#3c3c3c" stroke-width="1"/>
<line x1="404.67" y1="468" x2="404.67" y2="464.8" stroke="#3c3c3c" stroke-width="1"/>
<line x1="411.84" y1="468" x2="411.84" y2="464.8" stroke="#3c3c3c" stroke-width="1"/>
<line x1="419" y1="468" x2="419" y2="464.8" stroke="#3c3c3c" stroke-width="1"/>
<line x1="426.17" y1="468" x2="426.17" y2="462" stroke="#3c3c3c" stroke-width="1"/>
<line x1="433.34" y1="468" x2="433.34" y2="464.8" stroke="#3c3c3c" stroke-width="1"/>
<line x1="440.5" y1="468" x2="440.5" y2="464.8" stroke="#3c3c3c" stroke-width="1"/>
<line x1="447.67" y1="468" x2="447.67" y2="464.8" stroke="#3c3c3c" stroke-width="1"/>
<line x1="454.84" y1="468" x2="454.84" y2="464.8" stroke="#3c3c3c" stroke-width="1"/>
<line x1="462" y1="468" x2="462" y2="462" stroke="#3c3c3c" stroke-width="1"/>
<line x1="469.17" y1="468" x2="469.17" y2="464.8" stroke="#3c3c3c" stroke-width="1"/>
<line x1="476.34" y1="468" x2="476.34" y2="464.8" stroke="#3c3c3c" stroke-width="1"/>
<line x1="483.51" y1="468" x2="483.51" y2="464.8" stroke="#3c3c3c" stroke-width="1"/>
<line x1="490.67" y1="468" x2="490.67" y2="464.8" stroke="#3c3c3c" stroke-width="1"/>
<line x1="497.84" y1="468" x2="497.84" y2="462" stroke="#3c3c3c" stroke-width="1"/>
<line x1="505.01" y1="468" x2="505.01" y2="464.8" stroke="#3c3c3c" stroke-width="1"/>
<line x1="512.17" y1="468" x2="512.17" y2="464.8" stroke="#3c3c3c" stroke-width="1"/>
<line x1="519.34" y1="468" x2="519.34" y2="464.8" stroke="#3c3c3c" stroke-width="1"/>
<line x1="526.51" y1="468" x2="526.51" y2="464.8" stroke="#3c3c3c" stroke-width="1"/>
<line x1="533.67" y1="468" x2="533.67" y2="462" stroke="#3c3c3c" stroke-width="1"/>
<line x1="540.84" y1="468" x2="540.84" y2="464.8" stroke="#3c3c3c" stroke-width="1"/>
<line x1="548.01" y1="468" x2="548.01" y2="464.8" stroke="#3c3c3c" stroke-width="1"/>
<line x1="555.18" y1="468" x2="555.18" y2="464.8" stroke="#3c3c3c" stroke-width="1"/>
<line x1="562.34" y1="468" x2="562.34" y2="464.8" stroke="#3c3c3c" stroke-width="1"/>
<line x1="569.51" y1="468" x2="569.51" y2="462" stroke="#3c3c3c" stroke-width="1"/>
<line x1="576.68" y1="468" x2="576.68" y2="464.8" stroke="#3c3c3c" stroke-width="1"/>
<line x1="583.84" y1="468" x2="583.84" y2="464.8" stroke="#3c3c3c" stroke-width="1"/>
<line x1="591.01" y1="468" x2="591.01" y2="464.8" stroke="#3c3c3c" stroke-width="1"/>
<line x1="598.18" y1="468" x2="598.18" y2="464.8" stroke="#3c3c3c" stroke-width="1"/>
<line x1="605.35" y1="468" x2="605.35" y2="462" stroke="#3c3c3c" stroke-width="1"/>
<line x1="612.51" y1="468" x2="612.51" y2="464.8" stroke="#3c3c3c" stroke-width="1"/>
<line x1="619.68" y1="468" x2="619.68" y2="464.8" stroke="#3c3c3c" stroke-width="1"/>
<line x1="626.85" y1="468" x2="626.85" y2="464.8" stroke="#3c3c3c" stroke-width="1"/>
<line x1="634.01" y1="468" x2="634.01" y2="464.8" stroke="#3c3c3c" stroke-width="1"/>
<line x1="641.18" y1="468" x2="641.18" y2="462" stroke="#3c3c3c" stroke-width="1"/>
<line x1="648.35" y1="468" x2="648.35" y2="464.8" stroke="#3c3c3c" stroke-width="1"/>
<line x1="655.51" y1="468" x2="655.51" y2="464.8" stroke="#3c3c3c" stroke-width="1"/>
<line x1="662.68" y1="468" x2="662.68" y2="464.8" stroke="#3c3c3c" stroke-width="1"/>
<line x1="669.85" y1="468" x2="669.85" y2="464.8" stroke="#3c3c3c" stroke-width="1"/>
<line x1="677.01" y1="468" x2="677.01" y2="462" stroke="#3c3c3c" stroke-width="1"/>
<text x="355.2" y="478.6" font-size="11.2" fill="#151515" stroke="#151515" stroke-width="0.12" text-anchor="middle" >2.5</text>
<text x="391.03" y="478.6" font-size="11.2" fill="#151515" stroke="#151515" stroke-width="0.12" text-anchor="middle" >3.0</text>
<text x="426.87" y="478.6" font-size="11.2" fill="#151515" stroke="#151515" stroke-width="0.12" text-anchor="middle" >3.5</text>
<text x="462.7" y="478.6" font-size="11.2" fill="#151515" stroke="#151515" stroke-width="0.12" text-anchor="middle" >4.0</text>
<text x="498.54" y="478.6" font-size="11.2" fill="#151515" stroke="#151515" stroke-width="0.12" text-anchor="middle" >4.5</text>
<text x="534.38" y="478.6" font-size="11.2" fill="#151515" stroke="#151515" stroke-width="0.12" text-anchor="middle" >5.0</text>
<text x="570.21" y="478.6" font-size="11.2" fill="#151515" stroke="#151515" stroke-width="0.12" text-anchor="middle" >5.5</text>
<text x="606.05" y="478.6" font-size="11.2" fill="#151515" stroke="#151515" stroke-width="0.12" text-anchor="middle" >6.0</text>
<text x="641.88" y="478.6" font-size="11.2" fill="#151515" stroke="#151515" stroke-width="0.12" text-anchor="middle" >6.5</text>
<text x="677.72" y="478.6" font-size="11.2" fill="#151515" stroke="#151515" stroke-width="0.12" text-anchor="middle" >7.0</text>
<text x="516" y="492.9" font-size="11.6" fill="#151515" stroke="#151515" stroke-width="0.12" text-anchor="middle" >Q [Å<tspan dy="-3.3" font-size="8.6">−<tspan dx="1.3">1</tspan></tspan><tspan dy="3.3" dx="0.8">]</tspan></text>
<text x="340" y="10.8" font-size="12.3" fill="#151515" stroke="#151515" stroke-width="0.12" text-anchor="start" >c)</text>
<text transform="translate(350.2,222.6) rotate(-90)" font-size="11.2" fill="#151515" stroke="#151515" stroke-width="0.12" text-anchor="middle">Intensity [arb.units]</text>
<rect x="497.9" y="123" width="5.4" height="13.9" fill="#2a2af8"/>
<rect x="503" y="123" width="5.4" height="13.9" fill="#2000e0"/>
<rect x="508.1" y="123" width="5.4" height="13.9" fill="#5a30d0"/>
<rect x="513.2" y="123" width="5.4" height="13.9" fill="#6810c0"/>
<rect x="518.3" y="123" width="5.4" height="13.9" fill="#9030b0"/>
<rect x="523.4" y="123" width="5.4" height="13.9" fill="#980080"/>
<rect x="528.5" y="123" width="5.4" height="13.9" fill="#c03070"/>
<rect x="533.6" y="123" width="5.4" height="13.9" fill="#d01040"/>
<rect x="538.7" y="123" width="5.4" height="13.9" fill="#e82840"/>
<rect x="543.8" y="123" width="5.4" height="13.9" fill="#ff0000"/>
<rect x="548.9" y="123" width="5.4" height="13.9" fill="#e84030"/>
<rect x="554" y="123" width="5.4" height="13.9" fill="#d83000"/>
<rect x="559.1" y="123" width="5.4" height="13.9" fill="#c07030"/>
<rect x="564.2" y="123" width="5.4" height="13.9" fill="#a07000"/>
<rect x="569.3" y="123" width="5.4" height="13.9" fill="#90a030"/>
<rect x="574.4" y="123" width="5.4" height="13.9" fill="#60a000"/>
<rect x="579.5" y="123" width="5.4" height="13.9" fill="#60c030"/>
<rect x="584.6" y="123" width="5.4" height="13.9" fill="#30c000"/>
<rect x="589.7" y="123" width="5.4" height="13.9" fill="#20f020"/>
<rect x="497.9" y="123" width="96.9" height="13.9" fill="none" stroke="#333" stroke-width="0.7"/>
<line x1="497.9" y1="136.9" x2="497.9" y2="139.4" stroke="#333" stroke-width="0.8"/>
<line x1="546.35" y1="136.9" x2="546.35" y2="139.4" stroke="#333" stroke-width="0.8"/>
<line x1="594.8" y1="136.9" x2="594.8" y2="139.4" stroke="#333" stroke-width="0.8"/>
<text x="497.9" y="149.8" font-size="11.3" fill="#151515" stroke="#151515" stroke-width="0.12" text-anchor="middle" >0.0</text>
<text x="546.35" y="149.8" font-size="11.3" fill="#151515" stroke="#151515" stroke-width="0.12" text-anchor="middle" >0.5</text>
<text x="594.8" y="149.8" font-size="11.3" fill="#151515" stroke="#151515" stroke-width="0.12" text-anchor="middle" >1.0</text>
<text x="547.9" y="161.8" font-size="12.5" fill="#151515" stroke="#151515" stroke-width="0.12" text-anchor="middle" >α</text>
<text x="477.6" y="31.9" font-size="12" fill="#151515" stroke="#151515" stroke-width="0.12" text-anchor="middle" >FCC</text>
<circle cx="443.6" cy="48.7" r="5.6" fill="#f05050" stroke="#6e6e6e" stroke-width="0.6"/>
<circle cx="461.8" cy="61.6" r="5.6" fill="#d8e0a6" stroke="#6e6e6e" stroke-width="0.6"/>
<circle cx="452.1" cy="74.1" r="5.6" fill="#a8c8f6" stroke="#6e6e6e" stroke-width="0.6"/>
<circle cx="470.35" cy="48.7" r="5.6" fill="#f05050" stroke="#6e6e6e" stroke-width="0.6"/>
<circle cx="488.55" cy="61.6" r="5.6" fill="#d8e0a6" stroke="#6e6e6e" stroke-width="0.6"/>
<circle cx="478.85" cy="74.1" r="5.6" fill="#a8c8f6" stroke="#6e6e6e" stroke-width="0.6"/>
<circle cx="497.1" cy="48.7" r="5.6" fill="#f05050" stroke="#6e6e6e" stroke-width="0.6"/>
<circle cx="515.3" cy="61.6" r="5.6" fill="#d8e0a6" stroke="#6e6e6e" stroke-width="0.6"/>
<circle cx="505.6" cy="74.1" r="5.6" fill="#a8c8f6" stroke="#6e6e6e" stroke-width="0.6"/>
<text x="430.6" y="53.3" font-size="12" fill="#151515" stroke="#151515" stroke-width="0.12" text-anchor="middle" >C</text>
<text x="430.6" y="66.1" font-size="12" fill="#151515" stroke="#151515" stroke-width="0.12" text-anchor="middle" >B</text>
<text x="430.6" y="78.9" font-size="12" fill="#151515" stroke="#151515" stroke-width="0.12" text-anchor="middle" >A</text>
<line x1="524.2" y1="43.5" x2="524.2" y2="82.4" stroke="#9a9a9a" stroke-width="1"/>
<line x1="522" y1="43.5" x2="526.5" y2="43.5" stroke="#555" stroke-width="0.9"/>
<line x1="522" y1="82.4" x2="526.5" y2="82.4" stroke="#555" stroke-width="0.9"/>
<text x="530.3" y="63.3" font-size="12.5" fill="#151515" stroke="#151515" stroke-width="0.12" text-anchor="start" >fcc</text>
<text x="607.6" y="13.1" font-size="12" fill="#151515" stroke="#151515" stroke-width="0.12" text-anchor="middle" >Stacking Fault</text>
<text x="558.9" y="33.7" font-size="12" fill="#151515" stroke="#151515" stroke-width="0.12" text-anchor="middle" >A</text>
<circle cx="580.4" cy="28.8" r="5.6" fill="#a8c8f6" stroke="#6e6e6e" stroke-width="0.6"/>
<circle cx="607.3" cy="28.8" r="5.6" fill="#a8c8f6" stroke="#6e6e6e" stroke-width="0.6"/>
<circle cx="634.2" cy="28.8" r="5.6" fill="#a8c8f6" stroke="#6e6e6e" stroke-width="0.6"/>
<text x="558.9" y="46.4" font-size="12" fill="#151515" stroke="#151515" stroke-width="0.12" text-anchor="middle" >B</text>
<circle cx="589.6" cy="41.5" r="5.6" fill="#d8e0a6" stroke="#6e6e6e" stroke-width="0.6"/>
<circle cx="616.35" cy="41.5" r="5.6" fill="#d8e0a6" stroke="#6e6e6e" stroke-width="0.6"/>
<circle cx="643.1" cy="41.5" r="5.6" fill="#d8e0a6" stroke="#6e6e6e" stroke-width="0.6"/>
<text x="558.9" y="58.8" font-size="12" fill="#151515" stroke="#151515" stroke-width="0.12" text-anchor="middle" >A</text>
<circle cx="580.4" cy="53.9" r="5.6" fill="#a8c8f6" stroke="#6e6e6e" stroke-width="0.6"/>
<circle cx="607.3" cy="53.9" r="5.6" fill="#a8c8f6" stroke="#6e6e6e" stroke-width="0.6"/>
<circle cx="634.2" cy="53.9" r="5.6" fill="#a8c8f6" stroke="#6e6e6e" stroke-width="0.6"/>
<text x="558.9" y="71.4" font-size="12" fill="#151515" stroke="#151515" stroke-width="0.12" text-anchor="middle" >C</text>
<circle cx="571.7" cy="66.5" r="5.6" fill="#f05050" stroke="#6e6e6e" stroke-width="0.6"/>
<circle cx="598.3" cy="66.5" r="5.6" fill="#f05050" stroke="#6e6e6e" stroke-width="0.6"/>
<circle cx="624.9" cy="66.5" r="5.6" fill="#f05050" stroke="#6e6e6e" stroke-width="0.6"/>
<text x="558.9" y="84" font-size="12" fill="#151515" stroke="#151515" stroke-width="0.12" text-anchor="middle" >B</text>
<circle cx="589.6" cy="79.1" r="5.6" fill="#d8e0a6" stroke="#6e6e6e" stroke-width="0.6"/>
<circle cx="616.35" cy="79.1" r="5.6" fill="#d8e0a6" stroke="#6e6e6e" stroke-width="0.6"/>
<circle cx="643.1" cy="79.1" r="5.6" fill="#d8e0a6" stroke="#6e6e6e" stroke-width="0.6"/>
<text x="558.9" y="96.5" font-size="12" fill="#151515" stroke="#151515" stroke-width="0.12" text-anchor="middle" >A</text>
<circle cx="580.4" cy="91.6" r="5.6" fill="#a8c8f6" stroke="#6e6e6e" stroke-width="0.6"/>
<circle cx="607.3" cy="91.6" r="5.6" fill="#a8c8f6" stroke="#6e6e6e" stroke-width="0.6"/>
<circle cx="634.2" cy="91.6" r="5.6" fill="#a8c8f6" stroke="#6e6e6e" stroke-width="0.6"/>
<line x1="567" y1="60.5" x2="676.4" y2="60.5" stroke="#555" stroke-width="0.8" stroke-dasharray="1 1"/>
<line x1="651.5" y1="19.5" x2="651.5" y2="102.4" stroke="#9a9a9a" stroke-width="1"/>
<line x1="649.4" y1="19.5" x2="653.6" y2="19.5" stroke="#555" stroke-width="0.9"/>
<line x1="649.4" y1="58.9" x2="653.6" y2="58.9" stroke="#555" stroke-width="0.9"/>
<line x1="649.4" y1="62.6" x2="653.6" y2="62.6" stroke="#555" stroke-width="0.9"/>
<line x1="649.4" y1="102.4" x2="653.6" y2="102.4" stroke="#555" stroke-width="0.9"/>
<text x="656.2" y="45.3" font-size="12.5" fill="#151515" stroke="#151515" stroke-width="0.12" text-anchor="start" >hcp</text>
<text x="658.5" y="82" font-size="12.5" fill="#151515" stroke="#151515" stroke-width="0.12" text-anchor="start" >fcc</text>
</svg>
</body></html>
